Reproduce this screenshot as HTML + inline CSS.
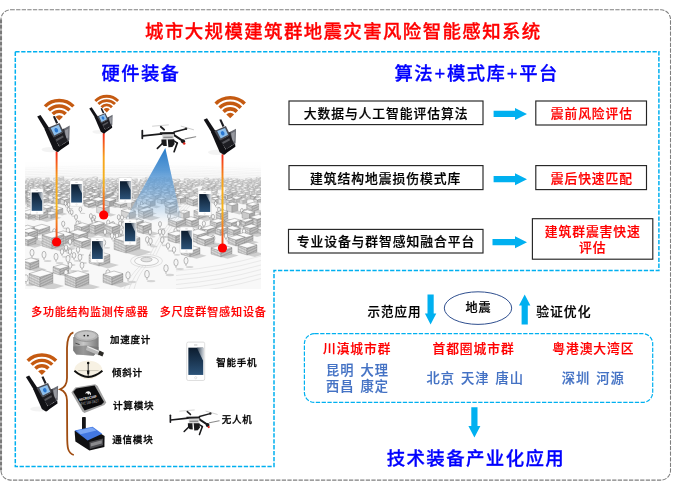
<!DOCTYPE html>
<html lang="zh-CN">
<head>
<meta charset="utf-8">
<title>城市大规模建筑群地震灾害风险智能感知系统</title>
<style>
html,body{margin:0;padding:0;background:#fff;}
body{width:681px;height:491px;position:relative;overflow:hidden;font-family:"Liberation Sans","Noto Sans CJK SC",sans-serif;}
#g{position:absolute;left:0;top:0;width:681px;height:491px;}
.t{position:absolute;white-space:nowrap;font-weight:500;line-height:1;margin:0;filter:blur(.3px);}
</style>
</head>
<body>
<svg id="g" width="681" height="491" viewBox="0 0 681 491">
<defs>
<linearGradient id="beam" x1="0" y1="0" x2="0" y2="1">
<stop offset="0" stop-color="#2177c6" stop-opacity=".97"/>
<stop offset=".3" stop-color="#3f8ad0" stop-opacity=".85"/>
<stop offset=".6" stop-color="#6aa5dc" stop-opacity=".6"/>
<stop offset=".85" stop-color="#8fbde6" stop-opacity=".3"/>
<stop offset="1" stop-color="#a9cdee" stop-opacity="0"/>
</linearGradient>
<linearGradient id="ln" x1="0" y1="0" x2="0" y2="1">
<stop offset="0" stop-color="#f5261c"/>
<stop offset="0.3" stop-color="#f7a21b"/>
<stop offset="0.6" stop-color="#f5b51e"/>
<stop offset="1" stop-color="#f23a1a"/>
</linearGradient>
<linearGradient id="scr" x1="0" y1="0" x2="0" y2="1">
<stop offset="0" stop-color="#0c1c2e"/>
<stop offset="1" stop-color="#2b5278"/>
</linearGradient>
<linearGradient id="glare" x1="0" y1="0" x2="1" y2="0">
<stop offset="0" stop-color="#3a4a5c"/>
<stop offset="1" stop-color="#e8ecf0"/>
</linearGradient>
<linearGradient id="cityfade" x1="0" y1="0" x2="0" y2="1">
<stop offset="0" stop-color="#fff" stop-opacity="1"/>
<stop offset="1" stop-color="#fff" stop-opacity="0"/>
</linearGradient>
<linearGradient id="metal" x1="0" y1="0" x2="1" y2="0">
<stop offset="0" stop-color="#8a8a8a"/>
<stop offset="0.4" stop-color="#c9c9c9"/>
<stop offset="1" stop-color="#7a7a7a"/>
</linearGradient>
<filter id="soft" x="-5%" y="-5%" width="110%" height="110%"><feGaussianBlur stdDeviation="0.35"/></filter>
<pattern id="hl" width="3" height="1.6" patternUnits="userSpaceOnUse" patternTransform="skewY(-16)"><rect width="3" height="1.6" fill="#dcdcdc"/><rect y="1" width="3" height=".45" fill="#9a9a9a"/><rect x="1.2" width=".4" height="1.6" fill="#b4b4b4"/></pattern>
<pattern id="hr" width="3" height="1.6" patternUnits="userSpaceOnUse" patternTransform="skewY(16)"><rect width="3" height="1.6" fill="#c0c0c0"/><rect y="1" width="3" height=".45" fill="#858585"/></pattern>
<clipPath id="cityclip"><rect x="25" y="162" width="236" height="127"/></clipPath>
<g id="wifi" fill="none" stroke="#c55a11" stroke-width="3.4">
<path d="M-14.05 -14.05 A19.87 19.87 0 0 1 14.05 -14.05"/>
<path d="M-10.25 -10.25 A14.5 14.5 0 0 1 10.25 -10.25"/>
<path d="M-6.45 -6.45 A9.12 9.12 0 0 1 6.45 -6.45"/>
<path d="M0 0 L-3.75 -3.75 A5.3 5.3 0 0 1 3.75 -3.75 Z" fill="#c55a11" stroke="none"/>
</g>
<g id="phone">
<rect x="0" y="0" width="18.6" height="38.6" rx="1.6" fill="#fff" stroke="#c8c8c8" stroke-width="0.6"/>
<rect x="1.7" y="5.6" width="15.4" height="27.4" fill="url(#scr)"/>
<path d="M10.5 5.6 H17.1 V19 Z" fill="url(#glare)" opacity="0.85"/>
<circle cx="9.3" cy="35.8" r="1.1" fill="none" stroke="#bbb" stroke-width="0.4"/>
<rect x="7.6" y="2.6" width="3.4" height="0.6" fill="#999"/>
</g>
<g id="router">
<ellipse cx="13" cy="34.6" rx="9" ry="2.6" fill="#f0f0f0" opacity=".8"/>
<path d="M-.3 1.6 L3 0 L12 13.6 L8.6 16.2 Z" fill="#121216"/>
<path d="M15.4 1.6 L17.4 1 L20.6 7.8 L18.6 8.8 Z" fill="#1b1b20"/>
<path d="M7 14 L11.4 12 L22.2 32.4 L19.8 37 L15.8 34.6 Z" fill="#121216"/>
<path d="M10.4 12.8 L22 7.9 L26.4 17 L16.2 22.8 Z" fill="#4a4c54"/>
<path d="M13.2 13 L21.2 9.8 L24.2 16.8 L16.8 20.6 Z" fill="#8fc0ec"/>
<ellipse cx="18.8" cy="15.2" rx="1.8" ry="2.3" fill="#2a78d2" transform="rotate(-25 18.8 15.2)"/>
<path d="M25 14.4 L32.2 10.6 L31.8 25 L29.4 28.2 L27.6 26.6 Z" fill="#6a6c74"/>
<path d="M27.4 15.4 L31 13.4 L30.8 22.6 L28.8 24 Z" fill="#9799a0"/>
<path d="M24.6 14.6 L26.6 13.6 L29 27.6 L27.4 27.4 Z" fill="#33343a"/>
<path d="M16 22.6 L26.2 17 L30.2 25.8 L22.2 31.6 Z" fill="#1e1e23"/>
<path d="M18.2 24.4 L25.4 20.4 L26.2 22.2 L19.2 26.2 Z" fill="#55565c"/>
<path d="M19.4 36.4 L21.6 31.6 L31.3 25.8 L31.6 28.9 L23.6 34.4 L20.6 37 Z" fill="#0d0d11"/>
</g>
<g id="drone" stroke-linecap="round">
<path d="M11.7 1.7 L27.6 .4" stroke="#d2d2d2" stroke-width="1" fill="none"/>
<path d="M40.4 1.7 L52.7 5.2" stroke="#cdcdcd" stroke-width="1" fill="none"/>
<path d="M44.3 14.4 L54.9 12.2" stroke="#8a8a8a" stroke-width="1.1" fill="none"/>
<path d="M1.5 6.2 V13.8" stroke="#1c1c1f" stroke-width="1.8" fill="none"/>
<path d="M2 11.4 L21 9.3" stroke="#19191b" stroke-width="1.7" fill="none"/>
<path d="M20 2.3 L23.4 5.2" stroke="#1e1e20" stroke-width="1.8" fill="none"/>
<path d="M33.3 7.6 L45 4.4" stroke="#1e1e20" stroke-width="1.6" fill="none"/>
<circle cx="45.2" cy="4.2" r="1.3" fill="#2a2a2a" stroke="none"/>
<path d="M33.3 10.6 L42.4 16.6" stroke="#19191b" stroke-width="2.1" fill="none"/>
<path d="M19 7.8 L33.8 7.6 L34.3 9.9 L19.4 10.3 Z" fill="#1c1c1e" stroke="none"/>
<path d="M21.4 9.9 L33.2 9.7 L33 15.4 L21.8 15.4 Z" fill="#d6d6d6" stroke="none"/>
<path d="M22.4 12.2 L32 12 L31.8 13.4 L22.6 13.6 Z" fill="#8a8a8c" stroke="none"/>
<path d="M20.6 15 L25.6 15 L26 21.6 L22.8 21.4 L20.8 19.4 Z" fill="#1a1a1c" stroke="none"/>
<path d="M27 15 L33.4 14.8 L33.8 19.6 L31.6 22.6 L27.6 22.8 Z" fill="#1a1a1c" stroke="none"/>
<path d="M21.6 19 L16.6 23.8" stroke="#19191b" stroke-width="1.7" fill="none"/>
<path d="M36.4 18.6 L33.3 27.2" stroke="#19191b" stroke-width="1.7" fill="none"/>
<path d="M33.6 16.6 L36.6 18.6" stroke="#19191b" stroke-width="1.6" fill="none"/>
<circle cx="42.2" cy="16.8" r="2.1" fill="#19191b" stroke="none"/>
<circle cx="43.4" cy="19" r="1.25" fill="#e0281e" stroke="none"/>
</g>
</defs>
<g clip-path="url(#cityclip)"><g filter="url(#soft)">
<rect x="20" y="158" width="246" height="136" fill="#f8f8f8"/>
<path d="M25 168.0 Q143 162.5 261 169.0" fill="none" stroke="#d2d2d2" stroke-width=".4"/>
<path d="M25 169.7 Q143 164.2 261 170.7" fill="none" stroke="#d2d2d2" stroke-width=".4"/>
<path d="M25 171.7 Q143 166.2 261 172.7" fill="none" stroke="#d2d2d2" stroke-width=".4"/>
<path d="M25 173.1 Q143 167.6 261 174.1" fill="none" stroke="#d2d2d2" stroke-width=".4"/>
<path d="M25 174.8 Q143 169.3 261 175.8" fill="none" stroke="#d2d2d2" stroke-width=".4"/>
<path d="M25 176.6 Q143 171.1 261 177.6" fill="none" stroke="#d2d2d2" stroke-width=".4"/>
<path d="M25 178.0 Q143 172.5 261 179.0" fill="none" stroke="#d2d2d2" stroke-width=".4"/>
<path d="M25 179.9 Q143 174.4 261 180.9" fill="none" stroke="#d2d2d2" stroke-width=".4"/>
<polygon points="60.3,180.8 64.0,179.7 67.0,180.5 63.3,181.6" fill="#b4b4b4" opacity="0.4"/>
<polygon points="58.4,180.3 60.3,180.8 60.3,178.1 58.4,177.5" fill="#d4d4d4" stroke="#9c9c9c" stroke-width=".3"/>
<polygon points="60.3,180.8 64.0,179.7 64.0,177.0 60.3,178.1" fill="#b8b8b8" stroke="#9c9c9c" stroke-width=".3"/>
<polygon points="60.3,178.1 64.0,177.0 62.1,176.4 58.4,177.5" fill="#fbfbfb" stroke="#9c9c9c" stroke-width=".4"/>
<polygon points="128.6,181.0 131.1,180.2 133.9,181.0 131.4,181.7" fill="#b4b4b4" opacity="0.4"/>
<polygon points="126.9,180.5 128.6,181.0 128.6,178.5 126.9,177.9" fill="#e6e6e6" stroke="#9c9c9c" stroke-width=".3"/>
<polygon points="128.6,181.0 131.1,180.2 131.1,177.7 128.6,178.5" fill="#cacaca" stroke="#9c9c9c" stroke-width=".3"/>
<polygon points="128.6,178.5 131.1,177.7 129.4,177.2 126.9,177.9" fill="#fbfbfb" stroke="#9c9c9c" stroke-width=".4"/>
<polygon points="148.0,181.0 150.7,180.2 153.5,181.0 150.8,181.8" fill="#b4b4b4" opacity="0.4"/>
<polygon points="145.4,180.2 148.0,181.0 148.0,178.4 145.4,177.7" fill="#e6e6e6" stroke="#9c9c9c" stroke-width=".3"/>
<polygon points="148.0,181.0 150.7,180.2 150.7,177.6 148.0,178.4" fill="#cacaca" stroke="#9c9c9c" stroke-width=".3"/>
<polygon points="148.0,178.4 150.7,177.6 148.1,176.9 145.4,177.7" fill="#fbfbfb" stroke="#9c9c9c" stroke-width=".4"/>
<polygon points="56.4,181.0 59.6,180.1 61.7,180.6 58.5,181.6" fill="#b4b4b4" opacity="0.4"/>
<polygon points="53.5,180.1 56.4,181.0 56.4,179.1 53.5,178.2" fill="#dedede" stroke="#9c9c9c" stroke-width=".3"/>
<polygon points="56.4,181.0 59.6,180.1 59.6,178.2 56.4,179.1" fill="#c2c2c2" stroke="#9c9c9c" stroke-width=".3"/>
<polygon points="56.4,179.1 59.6,178.2 56.6,177.3 53.5,178.2" fill="#fbfbfb" stroke="#9c9c9c" stroke-width=".4"/>
<polygon points="158.1,181.0 161.1,180.1 163.2,180.7 160.3,181.6" fill="#b4b4b4" opacity="0.4"/>
<polygon points="155.6,180.3 158.1,181.0 158.1,179.0 155.6,178.3" fill="#e6e6e6" stroke="#9c9c9c" stroke-width=".3"/>
<polygon points="158.1,181.0 161.1,180.1 161.1,178.2 158.1,179.0" fill="#cacaca" stroke="#9c9c9c" stroke-width=".3"/>
<polygon points="158.1,179.0 161.1,178.2 158.6,177.4 155.6,178.3" fill="#fbfbfb" stroke="#9c9c9c" stroke-width=".4"/>
<polygon points="90.4,181.2 93.4,180.3 95.3,180.8 92.3,181.7" fill="#b4b4b4" opacity="0.4"/>
<polygon points="87.3,180.2 90.4,181.2 90.4,179.4 87.3,178.5" fill="#e6e6e6" stroke="#9c9c9c" stroke-width=".3"/>
<polygon points="90.4,181.2 93.4,180.3 93.4,178.5 90.4,179.4" fill="#cacaca" stroke="#9c9c9c" stroke-width=".3"/>
<polygon points="90.4,179.4 93.4,178.5 90.4,177.6 87.3,178.5" fill="#fbfbfb" stroke="#9c9c9c" stroke-width=".4"/>
<polygon points="95.6,181.3 97.9,180.6 101.4,181.5 99.1,182.2" fill="#b4b4b4" opacity="0.4"/>
<polygon points="92.7,180.4 95.6,181.3 95.6,178.1 92.7,177.2" fill="#d4d4d4" stroke="#9c9c9c" stroke-width=".3"/>
<polygon points="95.6,181.3 97.9,180.6 97.9,177.4 95.6,178.1" fill="#b8b8b8" stroke="#9c9c9c" stroke-width=".3"/>
<polygon points="95.6,178.1 97.9,177.4 95.0,176.5 92.7,177.2" fill="#fbfbfb" stroke="#9c9c9c" stroke-width=".4"/>
<polygon points="110.0,181.3 113.2,180.4 114.9,180.8 111.7,181.8" fill="#b4b4b4" opacity="0.4"/>
<polygon points="107.4,180.5 110.0,181.3 110.0,179.8 107.4,179.0" fill="#e6e6e6" stroke="#9c9c9c" stroke-width=".3"/>
<polygon points="110.0,181.3 113.2,180.4 113.2,178.8 110.0,179.8" fill="#cacaca" stroke="#9c9c9c" stroke-width=".3"/>
<polygon points="110.0,179.8 113.2,178.8 110.6,178.0 107.4,179.0" fill="#fbfbfb" stroke="#9c9c9c" stroke-width=".4"/>
<polygon points="47.3,181.3 49.4,180.7 52.3,181.5 50.3,182.1" fill="#b4b4b4" opacity="0.4"/>
<polygon points="45.6,180.8 47.3,181.3 47.3,178.6 45.6,178.1" fill="#e6e6e6" stroke="#9c9c9c" stroke-width=".3"/>
<polygon points="47.3,181.3 49.4,180.7 49.4,178.0 47.3,178.6" fill="#cacaca" stroke="#9c9c9c" stroke-width=".3"/>
<polygon points="47.3,178.6 49.4,178.0 47.7,177.5 45.6,178.1" fill="#fbfbfb" stroke="#9c9c9c" stroke-width=".4"/>
<polygon points="162.4,181.4 165.2,180.5 168.7,181.5 165.8,182.4" fill="#b4b4b4" opacity="0.4"/>
<polygon points="159.7,180.6 162.4,181.4 162.4,178.3 159.7,177.5" fill="#e6e6e6" stroke="#9c9c9c" stroke-width=".3"/>
<polygon points="162.4,181.4 165.2,180.5 165.2,177.4 162.4,178.3" fill="#cacaca" stroke="#9c9c9c" stroke-width=".3"/>
<polygon points="162.4,178.3 165.2,177.4 162.6,176.6 159.7,177.5" fill="#fbfbfb" stroke="#9c9c9c" stroke-width=".4"/>
<polygon points="258.5,181.4 260.8,180.7 264.2,181.7 262.0,182.4" fill="#b4b4b4" opacity="0.4"/>
<polygon points="256.1,180.7 258.5,181.4 258.5,178.3 256.1,177.5" fill="#d4d4d4" stroke="#9c9c9c" stroke-width=".3"/>
<polygon points="258.5,181.4 260.8,180.7 260.8,177.6 258.5,178.3" fill="#b8b8b8" stroke="#9c9c9c" stroke-width=".3"/>
<polygon points="258.5,178.3 260.8,177.6 258.3,176.9 256.1,177.5" fill="#fbfbfb" stroke="#9c9c9c" stroke-width=".4"/>
<polygon points="38.3,181.5 41.2,180.6 43.6,181.3 40.7,182.1" fill="#b4b4b4" opacity="0.4"/>
<polygon points="35.5,180.6 38.3,181.5 38.3,179.2 35.5,178.4" fill="#e6e6e6" stroke="#9c9c9c" stroke-width=".3"/>
<polygon points="38.3,181.5 41.2,180.6 41.2,178.3 38.3,179.2" fill="#cacaca" stroke="#9c9c9c" stroke-width=".3"/>
<polygon points="38.3,179.2 41.2,178.3 38.4,177.5 35.5,178.4" fill="#fbfbfb" stroke="#9c9c9c" stroke-width=".4"/>
<polygon points="115.1,181.5 117.8,180.7 119.5,181.1 116.7,181.9" fill="#b4b4b4" opacity="0.4"/>
<polygon points="113.1,180.9 115.1,181.5 115.1,180.0 113.1,179.4" fill="#e6e6e6" stroke="#9c9c9c" stroke-width=".3"/>
<polygon points="115.1,181.5 117.8,180.7 117.8,179.2 115.1,180.0" fill="#cacaca" stroke="#9c9c9c" stroke-width=".3"/>
<polygon points="115.1,180.0 117.8,179.2 115.8,178.6 113.1,179.4" fill="#fbfbfb" stroke="#9c9c9c" stroke-width=".4"/>
<polygon points="81.0,181.5 83.4,180.8 85.6,181.4 83.2,182.1" fill="#b4b4b4" opacity="0.4"/>
<polygon points="78.1,180.6 81.0,181.5 81.0,179.5 78.1,178.6" fill="#e6e6e6" stroke="#9c9c9c" stroke-width=".3"/>
<polygon points="81.0,181.5 83.4,180.8 83.4,178.8 81.0,179.5" fill="#cacaca" stroke="#9c9c9c" stroke-width=".3"/>
<polygon points="81.0,179.5 83.4,178.8 80.5,177.9 78.1,178.6" fill="#fbfbfb" stroke="#9c9c9c" stroke-width=".4"/>
<polygon points="238.1,181.6 240.0,181.0 241.6,181.5 239.7,182.1" fill="#b4b4b4" opacity="0.4"/>
<polygon points="235.6,180.9 238.1,181.6 238.1,180.2 235.6,179.4" fill="#d4d4d4" stroke="#9c9c9c" stroke-width=".3"/>
<polygon points="238.1,181.6 240.0,181.0 240.0,179.6 238.1,180.2" fill="#b8b8b8" stroke="#9c9c9c" stroke-width=".3"/>
<polygon points="238.1,180.2 240.0,179.6 237.5,178.8 235.6,179.4" fill="#fbfbfb" stroke="#9c9c9c" stroke-width=".4"/>
<polygon points="166.8,181.6 169.9,180.7 173.0,181.5 169.9,182.5" fill="#b4b4b4" opacity="0.4"/>
<polygon points="164.3,180.9 166.8,181.6 166.8,178.8 164.3,178.0" fill="#d4d4d4" stroke="#9c9c9c" stroke-width=".3"/>
<polygon points="166.8,181.6 169.9,180.7 169.9,177.9 166.8,178.8" fill="#b8b8b8" stroke="#9c9c9c" stroke-width=".3"/>
<polygon points="166.8,178.8 169.9,177.9 167.4,177.1 164.3,178.0" fill="#fbfbfb" stroke="#9c9c9c" stroke-width=".4"/>
<polygon points="206.8,181.7 208.9,181.0 211.8,181.8 209.6,182.5" fill="#b4b4b4" opacity="0.4"/>
<polygon points="204.2,180.9 206.8,181.7 206.8,179.1 204.2,178.3" fill="#e6e6e6" stroke="#9c9c9c" stroke-width=".3"/>
<polygon points="206.8,181.7 208.9,181.0 208.9,178.4 206.8,179.1" fill="#cacaca" stroke="#9c9c9c" stroke-width=".3"/>
<polygon points="206.8,179.1 208.9,178.4 206.4,177.7 204.2,178.3" fill="#fbfbfb" stroke="#9c9c9c" stroke-width=".4"/>
<polygon points="186.1,181.8 188.9,181.0 190.9,181.5 188.1,182.3" fill="#b4b4b4" opacity="0.4"/>
<polygon points="184.0,181.2 186.1,181.8 186.1,180.0 184.0,179.4" fill="#d4d4d4" stroke="#9c9c9c" stroke-width=".3"/>
<polygon points="186.1,181.8 188.9,181.0 188.9,179.2 186.1,180.0" fill="#b8b8b8" stroke="#9c9c9c" stroke-width=".3"/>
<polygon points="186.1,180.0 188.9,179.2 186.8,178.5 184.0,179.4" fill="#fbfbfb" stroke="#9c9c9c" stroke-width=".4"/>
<polygon points="33.6,181.9 36.0,181.1 38.4,181.8 36.1,182.5" fill="#b4b4b4" opacity="0.4"/>
<polygon points="31.9,181.3 33.6,181.9 33.6,179.6 31.9,179.1" fill="#e6e6e6" stroke="#9c9c9c" stroke-width=".3"/>
<polygon points="33.6,181.9 36.0,181.1 36.0,178.9 33.6,179.6" fill="#cacaca" stroke="#9c9c9c" stroke-width=".3"/>
<polygon points="33.6,179.6 36.0,178.9 34.3,178.4 31.9,179.1" fill="#fbfbfb" stroke="#9c9c9c" stroke-width=".4"/>
<polygon points="211.7,181.9 214.6,181.1 216.1,181.5 213.3,182.4" fill="#b4b4b4" opacity="0.4"/>
<polygon points="209.8,181.3 211.7,181.9 211.7,180.5 209.8,180.0" fill="#e6e6e6" stroke="#9c9c9c" stroke-width=".3"/>
<polygon points="211.7,181.9 214.6,181.1 214.6,179.7 211.7,180.5" fill="#cacaca" stroke="#9c9c9c" stroke-width=".3"/>
<polygon points="211.7,180.5 214.6,179.7 212.6,179.1 209.8,180.0" fill="#fbfbfb" stroke="#9c9c9c" stroke-width=".4"/>
<polygon points="176.8,182.0 179.8,181.1 181.6,181.6 178.6,182.5" fill="#b4b4b4" opacity="0.4"/>
<polygon points="174.6,181.3 176.8,182.0 176.8,180.4 174.6,179.7" fill="#e6e6e6" stroke="#9c9c9c" stroke-width=".3"/>
<polygon points="176.8,182.0 179.8,181.1 179.8,179.4 176.8,180.4" fill="#cacaca" stroke="#9c9c9c" stroke-width=".3"/>
<polygon points="176.8,180.4 179.8,179.4 177.7,178.8 174.6,179.7" fill="#fbfbfb" stroke="#9c9c9c" stroke-width=".4"/>
<polygon points="106.0,182.0 108.7,181.2 111.3,181.9 108.5,182.7" fill="#b4b4b4" opacity="0.4"/>
<polygon points="102.8,181.1 106.0,182.0 106.0,179.7 102.8,178.8" fill="#e6e6e6" stroke="#9c9c9c" stroke-width=".3"/>
<polygon points="106.0,182.0 108.7,181.2 108.7,178.9 106.0,179.7" fill="#cacaca" stroke="#9c9c9c" stroke-width=".3"/>
<polygon points="106.0,179.7 108.7,178.9 105.6,178.0 102.8,178.8" fill="#fbfbfb" stroke="#9c9c9c" stroke-width=".4"/>
<polygon points="119.1,182.1 121.9,181.2 125.0,182.1 122.2,182.9" fill="#b4b4b4" opacity="0.4"/>
<polygon points="116.9,181.4 119.1,182.1 119.1,179.3 116.9,178.6" fill="#e6e6e6" stroke="#9c9c9c" stroke-width=".3"/>
<polygon points="119.1,182.1 121.9,181.2 121.9,178.4 119.1,179.3" fill="#cacaca" stroke="#9c9c9c" stroke-width=".3"/>
<polygon points="119.1,179.3 121.9,178.4 119.7,177.8 116.9,178.6" fill="#fbfbfb" stroke="#9c9c9c" stroke-width=".4"/>
<polygon points="253.3,182.1 257.1,180.9 259.1,181.5 255.3,182.6" fill="#b4b4b4" opacity="0.4"/>
<polygon points="251.5,181.5 253.3,182.1 253.3,180.3 251.5,179.7" fill="#dedede" stroke="#9c9c9c" stroke-width=".3"/>
<polygon points="253.3,182.1 257.1,180.9 257.1,179.1 253.3,180.3" fill="#c2c2c2" stroke="#9c9c9c" stroke-width=".3"/>
<polygon points="253.3,180.3 257.1,179.1 255.3,178.6 251.5,179.7" fill="#fbfbfb" stroke="#9c9c9c" stroke-width=".4"/>
<polygon points="264.0,182.1 267.1,181.2 268.9,181.7 265.8,182.6" fill="#b4b4b4" opacity="0.4"/>
<polygon points="261.8,181.5 264.0,182.1 264.0,180.5 261.8,179.8" fill="#dedede" stroke="#9c9c9c" stroke-width=".3"/>
<polygon points="264.0,182.1 267.1,181.2 267.1,179.5 264.0,180.5" fill="#c2c2c2" stroke="#9c9c9c" stroke-width=".3"/>
<polygon points="264.0,180.5 267.1,179.5 264.9,178.9 261.8,179.8" fill="#fbfbfb" stroke="#9c9c9c" stroke-width=".4"/>
<polygon points="75.5,182.2 77.8,181.5 80.6,182.3 78.3,182.9" fill="#b4b4b4" opacity="0.4"/>
<polygon points="72.2,181.2 75.5,182.2 75.5,179.7 72.2,178.7" fill="#e6e6e6" stroke="#9c9c9c" stroke-width=".3"/>
<polygon points="75.5,182.2 77.8,181.5 77.8,179.0 75.5,179.7" fill="#cacaca" stroke="#9c9c9c" stroke-width=".3"/>
<polygon points="75.5,179.7 77.8,179.0 74.5,178.0 72.2,178.7" fill="#fbfbfb" stroke="#9c9c9c" stroke-width=".4"/>
<polygon points="153.5,182.2 156.8,181.2 159.9,182.0 156.6,183.0" fill="#b4b4b4" opacity="0.4"/>
<polygon points="151.2,181.5 153.5,182.2 153.5,179.4 151.2,178.7" fill="#d4d4d4" stroke="#9c9c9c" stroke-width=".3"/>
<polygon points="153.5,182.2 156.8,181.2 156.8,178.4 153.5,179.4" fill="#b8b8b8" stroke="#9c9c9c" stroke-width=".3"/>
<polygon points="153.5,179.4 156.8,178.4 154.6,177.7 151.2,178.7" fill="#fbfbfb" stroke="#9c9c9c" stroke-width=".4"/>
<polygon points="215.9,182.3 218.5,181.5 221.1,182.2 218.5,183.0" fill="#b4b4b4" opacity="0.4"/>
<polygon points="213.1,181.4 215.9,182.3 215.9,179.9 213.1,179.1" fill="#e6e6e6" stroke="#9c9c9c" stroke-width=".3"/>
<polygon points="215.9,182.3 218.5,181.5 218.5,179.1 215.9,179.9" fill="#cacaca" stroke="#9c9c9c" stroke-width=".3"/>
<polygon points="215.9,179.9 218.5,179.1 215.7,178.3 213.1,179.1" fill="#fbfbfb" stroke="#9c9c9c" stroke-width=".4"/>
<polygon points="85.0,182.3 88.1,181.3 90.4,182.0 87.3,182.9" fill="#b4b4b4" opacity="0.4"/>
<polygon points="83.3,181.8 85.0,182.3 85.0,180.2 83.3,179.7" fill="#e6e6e6" stroke="#9c9c9c" stroke-width=".3"/>
<polygon points="85.0,182.3 88.1,181.3 88.1,179.3 85.0,180.2" fill="#cacaca" stroke="#9c9c9c" stroke-width=".3"/>
<polygon points="85.0,180.2 88.1,179.3 86.5,178.8 83.3,179.7" fill="#fbfbfb" stroke="#9c9c9c" stroke-width=".4"/>
<polygon points="29.6,182.3 32.4,181.5 35.3,182.2 32.5,183.1" fill="#b4b4b4" opacity="0.4"/>
<polygon points="26.7,181.4 29.6,182.3 29.6,179.7 26.7,178.8" fill="#e6e6e6" stroke="#9c9c9c" stroke-width=".3"/>
<polygon points="29.6,182.3 32.4,181.5 32.4,178.8 29.6,179.7" fill="#cacaca" stroke="#9c9c9c" stroke-width=".3"/>
<polygon points="29.6,179.7 32.4,178.8 29.5,178.0 26.7,178.8" fill="#fbfbfb" stroke="#9c9c9c" stroke-width=".4"/>
<polygon points="229.6,182.3 231.9,181.6 235.2,182.5 232.8,183.2" fill="#b4b4b4" opacity="0.4"/>
<polygon points="226.7,181.5 229.6,182.3 229.6,179.4 226.7,178.5" fill="#e6e6e6" stroke="#9c9c9c" stroke-width=".3"/>
<polygon points="229.6,182.3 231.9,181.6 231.9,178.7 229.6,179.4" fill="#cacaca" stroke="#9c9c9c" stroke-width=".3"/>
<polygon points="229.6,179.4 231.9,178.7 229.1,177.8 226.7,178.5" fill="#fbfbfb" stroke="#9c9c9c" stroke-width=".4"/>
<polygon points="225.0,182.4 228.6,181.3 231.3,182.0 227.6,183.1" fill="#b4b4b4" opacity="0.4"/>
<polygon points="223.3,181.9 225.0,182.4 225.0,179.9 223.3,179.4" fill="#dedede" stroke="#9c9c9c" stroke-width=".3"/>
<polygon points="225.0,182.4 228.6,181.3 228.6,178.8 225.0,179.9" fill="#c2c2c2" stroke="#9c9c9c" stroke-width=".3"/>
<polygon points="225.0,179.9 228.6,178.8 226.9,178.3 223.3,179.4" fill="#fbfbfb" stroke="#9c9c9c" stroke-width=".4"/>
<polygon points="220.4,182.5 224.0,181.4 227.5,182.4 223.9,183.5" fill="#b4b4b4" opacity="0.4"/>
<polygon points="218.6,182.0 220.4,182.5 220.4,179.4 218.6,178.8" fill="#e6e6e6" stroke="#9c9c9c" stroke-width=".3"/>
<polygon points="220.4,182.5 224.0,181.4 224.0,178.3 220.4,179.4" fill="#cacaca" stroke="#9c9c9c" stroke-width=".3"/>
<polygon points="220.4,179.4 224.0,178.3 222.3,177.7 218.6,178.8" fill="#fbfbfb" stroke="#9c9c9c" stroke-width=".4"/>
<polygon points="65.5,182.6 68.5,181.7 70.4,182.2 67.4,183.1" fill="#b4b4b4" opacity="0.4"/>
<polygon points="63.1,181.8 65.5,182.6 65.5,180.8 63.1,180.1" fill="#e6e6e6" stroke="#9c9c9c" stroke-width=".3"/>
<polygon points="65.5,182.6 68.5,181.7 68.5,179.9 65.5,180.8" fill="#cacaca" stroke="#9c9c9c" stroke-width=".3"/>
<polygon points="65.5,180.8 68.5,179.9 66.1,179.2 63.1,180.1" fill="#fbfbfb" stroke="#9c9c9c" stroke-width=".4"/>
<polygon points="133.6,182.6 137.5,181.4 140.2,182.1 136.3,183.3" fill="#b4b4b4" opacity="0.4"/>
<polygon points="131.9,182.0 133.6,182.6 133.6,180.1 131.9,179.6" fill="#e6e6e6" stroke="#9c9c9c" stroke-width=".3"/>
<polygon points="133.6,182.6 137.5,181.4 137.5,179.0 133.6,180.1" fill="#cacaca" stroke="#9c9c9c" stroke-width=".3"/>
<polygon points="133.6,180.1 137.5,179.0 135.7,178.5 131.9,179.6" fill="#fbfbfb" stroke="#9c9c9c" stroke-width=".4"/>
<polygon points="43.3,182.6 45.7,181.9 47.3,182.4 44.9,183.1" fill="#b4b4b4" opacity="0.4"/>
<polygon points="41.2,182.0 43.3,182.6 43.3,181.1 41.2,180.5" fill="#d4d4d4" stroke="#9c9c9c" stroke-width=".3"/>
<polygon points="43.3,182.6 45.7,181.9 45.7,180.4 43.3,181.1" fill="#b8b8b8" stroke="#9c9c9c" stroke-width=".3"/>
<polygon points="43.3,181.1 45.7,180.4 43.5,179.8 41.2,180.5" fill="#fbfbfb" stroke="#9c9c9c" stroke-width=".4"/>
<polygon points="201.3,182.7 203.6,182.0 205.6,182.5 203.4,183.2" fill="#b4b4b4" opacity="0.4"/>
<polygon points="198.4,181.8 201.3,182.7 201.3,180.8 198.4,179.9" fill="#e6e6e6" stroke="#9c9c9c" stroke-width=".3"/>
<polygon points="201.3,182.7 203.6,182.0 203.6,180.1 201.3,180.8" fill="#cacaca" stroke="#9c9c9c" stroke-width=".3"/>
<polygon points="201.3,180.8 203.6,180.1 200.7,179.2 198.4,179.9" fill="#fbfbfb" stroke="#9c9c9c" stroke-width=".4"/>
<polygon points="143.2,182.7 146.9,181.6 149.3,182.3 145.6,183.4" fill="#b4b4b4" opacity="0.4"/>
<polygon points="140.1,181.8 143.2,182.7 143.2,180.5 140.1,179.6" fill="#d4d4d4" stroke="#9c9c9c" stroke-width=".3"/>
<polygon points="143.2,182.7 146.9,181.6 146.9,179.4 143.2,180.5" fill="#b8b8b8" stroke="#9c9c9c" stroke-width=".3"/>
<polygon points="143.2,180.5 146.9,179.4 143.8,178.5 140.1,179.6" fill="#fbfbfb" stroke="#9c9c9c" stroke-width=".4"/>
<polygon points="233.8,182.7 237.6,181.6 240.2,182.3 236.4,183.4" fill="#b4b4b4" opacity="0.4"/>
<polygon points="230.5,181.7 233.8,182.7 233.8,180.3 230.5,179.3" fill="#dedede" stroke="#9c9c9c" stroke-width=".3"/>
<polygon points="233.8,182.7 237.6,181.6 237.6,179.1 233.8,180.3" fill="#c2c2c2" stroke="#9c9c9c" stroke-width=".3"/>
<polygon points="233.8,180.3 237.6,179.1 234.3,178.2 230.5,179.3" fill="#fbfbfb" stroke="#9c9c9c" stroke-width=".4"/>
<polygon points="196.4,182.7 199.7,181.7 201.8,182.3 198.5,183.3" fill="#b4b4b4" opacity="0.4"/>
<polygon points="193.8,181.9 196.4,182.7 196.4,180.7 193.8,180.0" fill="#e6e6e6" stroke="#9c9c9c" stroke-width=".3"/>
<polygon points="196.4,182.7 199.7,181.7 199.7,179.7 196.4,180.7" fill="#cacaca" stroke="#9c9c9c" stroke-width=".3"/>
<polygon points="196.4,180.7 199.7,179.7 197.1,179.0 193.8,180.0" fill="#fbfbfb" stroke="#9c9c9c" stroke-width=".4"/>
<polygon points="243.2,182.7 245.2,182.1 246.8,182.6 244.8,183.2" fill="#b4b4b4" opacity="0.4"/>
<polygon points="240.2,181.8 243.2,182.7 243.2,181.2 240.2,180.3" fill="#e6e6e6" stroke="#9c9c9c" stroke-width=".3"/>
<polygon points="243.2,182.7 245.2,182.1 245.2,180.6 243.2,181.2" fill="#cacaca" stroke="#9c9c9c" stroke-width=".3"/>
<polygon points="243.2,181.2 245.2,180.6 242.2,179.7 240.2,180.3" fill="#fbfbfb" stroke="#9c9c9c" stroke-width=".4"/>
<polygon points="171.5,182.7 174.2,181.9 177.0,182.7 174.3,183.5" fill="#b4b4b4" opacity="0.4"/>
<polygon points="169.4,182.1 171.5,182.7 171.5,180.1 169.4,179.5" fill="#e6e6e6" stroke="#9c9c9c" stroke-width=".3"/>
<polygon points="171.5,182.7 174.2,181.9 174.2,179.3 171.5,180.1" fill="#cacaca" stroke="#9c9c9c" stroke-width=".3"/>
<polygon points="171.5,180.1 174.2,179.3 172.1,178.7 169.4,179.5" fill="#fbfbfb" stroke="#9c9c9c" stroke-width=".4"/>
<polygon points="24.8,182.7 26.9,182.1 28.6,182.6 26.5,183.2" fill="#b4b4b4" opacity="0.4"/>
<polygon points="22.6,182.1 24.8,182.7 24.8,181.2 22.6,180.5" fill="#e6e6e6" stroke="#9c9c9c" stroke-width=".3"/>
<polygon points="24.8,182.7 26.9,182.1 26.9,180.6 24.8,181.2" fill="#cacaca" stroke="#9c9c9c" stroke-width=".3"/>
<polygon points="24.8,181.2 26.9,180.6 24.7,179.9 22.6,180.5" fill="#fbfbfb" stroke="#9c9c9c" stroke-width=".4"/>
<polygon points="191.1,182.8 194.6,181.7 196.8,182.3 193.3,183.4" fill="#b4b4b4" opacity="0.4"/>
<polygon points="188.4,182.0 191.1,182.8 191.1,180.8 188.4,180.0" fill="#dedede" stroke="#9c9c9c" stroke-width=".3"/>
<polygon points="191.1,182.8 194.6,181.7 194.6,179.7 191.1,180.8" fill="#c2c2c2" stroke="#9c9c9c" stroke-width=".3"/>
<polygon points="191.1,180.8 194.6,179.7 191.9,178.9 188.4,180.0" fill="#fbfbfb" stroke="#9c9c9c" stroke-width=".4"/>
<polygon points="70.0,182.9 72.7,182.1 74.2,182.5 71.5,183.3" fill="#b4b4b4" opacity="0.4"/>
<polygon points="66.7,181.9 70.0,182.9 70.0,181.5 66.7,180.5" fill="#dedede" stroke="#9c9c9c" stroke-width=".3"/>
<polygon points="70.0,182.9 72.7,182.1 72.7,180.7 70.0,181.5" fill="#c2c2c2" stroke="#9c9c9c" stroke-width=".3"/>
<polygon points="70.0,181.5 72.7,180.7 69.4,179.7 66.7,180.5" fill="#fbfbfb" stroke="#9c9c9c" stroke-width=".4"/>
<polygon points="247.9,183.0 251.6,181.9 255.2,182.8 251.5,184.0" fill="#b4b4b4" opacity="0.4"/>
<polygon points="245.5,182.2 247.9,183.0 247.9,179.7 245.5,178.9" fill="#d4d4d4" stroke="#9c9c9c" stroke-width=".3"/>
<polygon points="247.9,183.0 251.6,181.9 251.6,178.6 247.9,179.7" fill="#b8b8b8" stroke="#9c9c9c" stroke-width=".3"/>
<polygon points="247.9,179.7 251.6,178.6 249.2,177.8 245.5,178.9" fill="#fbfbfb" stroke="#9c9c9c" stroke-width=".4"/>
<polygon points="100.9,183.1 103.7,182.3 105.2,182.7 102.5,183.5" fill="#b4b4b4" opacity="0.4"/>
<polygon points="99.1,182.6 100.9,183.1 100.9,181.7 99.1,181.1" fill="#e6e6e6" stroke="#9c9c9c" stroke-width=".3"/>
<polygon points="100.9,183.1 103.7,182.3 103.7,180.8 100.9,181.7" fill="#cacaca" stroke="#9c9c9c" stroke-width=".3"/>
<polygon points="100.9,181.7 103.7,180.8 101.8,180.3 99.1,181.1" fill="#fbfbfb" stroke="#9c9c9c" stroke-width=".4"/>
<polygon points="162.3,183.4 164.5,182.8 167.9,183.7 165.7,184.3" fill="#b4b4b4" opacity="0.4"/>
<polygon points="159.5,182.6 162.3,183.4 162.3,180.4 159.5,179.6" fill="#e6e6e6" stroke="#9c9c9c" stroke-width=".3"/>
<polygon points="162.3,183.4 164.5,182.8 164.5,179.8 162.3,180.4" fill="#cacaca" stroke="#9c9c9c" stroke-width=".3"/>
<polygon points="162.3,180.4 164.5,179.8 161.7,178.9 159.5,179.6" fill="#fbfbfb" stroke="#9c9c9c" stroke-width=".4"/>
<polygon points="187.7,183.5 189.8,182.9 193.6,183.9 191.4,184.5" fill="#b4b4b4" opacity="0.4"/>
<polygon points="184.2,182.5 187.7,183.5 187.7,180.1 184.2,179.1" fill="#e6e6e6" stroke="#9c9c9c" stroke-width=".3"/>
<polygon points="187.7,183.5 189.8,182.9 189.8,179.5 187.7,180.1" fill="#cacaca" stroke="#9c9c9c" stroke-width=".3"/>
<polygon points="187.7,180.1 189.8,179.5 186.3,178.4 184.2,179.1" fill="#fbfbfb" stroke="#9c9c9c" stroke-width=".4"/>
<polygon points="249.9,183.5 252.2,182.9 254.0,183.3 251.7,184.0" fill="#b4b4b4" opacity="0.4"/>
<polygon points="246.6,182.5 249.9,183.5 249.9,181.9 246.6,180.9" fill="#d4d4d4" stroke="#9c9c9c" stroke-width=".3"/>
<polygon points="249.9,183.5 252.2,182.9 252.2,181.2 249.9,181.9" fill="#b8b8b8" stroke="#9c9c9c" stroke-width=".3"/>
<polygon points="249.9,181.9 252.2,181.2 248.9,180.2 246.6,180.9" fill="#fbfbfb" stroke="#9c9c9c" stroke-width=".4"/>
<polygon points="93.2,183.6 97.0,182.4 100.7,183.4 96.9,184.6" fill="#b4b4b4" opacity="0.4"/>
<polygon points="89.7,182.5 93.2,183.6 93.2,180.2 89.7,179.1" fill="#e6e6e6" stroke="#9c9c9c" stroke-width=".3"/>
<polygon points="93.2,183.6 97.0,182.4 97.0,179.1 93.2,180.2" fill="#cacaca" stroke="#9c9c9c" stroke-width=".3"/>
<polygon points="93.2,180.2 97.0,179.1 93.5,178.0 89.7,179.1" fill="#fbfbfb" stroke="#9c9c9c" stroke-width=".4"/>
<polygon points="73.8,183.6 76.3,182.8 79.7,183.8 77.3,184.5" fill="#b4b4b4" opacity="0.4"/>
<polygon points="71.0,182.7 73.8,183.6 73.8,180.5 71.0,179.6" fill="#dedede" stroke="#9c9c9c" stroke-width=".3"/>
<polygon points="73.8,183.6 76.3,182.8 76.3,179.7 73.8,180.5" fill="#c2c2c2" stroke="#9c9c9c" stroke-width=".3"/>
<polygon points="73.8,180.5 76.3,179.7 73.4,178.9 71.0,179.6" fill="#fbfbfb" stroke="#9c9c9c" stroke-width=".4"/>
<polygon points="152.5,183.6 154.7,182.9 157.1,183.6 155.0,184.2" fill="#b4b4b4" opacity="0.4"/>
<polygon points="150.4,182.9 152.5,183.6 152.5,181.3 150.4,180.7" fill="#dedede" stroke="#9c9c9c" stroke-width=".3"/>
<polygon points="152.5,183.6 154.7,182.9 154.7,180.7 152.5,181.3" fill="#c2c2c2" stroke="#9c9c9c" stroke-width=".3"/>
<polygon points="152.5,181.3 154.7,180.7 152.6,180.1 150.4,180.7" fill="#fbfbfb" stroke="#9c9c9c" stroke-width=".4"/>
<polygon points="211.2,183.6 214.9,182.5 217.2,183.1 213.4,184.3" fill="#b4b4b4" opacity="0.4"/>
<polygon points="209.2,183.0 211.2,183.6 211.2,181.6 209.2,181.0" fill="#d4d4d4" stroke="#9c9c9c" stroke-width=".3"/>
<polygon points="211.2,183.6 214.9,182.5 214.9,180.5 211.2,181.6" fill="#b8b8b8" stroke="#9c9c9c" stroke-width=".3"/>
<polygon points="211.2,181.6 214.9,180.5 212.9,179.9 209.2,181.0" fill="#fbfbfb" stroke="#9c9c9c" stroke-width=".4"/>
<polygon points="102.4,183.8 104.5,183.1 108.0,184.1 105.9,184.7" fill="#b4b4b4" opacity="0.4"/>
<polygon points="99.4,182.9 102.4,183.8 102.4,180.6 99.4,179.7" fill="#d4d4d4" stroke="#9c9c9c" stroke-width=".3"/>
<polygon points="102.4,183.8 104.5,183.1 104.5,179.9 102.4,180.6" fill="#b8b8b8" stroke="#9c9c9c" stroke-width=".3"/>
<polygon points="102.4,180.6 104.5,179.9 101.5,179.1 99.4,179.7" fill="#fbfbfb" stroke="#9c9c9c" stroke-width=".4"/>
<polygon points="127.6,183.8 130.8,182.8 133.4,183.5 130.2,184.5" fill="#b4b4b4" opacity="0.4"/>
<polygon points="125.2,183.0 127.6,183.8 127.6,181.4 125.2,180.7" fill="#e6e6e6" stroke="#9c9c9c" stroke-width=".3"/>
<polygon points="127.6,183.8 130.8,182.8 130.8,180.5 127.6,181.4" fill="#cacaca" stroke="#9c9c9c" stroke-width=".3"/>
<polygon points="127.6,181.4 130.8,180.5 128.4,179.8 125.2,180.7" fill="#fbfbfb" stroke="#9c9c9c" stroke-width=".4"/>
<polygon points="83.8,183.8 87.4,182.7 90.6,183.6 87.0,184.6" fill="#b4b4b4" opacity="0.4"/>
<polygon points="81.2,183.0 83.8,183.8 83.8,180.9 81.2,180.1" fill="#e6e6e6" stroke="#9c9c9c" stroke-width=".3"/>
<polygon points="83.8,183.8 87.4,182.7 87.4,179.8 83.8,180.9" fill="#cacaca" stroke="#9c9c9c" stroke-width=".3"/>
<polygon points="83.8,180.9 87.4,179.8 84.8,179.0 81.2,180.1" fill="#fbfbfb" stroke="#9c9c9c" stroke-width=".4"/>
<polygon points="49.6,183.8 51.9,183.1 54.1,183.7 51.8,184.4" fill="#b4b4b4" opacity="0.4"/>
<polygon points="47.0,183.0 49.6,183.8 49.6,181.8 47.0,181.0" fill="#d4d4d4" stroke="#9c9c9c" stroke-width=".3"/>
<polygon points="49.6,183.8 51.9,183.1 51.9,181.1 49.6,181.8" fill="#b8b8b8" stroke="#9c9c9c" stroke-width=".3"/>
<polygon points="49.6,181.8 51.9,181.1 49.3,180.3 47.0,181.0" fill="#fbfbfb" stroke="#9c9c9c" stroke-width=".4"/>
<polygon points="260.8,183.9 264.4,182.8 268.0,183.8 264.4,184.8" fill="#b4b4b4" opacity="0.4"/>
<polygon points="258.5,183.2 260.8,183.9 260.8,180.6 258.5,179.9" fill="#dedede" stroke="#9c9c9c" stroke-width=".3"/>
<polygon points="260.8,183.9 264.4,182.8 264.4,179.5 260.8,180.6" fill="#c2c2c2" stroke="#9c9c9c" stroke-width=".3"/>
<polygon points="260.8,180.6 264.4,179.5 262.1,178.8 258.5,179.9" fill="#fbfbfb" stroke="#9c9c9c" stroke-width=".4"/>
<polygon points="225.9,183.9 228.5,183.1 230.2,183.6 227.6,184.3" fill="#b4b4b4" opacity="0.4"/>
<polygon points="224.1,183.3 225.9,183.9 225.9,182.3 224.1,181.8" fill="#dedede" stroke="#9c9c9c" stroke-width=".3"/>
<polygon points="225.9,183.9 228.5,183.1 228.5,181.5 225.9,182.3" fill="#c2c2c2" stroke="#9c9c9c" stroke-width=".3"/>
<polygon points="225.9,182.3 228.5,181.5 226.7,181.0 224.1,181.8" fill="#fbfbfb" stroke="#9c9c9c" stroke-width=".4"/>
<polygon points="45.3,183.9 47.4,183.3 50.6,184.2 48.6,184.8" fill="#b4b4b4" opacity="0.4"/>
<polygon points="43.1,183.2 45.3,183.9 45.3,181.0 43.1,180.3" fill="#d4d4d4" stroke="#9c9c9c" stroke-width=".3"/>
<polygon points="45.3,183.9 47.4,183.3 47.4,180.3 45.3,181.0" fill="#b8b8b8" stroke="#9c9c9c" stroke-width=".3"/>
<polygon points="45.3,181.0 47.4,180.3 45.1,179.7 43.1,180.3" fill="#fbfbfb" stroke="#9c9c9c" stroke-width=".4"/>
<polygon points="240.3,183.9 244.0,182.9 246.5,183.6 242.9,184.6" fill="#b4b4b4" opacity="0.4"/>
<polygon points="238.2,183.3 240.3,183.9 240.3,181.6 238.2,181.0" fill="#e6e6e6" stroke="#9c9c9c" stroke-width=".3"/>
<polygon points="240.3,183.9 244.0,182.9 244.0,180.5 240.3,181.6" fill="#cacaca" stroke="#9c9c9c" stroke-width=".3"/>
<polygon points="240.3,181.6 244.0,180.5 241.8,179.9 238.2,181.0" fill="#fbfbfb" stroke="#9c9c9c" stroke-width=".4"/>
<polygon points="206.4,184.0 209.4,183.1 212.0,183.8 209.1,184.7" fill="#b4b4b4" opacity="0.4"/>
<polygon points="203.5,183.1 206.4,184.0 206.4,181.6 203.5,180.7" fill="#d4d4d4" stroke="#9c9c9c" stroke-width=".3"/>
<polygon points="206.4,184.0 209.4,183.1 209.4,180.7 206.4,181.6" fill="#b8b8b8" stroke="#9c9c9c" stroke-width=".3"/>
<polygon points="206.4,181.6 209.4,180.7 206.5,179.8 203.5,180.7" fill="#fbfbfb" stroke="#9c9c9c" stroke-width=".4"/>
<polygon points="215.5,184.0 219.1,182.9 221.5,183.5 217.9,184.6" fill="#b4b4b4" opacity="0.4"/>
<polygon points="212.6,183.1 215.5,184.0 215.5,181.8 212.6,180.9" fill="#e6e6e6" stroke="#9c9c9c" stroke-width=".3"/>
<polygon points="215.5,184.0 219.1,182.9 219.1,180.7 215.5,181.8" fill="#cacaca" stroke="#9c9c9c" stroke-width=".3"/>
<polygon points="215.5,181.8 219.1,180.7 216.3,179.8 212.6,180.9" fill="#fbfbfb" stroke="#9c9c9c" stroke-width=".4"/>
<polygon points="177.9,184.0 180.5,183.2 183.4,184.0 180.7,184.8" fill="#b4b4b4" opacity="0.4"/>
<polygon points="174.9,183.1 177.9,184.0 177.9,181.4 174.9,180.5" fill="#dedede" stroke="#9c9c9c" stroke-width=".3"/>
<polygon points="177.9,184.0 180.5,183.2 180.5,180.6 177.9,181.4" fill="#c2c2c2" stroke="#9c9c9c" stroke-width=".3"/>
<polygon points="177.9,181.4 180.5,180.6 177.6,179.7 174.9,180.5" fill="#fbfbfb" stroke="#9c9c9c" stroke-width=".4"/>
<polygon points="172.7,184.0 176.0,183.0 178.7,183.8 175.4,184.8" fill="#b4b4b4" opacity="0.4"/>
<polygon points="170.2,183.3 172.7,184.0 172.7,181.5 170.2,180.8" fill="#d4d4d4" stroke="#9c9c9c" stroke-width=".3"/>
<polygon points="172.7,184.0 176.0,183.0 176.0,180.6 172.7,181.5" fill="#b8b8b8" stroke="#9c9c9c" stroke-width=".3"/>
<polygon points="172.7,181.5 176.0,180.6 173.5,179.8 170.2,180.8" fill="#fbfbfb" stroke="#9c9c9c" stroke-width=".4"/>
<polygon points="133.0,184.2 135.7,183.4 137.4,183.8 134.6,184.6" fill="#b4b4b4" opacity="0.4"/>
<polygon points="130.4,183.4 133.0,184.2 133.0,182.7 130.4,181.9" fill="#e6e6e6" stroke="#9c9c9c" stroke-width=".3"/>
<polygon points="133.0,184.2 135.7,183.4 135.7,181.9 133.0,182.7" fill="#cacaca" stroke="#9c9c9c" stroke-width=".3"/>
<polygon points="133.0,182.7 135.7,181.9 133.2,181.1 130.4,181.9" fill="#fbfbfb" stroke="#9c9c9c" stroke-width=".4"/>
<polygon points="230.1,184.2 233.5,183.2 236.6,184.0 233.1,185.1" fill="#b4b4b4" opacity="0.4"/>
<polygon points="227.4,183.4 230.1,184.2 230.1,181.5 227.4,180.7" fill="#d4d4d4" stroke="#9c9c9c" stroke-width=".3"/>
<polygon points="230.1,184.2 233.5,183.2 233.5,180.4 230.1,181.5" fill="#b8b8b8" stroke="#9c9c9c" stroke-width=".3"/>
<polygon points="230.1,181.5 233.5,180.4 230.8,179.6 227.4,180.7" fill="#fbfbfb" stroke="#9c9c9c" stroke-width=".4"/>
<polygon points="142.8,184.3 146.2,183.2 149.0,184.0 145.6,185.0" fill="#b4b4b4" opacity="0.4"/>
<polygon points="140.0,183.4 142.8,184.3 142.8,181.7 140.0,180.9" fill="#d4d4d4" stroke="#9c9c9c" stroke-width=".3"/>
<polygon points="142.8,184.3 146.2,183.2 146.2,180.7 142.8,181.7" fill="#b8b8b8" stroke="#9c9c9c" stroke-width=".3"/>
<polygon points="142.8,181.7 146.2,180.7 143.4,179.9 140.0,180.9" fill="#fbfbfb" stroke="#9c9c9c" stroke-width=".4"/>
<polygon points="112.8,184.3 116.3,183.3 119.3,184.1 115.8,185.1" fill="#b4b4b4" opacity="0.4"/>
<polygon points="109.5,183.3 112.8,184.3 112.8,181.5 109.5,180.6" fill="#e6e6e6" stroke="#9c9c9c" stroke-width=".3"/>
<polygon points="112.8,184.3 116.3,183.3 116.3,180.5 112.8,181.5" fill="#cacaca" stroke="#9c9c9c" stroke-width=".3"/>
<polygon points="112.8,181.5 116.3,180.5 113.0,179.5 109.5,180.6" fill="#fbfbfb" stroke="#9c9c9c" stroke-width=".4"/>
<polygon points="97.5,184.4 99.7,183.7 102.2,184.4 100.0,185.0" fill="#b4b4b4" opacity="0.4"/>
<polygon points="95.6,183.8 97.5,184.4 97.5,182.1 95.6,181.5" fill="#dedede" stroke="#9c9c9c" stroke-width=".3"/>
<polygon points="97.5,184.4 99.7,183.7 99.7,181.4 97.5,182.1" fill="#c2c2c2" stroke="#9c9c9c" stroke-width=".3"/>
<polygon points="97.5,182.1 99.7,181.4 97.8,180.8 95.6,181.5" fill="#fbfbfb" stroke="#9c9c9c" stroke-width=".4"/>
<polygon points="88.8,184.5 92.4,183.4 96.0,184.4 92.4,185.5" fill="#b4b4b4" opacity="0.4"/>
<polygon points="86.0,183.6 88.8,184.5 88.8,181.2 86.0,180.3" fill="#e6e6e6" stroke="#9c9c9c" stroke-width=".3"/>
<polygon points="88.8,184.5 92.4,183.4 92.4,180.1 88.8,181.2" fill="#cacaca" stroke="#9c9c9c" stroke-width=".3"/>
<polygon points="88.8,181.2 92.4,180.1 89.6,179.2 86.0,180.3" fill="#fbfbfb" stroke="#9c9c9c" stroke-width=".4"/>
<polygon points="148.0,184.8 151.6,183.7 153.3,184.2 149.6,185.3" fill="#b4b4b4" opacity="0.4"/>
<polygon points="144.5,183.8 148.0,184.8 148.0,183.3 144.5,182.3" fill="#e6e6e6" stroke="#9c9c9c" stroke-width=".3"/>
<polygon points="148.0,184.8 151.6,183.7 151.6,182.2 148.0,183.3" fill="#cacaca" stroke="#9c9c9c" stroke-width=".3"/>
<polygon points="148.0,183.3 151.6,182.2 148.1,181.2 144.5,182.3" fill="#fbfbfb" stroke="#9c9c9c" stroke-width=".4"/>
<polygon points="182.0,185.0 185.3,184.0 187.8,184.7 184.5,185.7" fill="#b4b4b4" opacity="0.4"/>
<polygon points="179.1,184.1 182.0,185.0 182.0,182.7 179.1,181.8" fill="#e6e6e6" stroke="#9c9c9c" stroke-width=".3"/>
<polygon points="182.0,185.0 185.3,184.0 185.3,181.7 182.0,182.7" fill="#cacaca" stroke="#9c9c9c" stroke-width=".3"/>
<polygon points="182.0,182.7 185.3,181.7 182.4,180.8 179.1,181.8" fill="#fbfbfb" stroke="#9c9c9c" stroke-width=".4"/>
<polygon points="41.2,185.0 44.1,184.1 46.3,184.7 43.4,185.6" fill="#b4b4b4" opacity="0.4"/>
<polygon points="39.4,184.5 41.2,185.0 41.2,183.0 39.4,182.5" fill="#e6e6e6" stroke="#9c9c9c" stroke-width=".3"/>
<polygon points="41.2,185.0 44.1,184.1 44.1,182.1 41.2,183.0" fill="#cacaca" stroke="#9c9c9c" stroke-width=".3"/>
<polygon points="41.2,183.0 44.1,182.1 42.3,181.6 39.4,182.5" fill="#fbfbfb" stroke="#9c9c9c" stroke-width=".4"/>
<polygon points="58.8,185.1 62.1,184.1 64.2,184.7 60.9,185.7" fill="#b4b4b4" opacity="0.4"/>
<polygon points="55.5,184.1 58.8,185.1 58.8,183.2 55.5,182.2" fill="#dedede" stroke="#9c9c9c" stroke-width=".3"/>
<polygon points="58.8,185.1 62.1,184.1 62.1,182.2 58.8,183.2" fill="#c2c2c2" stroke="#9c9c9c" stroke-width=".3"/>
<polygon points="58.8,183.2 62.1,182.2 58.8,181.2 55.5,182.2" fill="#fbfbfb" stroke="#9c9c9c" stroke-width=".4"/>
<polygon points="245.1,185.1 249.2,183.9 252.0,184.7 247.9,185.9" fill="#b4b4b4" opacity="0.4"/>
<polygon points="242.8,184.4 245.1,185.1 245.1,182.5 242.8,181.8" fill="#e6e6e6" stroke="#9c9c9c" stroke-width=".3"/>
<polygon points="245.1,185.1 249.2,183.9 249.2,181.3 245.1,182.5" fill="#cacaca" stroke="#9c9c9c" stroke-width=".3"/>
<polygon points="245.1,182.5 249.2,181.3 246.8,180.6 242.8,181.8" fill="#fbfbfb" stroke="#9c9c9c" stroke-width=".4"/>
<polygon points="107.1,185.2 111.1,184.1 112.9,184.5 108.9,185.7" fill="#b4b4b4" opacity="0.4"/>
<polygon points="104.3,184.4 107.1,185.2 107.1,183.6 104.3,182.7" fill="#dedede" stroke="#9c9c9c" stroke-width=".3"/>
<polygon points="107.1,185.2 111.1,184.1 111.1,182.4 107.1,183.6" fill="#c2c2c2" stroke="#9c9c9c" stroke-width=".3"/>
<polygon points="107.1,183.6 111.1,182.4 108.2,181.5 104.3,182.7" fill="#fbfbfb" stroke="#9c9c9c" stroke-width=".4"/>
<polygon points="234.8,185.3 237.9,184.3 241.5,185.3 238.4,186.2" fill="#b4b4b4" opacity="0.4"/>
<polygon points="232.8,184.7 234.8,185.3 234.8,182.0 232.8,181.4" fill="#d4d4d4" stroke="#9c9c9c" stroke-width=".3"/>
<polygon points="234.8,185.3 237.9,184.3 237.9,181.1 234.8,182.0" fill="#b8b8b8" stroke="#9c9c9c" stroke-width=".3"/>
<polygon points="234.8,182.0 237.9,181.1 235.9,180.5 232.8,181.4" fill="#fbfbfb" stroke="#9c9c9c" stroke-width=".4"/>
<polygon points="123.3,185.3 127.2,184.1 130.6,185.0 126.6,186.2" fill="#b4b4b4" opacity="0.4"/>
<polygon points="120.2,184.4 123.3,185.3 123.3,182.2 120.2,181.3" fill="#d4d4d4" stroke="#9c9c9c" stroke-width=".3"/>
<polygon points="123.3,185.3 127.2,184.1 127.2,181.1 123.3,182.2" fill="#b8b8b8" stroke="#9c9c9c" stroke-width=".3"/>
<polygon points="123.3,182.2 127.2,181.1 124.1,180.1 120.2,181.3" fill="#fbfbfb" stroke="#9c9c9c" stroke-width=".4"/>
<polygon points="68.8,185.3 72.3,184.3 74.2,184.8 70.6,185.8" fill="#b4b4b4" opacity="0.4"/>
<polygon points="66.6,184.7 68.8,185.3 68.8,183.7 66.6,183.0" fill="#d4d4d4" stroke="#9c9c9c" stroke-width=".3"/>
<polygon points="68.8,185.3 72.3,184.3 72.3,182.6 68.8,183.7" fill="#b8b8b8" stroke="#9c9c9c" stroke-width=".3"/>
<polygon points="68.8,183.7 72.3,182.6 70.1,181.9 66.6,183.0" fill="#fbfbfb" stroke="#9c9c9c" stroke-width=".4"/>
<polygon points="157.1,185.4 160.3,184.4 163.1,185.2 159.9,186.1" fill="#b4b4b4" opacity="0.4"/>
<polygon points="154.6,184.6 157.1,185.4 157.1,182.8 154.6,182.1" fill="#e6e6e6" stroke="#9c9c9c" stroke-width=".3"/>
<polygon points="157.1,185.4 160.3,184.4 160.3,181.9 157.1,182.8" fill="#cacaca" stroke="#9c9c9c" stroke-width=".3"/>
<polygon points="157.1,182.8 160.3,181.9 157.8,181.1 154.6,182.1" fill="#fbfbfb" stroke="#9c9c9c" stroke-width=".4"/>
<polygon points="201.4,185.4 203.6,184.8 205.4,185.3 203.3,185.9" fill="#b4b4b4" opacity="0.4"/>
<polygon points="198.9,184.7 201.4,185.4 201.4,183.7 198.9,182.9" fill="#dedede" stroke="#9c9c9c" stroke-width=".3"/>
<polygon points="201.4,185.4 203.6,184.8 203.6,183.0 201.4,183.7" fill="#c2c2c2" stroke="#9c9c9c" stroke-width=".3"/>
<polygon points="201.4,183.7 203.6,183.0 201.1,182.3 198.9,182.9" fill="#fbfbfb" stroke="#9c9c9c" stroke-width=".4"/>
<polygon points="53.7,185.4 57.5,184.3 60.3,185.1 56.6,186.2" fill="#b4b4b4" opacity="0.4"/>
<polygon points="50.9,184.6 53.7,185.4 53.7,182.8 50.9,182.0" fill="#e6e6e6" stroke="#9c9c9c" stroke-width=".3"/>
<polygon points="53.7,185.4 57.5,184.3 57.5,181.7 53.7,182.8" fill="#cacaca" stroke="#9c9c9c" stroke-width=".3"/>
<polygon points="53.7,182.8 57.5,181.7 54.6,180.9 50.9,182.0" fill="#fbfbfb" stroke="#9c9c9c" stroke-width=".4"/>
<polygon points="36.1,185.5 38.5,184.8 41.9,185.7 39.6,186.4" fill="#b4b4b4" opacity="0.4"/>
<polygon points="33.6,184.7 36.1,185.5 36.1,182.4 33.6,181.6" fill="#d4d4d4" stroke="#9c9c9c" stroke-width=".3"/>
<polygon points="36.1,185.5 38.5,184.8 38.5,181.7 36.1,182.4" fill="#b8b8b8" stroke="#9c9c9c" stroke-width=".3"/>
<polygon points="36.1,182.4 38.5,181.7 35.9,180.9 33.6,181.6" fill="#fbfbfb" stroke="#9c9c9c" stroke-width=".4"/>
<polygon points="255.5,185.5 259.2,184.4 261.5,185.0 257.8,186.1" fill="#b4b4b4" opacity="0.4"/>
<polygon points="253.7,185.0 255.5,185.5 255.5,183.4 253.7,182.9" fill="#e6e6e6" stroke="#9c9c9c" stroke-width=".3"/>
<polygon points="255.5,185.5 259.2,184.4 259.2,182.3 255.5,183.4" fill="#cacaca" stroke="#9c9c9c" stroke-width=".3"/>
<polygon points="255.5,183.4 259.2,182.3 257.4,181.8 253.7,182.9" fill="#fbfbfb" stroke="#9c9c9c" stroke-width=".4"/>
<polygon points="220.7,185.5 223.1,184.8 226.9,185.8 224.5,186.6" fill="#b4b4b4" opacity="0.4"/>
<polygon points="218.5,184.9 220.7,185.5 220.7,182.1 218.5,181.4" fill="#e6e6e6" stroke="#9c9c9c" stroke-width=".3"/>
<polygon points="220.7,185.5 223.1,184.8 223.1,181.3 220.7,182.1" fill="#cacaca" stroke="#9c9c9c" stroke-width=".3"/>
<polygon points="220.7,182.1 223.1,181.3 220.9,180.7 218.5,181.4" fill="#fbfbfb" stroke="#9c9c9c" stroke-width=".4"/>
<polygon points="31.6,185.5 34.0,184.8 36.6,185.5 34.2,186.3" fill="#b4b4b4" opacity="0.4"/>
<polygon points="28.2,184.5 31.6,185.5 31.6,183.1 28.2,182.1" fill="#d4d4d4" stroke="#9c9c9c" stroke-width=".3"/>
<polygon points="31.6,185.5 34.0,184.8 34.0,182.4 31.6,183.1" fill="#b8b8b8" stroke="#9c9c9c" stroke-width=".3"/>
<polygon points="31.6,183.1 34.0,182.4 30.6,181.4 28.2,182.1" fill="#fbfbfb" stroke="#9c9c9c" stroke-width=".4"/>
<polygon points="192.5,185.6 196.6,184.4 199.4,185.1 195.3,186.3" fill="#b4b4b4" opacity="0.4"/>
<polygon points="190.3,184.9 192.5,185.6 192.5,183.0 190.3,182.4" fill="#d4d4d4" stroke="#9c9c9c" stroke-width=".3"/>
<polygon points="192.5,185.6 196.6,184.4 196.6,181.8 192.5,183.0" fill="#b8b8b8" stroke="#9c9c9c" stroke-width=".3"/>
<polygon points="192.5,183.0 196.6,181.8 194.4,181.2 190.3,182.4" fill="#fbfbfb" stroke="#9c9c9c" stroke-width=".4"/>
<polygon points="265.5,185.6 269.0,184.5 272.7,185.5 269.2,186.6" fill="#b4b4b4" opacity="0.4"/>
<polygon points="262.8,184.8 265.5,185.6 265.5,182.2 262.8,181.4" fill="#dedede" stroke="#9c9c9c" stroke-width=".3"/>
<polygon points="265.5,185.6 269.0,184.5 269.0,181.2 265.5,182.2" fill="#c2c2c2" stroke="#9c9c9c" stroke-width=".3"/>
<polygon points="265.5,182.2 269.0,181.2 266.3,180.4 262.8,181.4" fill="#fbfbfb" stroke="#9c9c9c" stroke-width=".4"/>
<polygon points="22.2,185.7 25.3,184.7 27.0,185.2 23.9,186.1" fill="#b4b4b4" opacity="0.4"/>
<polygon points="19.4,184.8 22.2,185.7 22.2,184.1 19.4,183.3" fill="#d4d4d4" stroke="#9c9c9c" stroke-width=".3"/>
<polygon points="22.2,185.7 25.3,184.7 25.3,183.2 22.2,184.1" fill="#b8b8b8" stroke="#9c9c9c" stroke-width=".3"/>
<polygon points="22.2,184.1 25.3,183.2 22.5,182.4 19.4,183.3" fill="#fbfbfb" stroke="#9c9c9c" stroke-width=".4"/>
<polygon points="64.5,185.7 67.1,184.9 69.3,185.5 66.6,186.3" fill="#b4b4b4" opacity="0.4"/>
<polygon points="61.1,184.7 64.5,185.7 64.5,183.8 61.1,182.8" fill="#e6e6e6" stroke="#9c9c9c" stroke-width=".3"/>
<polygon points="64.5,185.7 67.1,184.9 67.1,183.0 64.5,183.8" fill="#cacaca" stroke="#9c9c9c" stroke-width=".3"/>
<polygon points="64.5,183.8 67.1,183.0 63.8,182.0 61.1,182.8" fill="#fbfbfb" stroke="#9c9c9c" stroke-width=".4"/>
<polygon points="42.1,186.1 44.4,185.4 46.8,186.0 44.5,186.7" fill="#b4b4b4" opacity="0.4"/>
<polygon points="39.9,185.4 42.1,186.1 42.1,183.9 39.9,183.2" fill="#d4d4d4" stroke="#9c9c9c" stroke-width=".3"/>
<polygon points="42.1,186.1 44.4,185.4 44.4,183.2 42.1,183.9" fill="#b8b8b8" stroke="#9c9c9c" stroke-width=".3"/>
<polygon points="42.1,183.9 44.4,183.2 42.2,182.5 39.9,183.2" fill="#fbfbfb" stroke="#9c9c9c" stroke-width=".4"/>
<polygon points="88.9,186.2 92.5,185.1 94.7,185.7 91.1,186.8" fill="#b4b4b4" opacity="0.4"/>
<polygon points="85.6,185.2 88.9,186.2 88.9,184.2 85.6,183.2" fill="#d4d4d4" stroke="#9c9c9c" stroke-width=".3"/>
<polygon points="88.9,186.2 92.5,185.1 92.5,183.1 88.9,184.2" fill="#b8b8b8" stroke="#9c9c9c" stroke-width=".3"/>
<polygon points="88.9,184.2 92.5,183.1 89.2,182.1 85.6,183.2" fill="#fbfbfb" stroke="#9c9c9c" stroke-width=".4"/>
<polygon points="142.4,186.2 145.7,185.2 149.1,186.1 145.8,187.1" fill="#b4b4b4" opacity="0.4"/>
<polygon points="138.9,185.2 142.4,186.2 142.4,183.2 138.9,182.1" fill="#dedede" stroke="#9c9c9c" stroke-width=".3"/>
<polygon points="142.4,186.2 145.7,185.2 145.7,182.2 142.4,183.2" fill="#c2c2c2" stroke="#9c9c9c" stroke-width=".3"/>
<polygon points="142.4,183.2 145.7,182.2 142.2,181.1 138.9,182.1" fill="#fbfbfb" stroke="#9c9c9c" stroke-width=".4"/>
<polygon points="180.7,186.2 185.0,185.0 188.0,185.8 183.7,187.1" fill="#b4b4b4" opacity="0.4"/>
<polygon points="177.4,185.2 180.7,186.2 180.7,183.5 177.4,182.5" fill="#e6e6e6" stroke="#9c9c9c" stroke-width=".3"/>
<polygon points="180.7,186.2 185.0,185.0 185.0,182.2 180.7,183.5" fill="#cacaca" stroke="#9c9c9c" stroke-width=".3"/>
<polygon points="180.7,183.5 185.0,182.2 181.7,181.2 177.4,182.5" fill="#fbfbfb" stroke="#9c9c9c" stroke-width=".4"/>
<polygon points="61.3,186.4 64.3,185.5 66.8,186.2 63.9,187.0" fill="#b4b4b4" opacity="0.4"/>
<polygon points="58.0,185.3 61.3,186.4 61.3,184.1 58.0,183.1" fill="#d4d4d4" stroke="#9c9c9c" stroke-width=".3"/>
<polygon points="61.3,186.4 64.3,185.5 64.3,183.2 61.3,184.1" fill="#b8b8b8" stroke="#9c9c9c" stroke-width=".3"/>
<polygon points="61.3,184.1 64.3,183.2 60.9,182.2 58.0,183.1" fill="#fbfbfb" stroke="#9c9c9c" stroke-width=".4"/>
<polygon points="174.6,186.4 178.6,185.2 182.5,186.2 178.5,187.4" fill="#b4b4b4" opacity="0.4"/>
<polygon points="171.4,185.4 174.6,186.4 174.6,182.9 171.4,181.9" fill="#d4d4d4" stroke="#9c9c9c" stroke-width=".3"/>
<polygon points="174.6,186.4 178.6,185.2 178.6,181.7 174.6,182.9" fill="#b8b8b8" stroke="#9c9c9c" stroke-width=".3"/>
<polygon points="174.6,182.9 178.6,181.7 175.4,180.7 171.4,181.9" fill="#fbfbfb" stroke="#9c9c9c" stroke-width=".4"/>
<polygon points="262.8,186.5 266.2,185.4 268.0,185.9 264.6,186.9" fill="#b4b4b4" opacity="0.4"/>
<polygon points="260.8,185.9 262.8,186.5 262.8,184.8 260.8,184.2" fill="#e6e6e6" stroke="#9c9c9c" stroke-width=".3"/>
<polygon points="262.8,186.5 266.2,185.4 266.2,183.8 262.8,184.8" fill="#cacaca" stroke="#9c9c9c" stroke-width=".3"/>
<polygon points="262.8,184.8 266.2,183.8 264.2,183.2 260.8,184.2" fill="#fbfbfb" stroke="#9c9c9c" stroke-width=".4"/>
<polygon points="207.3,186.5 211.3,185.3 213.4,185.9 209.4,187.1" fill="#b4b4b4" opacity="0.4"/>
<polygon points="203.7,185.4 207.3,186.5 207.3,184.7 203.7,183.6" fill="#e6e6e6" stroke="#9c9c9c" stroke-width=".3"/>
<polygon points="207.3,186.5 211.3,185.3 211.3,183.5 207.3,184.7" fill="#cacaca" stroke="#9c9c9c" stroke-width=".3"/>
<polygon points="207.3,184.7 211.3,183.5 207.7,182.4 203.7,183.6" fill="#fbfbfb" stroke="#9c9c9c" stroke-width=".4"/>
<polygon points="195.3,186.6 199.3,185.4 201.3,185.9 197.3,187.1" fill="#b4b4b4" opacity="0.4"/>
<polygon points="192.3,185.7 195.3,186.6 195.3,184.8 192.3,183.9" fill="#e6e6e6" stroke="#9c9c9c" stroke-width=".3"/>
<polygon points="195.3,186.6 199.3,185.4 199.3,183.6 195.3,184.8" fill="#cacaca" stroke="#9c9c9c" stroke-width=".3"/>
<polygon points="195.3,184.8 199.3,183.6 196.4,182.7 192.3,183.9" fill="#fbfbfb" stroke="#9c9c9c" stroke-width=".4"/>
<polygon points="256.9,186.6 260.9,185.4 264.8,186.5 260.8,187.7" fill="#b4b4b4" opacity="0.4"/>
<polygon points="254.5,185.9 256.9,186.6 256.9,183.1 254.5,182.4" fill="#dedede" stroke="#9c9c9c" stroke-width=".3"/>
<polygon points="256.9,186.6 260.9,185.4 260.9,181.9 256.9,183.1" fill="#c2c2c2" stroke="#9c9c9c" stroke-width=".3"/>
<polygon points="256.9,183.1 260.9,181.9 258.5,181.2 254.5,182.4" fill="#fbfbfb" stroke="#9c9c9c" stroke-width=".4"/>
<polygon points="51.1,186.6 53.6,185.9 56.8,186.8 54.3,187.5" fill="#b4b4b4" opacity="0.4"/>
<polygon points="47.8,185.6 51.1,186.6 51.1,183.6 47.8,182.7" fill="#e6e6e6" stroke="#9c9c9c" stroke-width=".3"/>
<polygon points="51.1,186.6 53.6,185.9 53.6,182.9 51.1,183.6" fill="#cacaca" stroke="#9c9c9c" stroke-width=".3"/>
<polygon points="51.1,183.6 53.6,182.9 50.3,181.9 47.8,182.7" fill="#fbfbfb" stroke="#9c9c9c" stroke-width=".4"/>
<polygon points="224.4,186.7 227.8,185.7 230.3,186.4 226.9,187.4" fill="#b4b4b4" opacity="0.4"/>
<polygon points="222.1,186.1 224.4,186.7 224.4,184.4 222.1,183.8" fill="#e6e6e6" stroke="#9c9c9c" stroke-width=".3"/>
<polygon points="224.4,186.7 227.8,185.7 227.8,183.4 224.4,184.4" fill="#cacaca" stroke="#9c9c9c" stroke-width=".3"/>
<polygon points="224.4,184.4 227.8,183.4 225.5,182.7 222.1,183.8" fill="#fbfbfb" stroke="#9c9c9c" stroke-width=".4"/>
<polygon points="152.2,186.8 154.7,186.0 157.2,186.7 154.6,187.4" fill="#b4b4b4" opacity="0.4"/>
<polygon points="148.8,185.7 152.2,186.8 152.2,184.5 148.8,183.5" fill="#e6e6e6" stroke="#9c9c9c" stroke-width=".3"/>
<polygon points="152.2,186.8 154.7,186.0 154.7,183.8 152.2,184.5" fill="#cacaca" stroke="#9c9c9c" stroke-width=".3"/>
<polygon points="152.2,184.5 154.7,183.8 151.3,182.7 148.8,183.5" fill="#fbfbfb" stroke="#9c9c9c" stroke-width=".4"/>
<polygon points="126.7,186.8 130.2,185.7 132.3,186.3 128.8,187.4" fill="#b4b4b4" opacity="0.4"/>
<polygon points="124.5,186.1 126.7,186.8 126.7,184.9 124.5,184.2" fill="#dedede" stroke="#9c9c9c" stroke-width=".3"/>
<polygon points="126.7,186.8 130.2,185.7 130.2,183.8 126.7,184.9" fill="#c2c2c2" stroke="#9c9c9c" stroke-width=".3"/>
<polygon points="126.7,184.9 130.2,183.8 128.0,183.2 124.5,184.2" fill="#fbfbfb" stroke="#9c9c9c" stroke-width=".4"/>
<polygon points="219.4,186.8 223.1,185.7 224.8,186.2 221.2,187.3" fill="#b4b4b4" opacity="0.4"/>
<polygon points="216.4,185.9 219.4,186.8 219.4,185.2 216.4,184.3" fill="#dedede" stroke="#9c9c9c" stroke-width=".3"/>
<polygon points="219.4,186.8 223.1,185.7 223.1,184.1 219.4,185.2" fill="#c2c2c2" stroke="#9c9c9c" stroke-width=".3"/>
<polygon points="219.4,185.2 223.1,184.1 220.0,183.2 216.4,184.3" fill="#fbfbfb" stroke="#9c9c9c" stroke-width=".4"/>
<polygon points="229.9,186.9 233.7,185.7 236.8,186.5 232.9,187.7" fill="#b4b4b4" opacity="0.4"/>
<polygon points="226.3,185.8 229.9,186.9 229.9,184.1 226.3,183.0" fill="#e6e6e6" stroke="#9c9c9c" stroke-width=".3"/>
<polygon points="229.9,186.9 233.7,185.7 233.7,183.0 229.9,184.1" fill="#cacaca" stroke="#9c9c9c" stroke-width=".3"/>
<polygon points="229.9,184.1 233.7,183.0 230.2,181.9 226.3,183.0" fill="#fbfbfb" stroke="#9c9c9c" stroke-width=".4"/>
<polygon points="93.3,186.9 97.3,185.7 99.4,186.3 95.5,187.5" fill="#b4b4b4" opacity="0.4"/>
<polygon points="90.9,186.1 93.3,186.9 93.3,184.9 90.9,184.2" fill="#e6e6e6" stroke="#9c9c9c" stroke-width=".3"/>
<polygon points="93.3,186.9 97.3,185.7 97.3,183.7 93.3,184.9" fill="#cacaca" stroke="#9c9c9c" stroke-width=".3"/>
<polygon points="93.3,184.9 97.3,183.7 94.8,183.0 90.9,184.2" fill="#fbfbfb" stroke="#9c9c9c" stroke-width=".4"/>
<polygon points="115.0,186.9 117.3,186.3 120.9,187.3 118.6,187.9" fill="#b4b4b4" opacity="0.4"/>
<polygon points="111.4,185.9 115.0,186.9 115.0,183.6 111.4,182.5" fill="#dedede" stroke="#9c9c9c" stroke-width=".3"/>
<polygon points="115.0,186.9 117.3,186.3 117.3,183.0 115.0,183.6" fill="#c2c2c2" stroke="#9c9c9c" stroke-width=".3"/>
<polygon points="115.0,183.6 117.3,183.0 113.6,181.9 111.4,182.5" fill="#fbfbfb" stroke="#9c9c9c" stroke-width=".4"/>
<polygon points="213.2,187.0 216.1,186.1 217.9,186.6 215.0,187.5" fill="#b4b4b4" opacity="0.4"/>
<polygon points="210.6,186.2 213.2,187.0 213.2,185.4 210.6,184.6" fill="#dedede" stroke="#9c9c9c" stroke-width=".3"/>
<polygon points="213.2,187.0 216.1,186.1 216.1,184.5 213.2,185.4" fill="#c2c2c2" stroke="#9c9c9c" stroke-width=".3"/>
<polygon points="213.2,185.4 216.1,184.5 213.5,183.7 210.6,184.6" fill="#fbfbfb" stroke="#9c9c9c" stroke-width=".4"/>
<polygon points="98.8,187.0 102.1,186.0 106.0,187.1 102.7,188.0" fill="#b4b4b4" opacity="0.4"/>
<polygon points="96.1,186.2 98.8,187.0 98.8,183.5 96.1,182.7" fill="#dedede" stroke="#9c9c9c" stroke-width=".3"/>
<polygon points="98.8,187.0 102.1,186.0 102.1,182.5 98.8,183.5" fill="#c2c2c2" stroke="#9c9c9c" stroke-width=".3"/>
<polygon points="98.8,183.5 102.1,182.5 99.4,181.7 96.1,182.7" fill="#fbfbfb" stroke="#9c9c9c" stroke-width=".4"/>
<polygon points="146.8,187.1 149.4,186.3 153.0,187.3 150.4,188.1" fill="#b4b4b4" opacity="0.4"/>
<polygon points="143.7,186.1 146.8,187.1 146.8,183.8 143.7,182.9" fill="#e6e6e6" stroke="#9c9c9c" stroke-width=".3"/>
<polygon points="146.8,187.1 149.4,186.3 149.4,183.0 146.8,183.8" fill="#cacaca" stroke="#9c9c9c" stroke-width=".3"/>
<polygon points="146.8,183.8 149.4,183.0 146.3,182.1 143.7,182.9" fill="#fbfbfb" stroke="#9c9c9c" stroke-width=".4"/>
<polygon points="132.7,187.3 135.2,186.5 138.4,187.4 135.9,188.1" fill="#b4b4b4" opacity="0.4"/>
<polygon points="129.5,186.3 132.7,187.3 132.7,184.4 129.5,183.4" fill="#e6e6e6" stroke="#9c9c9c" stroke-width=".3"/>
<polygon points="132.7,187.3 135.2,186.5 135.2,183.6 132.7,184.4" fill="#cacaca" stroke="#9c9c9c" stroke-width=".3"/>
<polygon points="132.7,184.4 135.2,183.6 132.0,182.6 129.5,183.4" fill="#fbfbfb" stroke="#9c9c9c" stroke-width=".4"/>
<polygon points="168.8,187.4 171.8,186.5 174.1,187.1 171.1,188.0" fill="#b4b4b4" opacity="0.4"/>
<polygon points="165.6,186.4 168.8,187.4 168.8,185.3 165.6,184.3" fill="#d4d4d4" stroke="#9c9c9c" stroke-width=".3"/>
<polygon points="168.8,187.4 171.8,186.5 171.8,184.4 168.8,185.3" fill="#b8b8b8" stroke="#9c9c9c" stroke-width=".3"/>
<polygon points="168.8,185.3 171.8,184.4 168.6,183.4 165.6,184.3" fill="#fbfbfb" stroke="#9c9c9c" stroke-width=".4"/>
<polygon points="190.6,187.5 193.0,186.8 195.1,187.4 192.7,188.1" fill="#b4b4b4" opacity="0.4"/>
<polygon points="187.6,186.6 190.6,187.5 190.6,185.7 187.6,184.8" fill="#e6e6e6" stroke="#9c9c9c" stroke-width=".3"/>
<polygon points="190.6,187.5 193.0,186.8 193.0,185.0 190.6,185.7" fill="#cacaca" stroke="#9c9c9c" stroke-width=".3"/>
<polygon points="190.6,185.7 193.0,185.0 190.0,184.1 187.6,184.8" fill="#fbfbfb" stroke="#9c9c9c" stroke-width=".4"/>
<polygon points="72.7,187.6 76.7,186.4 80.7,187.5 76.7,188.7" fill="#b4b4b4" opacity="0.4"/>
<polygon points="69.1,186.5 72.7,187.6 72.7,183.9 69.1,182.9" fill="#dedede" stroke="#9c9c9c" stroke-width=".3"/>
<polygon points="72.7,187.6 76.7,186.4 76.7,182.7 72.7,183.9" fill="#c2c2c2" stroke="#9c9c9c" stroke-width=".3"/>
<polygon points="72.7,183.9 76.7,182.7 73.1,181.7 69.1,182.9" fill="#fbfbfb" stroke="#9c9c9c" stroke-width=".4"/>
<polygon points="109.7,187.6 113.0,186.6 117.0,187.7 113.7,188.7" fill="#b4b4b4" opacity="0.4"/>
<polygon points="107.1,186.8 109.7,187.6 109.7,184.0 107.1,183.2" fill="#e6e6e6" stroke="#9c9c9c" stroke-width=".3"/>
<polygon points="109.7,187.6 113.0,186.6 113.0,183.0 109.7,184.0" fill="#cacaca" stroke="#9c9c9c" stroke-width=".3"/>
<polygon points="109.7,184.0 113.0,183.0 110.4,182.2 107.1,183.2" fill="#fbfbfb" stroke="#9c9c9c" stroke-width=".4"/>
<polygon points="163.2,187.6 165.5,186.9 168.9,187.8 166.5,188.5" fill="#b4b4b4" opacity="0.4"/>
<polygon points="161.1,187.0 163.2,187.6 163.2,184.6 161.1,184.0" fill="#e6e6e6" stroke="#9c9c9c" stroke-width=".3"/>
<polygon points="163.2,187.6 165.5,186.9 165.5,183.9 163.2,184.6" fill="#cacaca" stroke="#9c9c9c" stroke-width=".3"/>
<polygon points="163.2,184.6 165.5,183.9 163.4,183.3 161.1,184.0" fill="#fbfbfb" stroke="#9c9c9c" stroke-width=".4"/>
<polygon points="240.8,187.7 243.2,187.0 246.3,187.8 243.9,188.5" fill="#b4b4b4" opacity="0.4"/>
<polygon points="238.5,187.0 240.8,187.7 240.8,184.9 238.5,184.2" fill="#dedede" stroke="#9c9c9c" stroke-width=".3"/>
<polygon points="240.8,187.7 243.2,187.0 243.2,184.2 240.8,184.9" fill="#c2c2c2" stroke="#9c9c9c" stroke-width=".3"/>
<polygon points="240.8,184.9 243.2,184.2 240.9,183.5 238.5,184.2" fill="#fbfbfb" stroke="#9c9c9c" stroke-width=".4"/>
<polygon points="185.4,187.8 188.3,186.9 191.4,187.7 188.5,188.6" fill="#b4b4b4" opacity="0.4"/>
<polygon points="181.8,186.7 185.4,187.8 185.4,185.0 181.8,183.9" fill="#dedede" stroke="#9c9c9c" stroke-width=".3"/>
<polygon points="185.4,187.8 188.3,186.9 188.3,184.1 185.4,185.0" fill="#c2c2c2" stroke="#9c9c9c" stroke-width=".3"/>
<polygon points="185.4,185.0 188.3,184.1 184.7,183.0 181.8,183.9" fill="#fbfbfb" stroke="#9c9c9c" stroke-width=".4"/>
<polygon points="245.4,187.8 248.1,186.9 250.9,187.7 248.2,188.5" fill="#b4b4b4" opacity="0.4"/>
<polygon points="241.9,186.7 245.4,187.8 245.4,185.2 241.9,184.2" fill="#e6e6e6" stroke="#9c9c9c" stroke-width=".3"/>
<polygon points="245.4,187.8 248.1,186.9 248.1,184.4 245.4,185.2" fill="#cacaca" stroke="#9c9c9c" stroke-width=".3"/>
<polygon points="245.4,185.2 248.1,184.4 244.6,183.3 241.9,184.2" fill="#fbfbfb" stroke="#9c9c9c" stroke-width=".4"/>
<polygon points="46.6,187.8 50.5,186.6 52.4,187.1 48.5,188.3" fill="#b4b4b4" opacity="0.4"/>
<polygon points="44.5,187.2 46.6,187.8 46.6,186.1 44.5,185.4" fill="#dedede" stroke="#9c9c9c" stroke-width=".3"/>
<polygon points="46.6,187.8 50.5,186.6 50.5,184.9 46.6,186.1" fill="#c2c2c2" stroke="#9c9c9c" stroke-width=".3"/>
<polygon points="46.6,186.1 50.5,184.9 48.4,184.3 44.5,185.4" fill="#fbfbfb" stroke="#9c9c9c" stroke-width=".4"/>
<polygon points="78.4,187.8 81.5,186.9 83.5,187.4 80.4,188.4" fill="#b4b4b4" opacity="0.4"/>
<polygon points="75.7,187.0 78.4,187.8 78.4,185.9 75.7,185.1" fill="#d4d4d4" stroke="#9c9c9c" stroke-width=".3"/>
<polygon points="78.4,187.8 81.5,186.9 81.5,185.0 78.4,185.9" fill="#b8b8b8" stroke="#9c9c9c" stroke-width=".3"/>
<polygon points="78.4,185.9 81.5,185.0 78.8,184.2 75.7,185.1" fill="#fbfbfb" stroke="#9c9c9c" stroke-width=".4"/>
<polygon points="36.2,187.8 40.2,186.6 42.3,187.2 38.3,188.4" fill="#b4b4b4" opacity="0.4"/>
<polygon points="33.3,187.0 36.2,187.8 36.2,185.9 33.3,185.0" fill="#dedede" stroke="#9c9c9c" stroke-width=".3"/>
<polygon points="36.2,187.8 40.2,186.6 40.2,184.7 36.2,185.9" fill="#c2c2c2" stroke="#9c9c9c" stroke-width=".3"/>
<polygon points="36.2,185.9 40.2,184.7 37.3,183.8 33.3,185.0" fill="#fbfbfb" stroke="#9c9c9c" stroke-width=".4"/>
<polygon points="30.3,187.9 32.6,187.3 35.7,188.1 33.5,188.8" fill="#b4b4b4" opacity="0.4"/>
<polygon points="27.2,187.0 30.3,187.9 30.3,185.1 27.2,184.2" fill="#dedede" stroke="#9c9c9c" stroke-width=".3"/>
<polygon points="30.3,187.9 32.6,187.3 32.6,184.4 30.3,185.1" fill="#c2c2c2" stroke="#9c9c9c" stroke-width=".3"/>
<polygon points="30.3,185.1 32.6,184.4 29.4,183.5 27.2,184.2" fill="#fbfbfb" stroke="#9c9c9c" stroke-width=".4"/>
<polygon points="137.4,188.0 139.6,187.3 143.3,188.4 141.1,189.0" fill="#b4b4b4" opacity="0.4"/>
<polygon points="134.0,187.0 137.4,188.0 137.4,184.6 134.0,183.6" fill="#e6e6e6" stroke="#9c9c9c" stroke-width=".3"/>
<polygon points="137.4,188.0 139.6,187.3 139.6,183.9 137.4,184.6" fill="#cacaca" stroke="#9c9c9c" stroke-width=".3"/>
<polygon points="137.4,184.6 139.6,183.9 136.2,182.9 134.0,183.6" fill="#fbfbfb" stroke="#9c9c9c" stroke-width=".4"/>
<polygon points="66.7,188.0 70.4,186.9 73.1,187.6 69.4,188.7" fill="#b4b4b4" opacity="0.4"/>
<polygon points="63.1,186.9 66.7,188.0 66.7,185.6 63.1,184.5" fill="#dedede" stroke="#9c9c9c" stroke-width=".3"/>
<polygon points="66.7,188.0 70.4,186.9 70.4,184.4 66.7,185.6" fill="#c2c2c2" stroke="#9c9c9c" stroke-width=".3"/>
<polygon points="66.7,185.6 70.4,184.4 66.9,183.4 63.1,184.5" fill="#fbfbfb" stroke="#9c9c9c" stroke-width=".4"/>
<polygon points="84.0,188.1 87.0,187.2 89.4,187.9 86.4,188.8" fill="#b4b4b4" opacity="0.4"/>
<polygon points="81.1,187.3 84.0,188.1 84.0,186.0 81.1,185.1" fill="#d4d4d4" stroke="#9c9c9c" stroke-width=".3"/>
<polygon points="84.0,188.1 87.0,187.2 87.0,185.1 84.0,186.0" fill="#b8b8b8" stroke="#9c9c9c" stroke-width=".3"/>
<polygon points="84.0,186.0 87.0,185.1 84.2,184.2 81.1,185.1" fill="#fbfbfb" stroke="#9c9c9c" stroke-width=".4"/>
<polygon points="25.8,188.2 28.7,187.3 32.6,188.4 29.8,189.2" fill="#b4b4b4" opacity="0.4"/>
<polygon points="23.2,187.4 25.8,188.2 25.8,184.6 23.2,183.8" fill="#e6e6e6" stroke="#9c9c9c" stroke-width=".3"/>
<polygon points="25.8,188.2 28.7,187.3 28.7,183.7 25.8,184.6" fill="#cacaca" stroke="#9c9c9c" stroke-width=".3"/>
<polygon points="25.8,184.6 28.7,183.7 26.1,182.9 23.2,183.8" fill="#fbfbfb" stroke="#9c9c9c" stroke-width=".4"/>
<polygon points="120.8,188.2 125.0,186.9 128.8,188.0 124.6,189.2" fill="#b4b4b4" opacity="0.4"/>
<polygon points="117.3,187.1 120.8,188.2 120.8,184.7 117.3,183.7" fill="#d4d4d4" stroke="#9c9c9c" stroke-width=".3"/>
<polygon points="120.8,188.2 125.0,186.9 125.0,183.5 120.8,184.7" fill="#b8b8b8" stroke="#9c9c9c" stroke-width=".3"/>
<polygon points="120.8,184.7 125.0,183.5 121.5,182.4 117.3,183.7" fill="#fbfbfb" stroke="#9c9c9c" stroke-width=".4"/>
<polygon points="251.4,188.2 254.8,187.2 257.2,187.8 253.8,188.8" fill="#b4b4b4" opacity="0.4"/>
<polygon points="248.5,187.3 251.4,188.2 251.4,186.1 248.5,185.2" fill="#dedede" stroke="#9c9c9c" stroke-width=".3"/>
<polygon points="251.4,188.2 254.8,187.2 254.8,185.0 251.4,186.1" fill="#c2c2c2" stroke="#9c9c9c" stroke-width=".3"/>
<polygon points="251.4,186.1 254.8,185.0 251.9,184.2 248.5,185.2" fill="#fbfbfb" stroke="#9c9c9c" stroke-width=".4"/>
<polygon points="235.3,188.3 239.5,187.0 242.9,187.9 238.7,189.2" fill="#b4b4b4" opacity="0.4"/>
<polygon points="231.6,187.1 235.3,188.3 235.3,185.2 231.6,184.0" fill="#e6e6e6" stroke="#9c9c9c" stroke-width=".3"/>
<polygon points="235.3,188.3 239.5,187.0 239.5,183.9 235.3,185.2" fill="#cacaca" stroke="#9c9c9c" stroke-width=".3"/>
<polygon points="235.3,185.2 239.5,183.9 235.8,182.8 231.6,184.0" fill="#fbfbfb" stroke="#9c9c9c" stroke-width=".4"/>
<polygon points="25.0,188.9 28.2,188.0 32.1,189.0 28.9,190.0" fill="#b4b4b4" opacity="0.4"/>
<polygon points="21.9,188.0 25.0,188.9 25.0,185.4 21.9,184.5" fill="#e6e6e6" stroke="#9c9c9c" stroke-width=".3"/>
<polygon points="25.0,188.9 28.2,188.0 28.2,184.4 25.0,185.4" fill="#cacaca" stroke="#9c9c9c" stroke-width=".3"/>
<polygon points="25.0,185.4 28.2,184.4 25.1,183.5 21.9,184.5" fill="#fbfbfb" stroke="#9c9c9c" stroke-width=".4"/>
<polygon points="87.5,188.9 90.9,187.9 94.6,188.9 91.2,190.0" fill="#b4b4b4" opacity="0.4"/>
<polygon points="84.9,188.2 87.5,188.9 87.5,185.6 84.9,184.8" fill="#e6e6e6" stroke="#9c9c9c" stroke-width=".3"/>
<polygon points="87.5,188.9 90.9,187.9 90.9,184.6 87.5,185.6" fill="#cacaca" stroke="#9c9c9c" stroke-width=".3"/>
<polygon points="87.5,185.6 90.9,184.6 88.3,183.8 84.9,184.8" fill="#fbfbfb" stroke="#9c9c9c" stroke-width=".4"/>
<polygon points="150.4,189.3 153.1,188.5 155.4,189.1 152.7,189.9" fill="#b4b4b4" opacity="0.4"/>
<polygon points="146.4,188.1 150.4,189.3 150.4,187.2 146.4,186.0" fill="#e6e6e6" stroke="#9c9c9c" stroke-width=".3"/>
<polygon points="150.4,189.3 153.1,188.5 153.1,186.4 150.4,187.2" fill="#cacaca" stroke="#9c9c9c" stroke-width=".3"/>
<polygon points="150.4,187.2 153.1,186.4 149.1,185.2 146.4,186.0" fill="#fbfbfb" stroke="#9c9c9c" stroke-width=".4"/>
<polygon points="255.3,189.4 259.6,188.1 263.4,189.2 259.1,190.4" fill="#b4b4b4" opacity="0.4"/>
<polygon points="252.5,188.6 255.3,189.4 255.3,185.9 252.5,185.1" fill="#dedede" stroke="#9c9c9c" stroke-width=".3"/>
<polygon points="255.3,189.4 259.6,188.1 259.6,184.7 255.3,185.9" fill="#c2c2c2" stroke="#9c9c9c" stroke-width=".3"/>
<polygon points="255.3,185.9 259.6,184.7 256.8,183.8 252.5,185.1" fill="#fbfbfb" stroke="#9c9c9c" stroke-width=".4"/>
<polygon points="132.9,189.4 136.8,188.3 140.1,189.2 136.3,190.3" fill="#b4b4b4" opacity="0.4"/>
<polygon points="129.2,188.3 132.9,189.4 132.9,186.4 129.2,185.3" fill="#dedede" stroke="#9c9c9c" stroke-width=".3"/>
<polygon points="132.9,189.4 136.8,188.3 136.8,185.3 132.9,186.4" fill="#c2c2c2" stroke="#9c9c9c" stroke-width=".3"/>
<polygon points="132.9,186.4 136.8,185.3 133.0,184.1 129.2,185.3" fill="#fbfbfb" stroke="#9c9c9c" stroke-width=".4"/>
<polygon points="211.1,189.5 214.9,188.3 217.7,189.1 213.9,190.2" fill="#b4b4b4" opacity="0.4"/>
<polygon points="208.1,188.6 211.1,189.5 211.1,186.9 208.1,186.0" fill="#d4d4d4" stroke="#9c9c9c" stroke-width=".3"/>
<polygon points="211.1,189.5 214.9,188.3 214.9,185.8 211.1,186.9" fill="#b8b8b8" stroke="#9c9c9c" stroke-width=".3"/>
<polygon points="211.1,186.9 214.9,185.8 211.9,184.9 208.1,186.0" fill="#fbfbfb" stroke="#9c9c9c" stroke-width=".4"/>
<polygon points="188.1,189.5 191.6,188.5 194.5,189.3 191.1,190.3" fill="#b4b4b4" opacity="0.4"/>
<polygon points="185.3,188.7 188.1,189.5 188.1,186.8 185.3,186.0" fill="#e6e6e6" stroke="#9c9c9c" stroke-width=".3"/>
<polygon points="188.1,189.5 191.6,188.5 191.6,185.8 188.1,186.8" fill="#cacaca" stroke="#9c9c9c" stroke-width=".3"/>
<polygon points="188.1,186.8 191.6,185.8 188.7,184.9 185.3,186.0" fill="#fbfbfb" stroke="#9c9c9c" stroke-width=".4"/>
<polygon points="144.9,189.6 148.4,188.5 151.8,189.4 148.2,190.5" fill="#b4b4b4" opacity="0.4"/>
<polygon points="142.8,188.9 144.9,189.6 144.9,186.5 142.8,185.9" fill="#dedede" stroke="#9c9c9c" stroke-width=".3"/>
<polygon points="144.9,189.6 148.4,188.5 148.4,185.5 144.9,186.5" fill="#c2c2c2" stroke="#9c9c9c" stroke-width=".3"/>
<polygon points="144.9,186.5 148.4,185.5 146.4,184.8 142.8,185.9" fill="#fbfbfb" stroke="#9c9c9c" stroke-width=".4"/>
<polygon points="239.2,189.6 243.2,188.4 246.6,189.3 242.6,190.5" fill="#b4b4b4" opacity="0.4"/>
<polygon points="235.3,188.4 239.2,189.6 239.2,186.5 235.3,185.3" fill="#e6e6e6" stroke="#9c9c9c" stroke-width=".3"/>
<polygon points="239.2,189.6 243.2,188.4 243.2,185.3 239.2,186.5" fill="#cacaca" stroke="#9c9c9c" stroke-width=".3"/>
<polygon points="239.2,186.5 243.2,185.3 239.3,184.1 235.3,185.3" fill="#fbfbfb" stroke="#9c9c9c" stroke-width=".4"/>
<polygon points="115.4,189.6 117.8,188.9 121.5,189.9 119.0,190.6" fill="#b4b4b4" opacity="0.4"/>
<polygon points="113.2,189.0 115.4,189.6 115.4,186.3 113.2,185.6" fill="#dedede" stroke="#9c9c9c" stroke-width=".3"/>
<polygon points="115.4,189.6 117.8,188.9 117.8,185.6 115.4,186.3" fill="#c2c2c2" stroke="#9c9c9c" stroke-width=".3"/>
<polygon points="115.4,186.3 117.8,185.6 115.6,184.9 113.2,185.6" fill="#fbfbfb" stroke="#9c9c9c" stroke-width=".4"/>
<polygon points="204.9,189.6 207.6,188.8 209.5,189.4 206.8,190.2" fill="#b4b4b4" opacity="0.4"/>
<polygon points="202.3,188.9 204.9,189.6 204.9,187.9 202.3,187.1" fill="#dedede" stroke="#9c9c9c" stroke-width=".3"/>
<polygon points="204.9,189.6 207.6,188.8 207.6,187.1 204.9,187.9" fill="#c2c2c2" stroke="#9c9c9c" stroke-width=".3"/>
<polygon points="204.9,187.9 207.6,187.1 204.9,186.3 202.3,187.1" fill="#fbfbfb" stroke="#9c9c9c" stroke-width=".4"/>
<polygon points="103.9,189.6 108.2,188.4 110.2,188.9 105.9,190.2" fill="#b4b4b4" opacity="0.4"/>
<polygon points="100.5,188.6 103.9,189.6 103.9,187.9 100.5,186.8" fill="#dedede" stroke="#9c9c9c" stroke-width=".3"/>
<polygon points="103.9,189.6 108.2,188.4 108.2,186.6 103.9,187.9" fill="#c2c2c2" stroke="#9c9c9c" stroke-width=".3"/>
<polygon points="103.9,187.9 108.2,186.6 104.9,185.5 100.5,186.8" fill="#fbfbfb" stroke="#9c9c9c" stroke-width=".4"/>
<polygon points="30.5,189.7 34.0,188.6 36.9,189.4 33.3,190.5" fill="#b4b4b4" opacity="0.4"/>
<polygon points="28.3,189.0 30.5,189.7 30.5,187.1 28.3,186.4" fill="#e6e6e6" stroke="#9c9c9c" stroke-width=".3"/>
<polygon points="30.5,189.7 34.0,188.6 34.0,186.0 30.5,187.1" fill="#cacaca" stroke="#9c9c9c" stroke-width=".3"/>
<polygon points="30.5,187.1 34.0,186.0 31.8,185.4 28.3,186.4" fill="#fbfbfb" stroke="#9c9c9c" stroke-width=".4"/>
<polygon points="245.0,189.7 248.4,188.7 251.1,189.4 247.7,190.4" fill="#b4b4b4" opacity="0.4"/>
<polygon points="241.1,188.5 245.0,189.7 245.0,187.2 241.1,186.0" fill="#e6e6e6" stroke="#9c9c9c" stroke-width=".3"/>
<polygon points="245.0,189.7 248.4,188.7 248.4,186.2 245.0,187.2" fill="#cacaca" stroke="#9c9c9c" stroke-width=".3"/>
<polygon points="245.0,187.2 248.4,186.2 244.5,185.0 241.1,186.0" fill="#fbfbfb" stroke="#9c9c9c" stroke-width=".4"/>
<polygon points="217.1,189.8 221.2,188.5 224.1,189.3 220.0,190.5" fill="#b4b4b4" opacity="0.4"/>
<polygon points="215.0,189.1 217.1,189.8 217.1,187.2 215.0,186.5" fill="#e6e6e6" stroke="#9c9c9c" stroke-width=".3"/>
<polygon points="217.1,189.8 221.2,188.5 221.2,185.9 217.1,187.2" fill="#cacaca" stroke="#9c9c9c" stroke-width=".3"/>
<polygon points="217.1,187.2 221.2,185.9 219.1,185.3 215.0,186.5" fill="#fbfbfb" stroke="#9c9c9c" stroke-width=".4"/>
<polygon points="47.2,189.9 51.9,188.5 55.9,189.6 51.2,191.0" fill="#b4b4b4" opacity="0.6"/>
<polygon points="43.6,188.8 47.2,189.9 47.2,186.2 43.6,185.1" fill="#cacaca" stroke="#777" stroke-width=".3"/>
<polygon points="47.2,189.9 51.9,188.5 51.9,184.8 47.2,186.2" fill="#a6a6a6" stroke="#777" stroke-width=".3"/>
<polygon points="47.2,186.2 51.9,184.8 48.2,183.7 43.6,185.1" fill="#fbfbfb" stroke="#777" stroke-width=".4"/>
<polygon points="52.1,189.9 56.6,188.5 59.8,189.4 55.3,190.8" fill="#b4b4b4" opacity="0.4"/>
<polygon points="49.5,189.1 52.1,189.9 52.1,187.0 49.5,186.2" fill="#e6e6e6" stroke="#9c9c9c" stroke-width=".3"/>
<polygon points="52.1,189.9 56.6,188.5 56.6,185.7 52.1,187.0" fill="#cacaca" stroke="#9c9c9c" stroke-width=".3"/>
<polygon points="52.1,187.0 56.6,185.7 54.0,184.9 49.5,186.2" fill="#fbfbfb" stroke="#9c9c9c" stroke-width=".4"/>
<polygon points="121.7,190.0 124.4,189.2 128.6,190.3 126.0,191.1" fill="#b4b4b4" opacity="0.4"/>
<polygon points="118.4,188.9 121.7,190.0 121.7,186.1 118.4,185.1" fill="#e6e6e6" stroke="#9c9c9c" stroke-width=".3"/>
<polygon points="121.7,190.0 124.4,189.2 124.4,185.3 121.7,186.1" fill="#cacaca" stroke="#9c9c9c" stroke-width=".3"/>
<polygon points="121.7,186.1 124.4,185.3 121.0,184.3 118.4,185.1" fill="#fbfbfb" stroke="#9c9c9c" stroke-width=".4"/>
<polygon points="139.4,190.0 142.2,189.1 145.7,190.1 142.9,191.0" fill="#b4b4b4" opacity="0.4"/>
<polygon points="137.1,189.3 139.4,190.0 139.4,186.8 137.1,186.1" fill="#e6e6e6" stroke="#9c9c9c" stroke-width=".3"/>
<polygon points="139.4,190.0 142.2,189.1 142.2,185.9 139.4,186.8" fill="#cacaca" stroke="#9c9c9c" stroke-width=".3"/>
<polygon points="139.4,186.8 142.2,185.9 140.0,185.3 137.1,186.1" fill="#fbfbfb" stroke="#9c9c9c" stroke-width=".4"/>
<polygon points="232.7,190.0 236.2,189.0 239.5,189.8 235.9,190.9" fill="#b4b4b4" opacity="0.4"/>
<polygon points="230.5,189.4 232.7,190.0 232.7,187.1 230.5,186.4" fill="#e6e6e6" stroke="#9c9c9c" stroke-width=".3"/>
<polygon points="232.7,190.0 236.2,189.0 236.2,186.0 232.7,187.1" fill="#cacaca" stroke="#9c9c9c" stroke-width=".3"/>
<polygon points="232.7,187.1 236.2,186.0 234.0,185.4 230.5,186.4" fill="#fbfbfb" stroke="#9c9c9c" stroke-width=".4"/>
<polygon points="228.0,190.1 231.7,189.0 235.5,190.0 231.7,191.2" fill="#b4b4b4" opacity="0.4"/>
<polygon points="225.8,189.5 228.0,190.1 228.0,186.8 225.8,186.1" fill="#e6e6e6" stroke="#9c9c9c" stroke-width=".3"/>
<polygon points="228.0,190.1 231.7,189.0 231.7,185.6 228.0,186.8" fill="#cacaca" stroke="#9c9c9c" stroke-width=".3"/>
<polygon points="228.0,186.8 231.7,185.6 229.5,185.0 225.8,186.1" fill="#fbfbfb" stroke="#9c9c9c" stroke-width=".4"/>
<polygon points="110.3,190.2 114.1,189.0 117.4,189.9 113.6,191.1" fill="#b4b4b4" opacity="0.4"/>
<polygon points="107.0,189.2 110.3,190.2 110.3,187.2 107.0,186.2" fill="#e6e6e6" stroke="#9c9c9c" stroke-width=".3"/>
<polygon points="110.3,190.2 114.1,189.0 114.1,186.1 110.3,187.2" fill="#cacaca" stroke="#9c9c9c" stroke-width=".3"/>
<polygon points="110.3,187.2 114.1,186.1 110.8,185.1 107.0,186.2" fill="#fbfbfb" stroke="#9c9c9c" stroke-width=".4"/>
<polygon points="266.0,190.2 269.8,189.1 272.8,189.9 269.1,191.0" fill="#b4b4b4" opacity="0.4"/>
<polygon points="263.6,189.5 266.0,190.2 266.0,187.4 263.6,186.7" fill="#d4d4d4" stroke="#9c9c9c" stroke-width=".3"/>
<polygon points="266.0,190.2 269.8,189.1 269.8,186.3 266.0,187.4" fill="#b8b8b8" stroke="#9c9c9c" stroke-width=".3"/>
<polygon points="266.0,187.4 269.8,186.3 267.4,185.6 263.6,186.7" fill="#fbfbfb" stroke="#9c9c9c" stroke-width=".4"/>
<polygon points="171.8,190.2 174.4,189.4 177.9,190.4 175.3,191.2" fill="#b4b4b4" opacity="0.4"/>
<polygon points="168.9,189.3 171.8,190.2 171.8,187.0 168.9,186.1" fill="#dedede" stroke="#9c9c9c" stroke-width=".3"/>
<polygon points="171.8,190.2 174.4,189.4 174.4,186.2 171.8,187.0" fill="#c2c2c2" stroke="#9c9c9c" stroke-width=".3"/>
<polygon points="171.8,187.0 174.4,186.2 171.5,185.4 168.9,186.1" fill="#fbfbfb" stroke="#9c9c9c" stroke-width=".4"/>
<polygon points="76.0,190.2 80.4,188.9 83.6,189.8 79.2,191.1" fill="#b4b4b4" opacity="0.4"/>
<polygon points="73.3,189.4 76.0,190.2 76.0,187.3 73.3,186.5" fill="#e6e6e6" stroke="#9c9c9c" stroke-width=".3"/>
<polygon points="76.0,190.2 80.4,188.9 80.4,186.0 76.0,187.3" fill="#cacaca" stroke="#9c9c9c" stroke-width=".3"/>
<polygon points="76.0,187.3 80.4,186.0 77.6,185.2 73.3,186.5" fill="#fbfbfb" stroke="#9c9c9c" stroke-width=".4"/>
<polygon points="178.0,190.3 180.9,189.4 183.3,190.1 180.4,190.9" fill="#b4b4b4" opacity="0.4"/>
<polygon points="175.0,189.4 178.0,190.3 178.0,188.1 175.0,187.2" fill="#d4d4d4" stroke="#9c9c9c" stroke-width=".3"/>
<polygon points="178.0,190.3 180.9,189.4 180.9,187.2 178.0,188.1" fill="#b8b8b8" stroke="#9c9c9c" stroke-width=".3"/>
<polygon points="178.0,188.1 180.9,187.2 177.9,186.4 175.0,187.2" fill="#fbfbfb" stroke="#9c9c9c" stroke-width=".4"/>
<polygon points="92.3,190.3 96.5,189.0 99.2,189.8 95.0,191.0" fill="#b4b4b4" opacity="0.4"/>
<polygon points="89.5,189.5 92.3,190.3 92.3,187.8 89.5,187.0" fill="#e6e6e6" stroke="#9c9c9c" stroke-width=".3"/>
<polygon points="92.3,190.3 96.5,189.0 96.5,186.5 92.3,187.8" fill="#cacaca" stroke="#9c9c9c" stroke-width=".3"/>
<polygon points="92.3,187.8 96.5,186.5 93.7,185.7 89.5,187.0" fill="#fbfbfb" stroke="#9c9c9c" stroke-width=".4"/>
<polygon points="260.4,190.3 264.6,189.1 267.4,189.8 263.3,191.1" fill="#b4b4b4" opacity="0.4"/>
<polygon points="257.5,189.4 260.4,190.3 260.4,187.7 257.5,186.8" fill="#dedede" stroke="#9c9c9c" stroke-width=".3"/>
<polygon points="260.4,190.3 264.6,189.1 264.6,186.5 260.4,187.7" fill="#c2c2c2" stroke="#9c9c9c" stroke-width=".3"/>
<polygon points="260.4,187.7 264.6,186.5 261.6,185.6 257.5,186.8" fill="#fbfbfb" stroke="#9c9c9c" stroke-width=".4"/>
<polygon points="57.4,190.3 61.4,189.1 65.1,190.1 61.1,191.3" fill="#b4b4b4" opacity="0.4"/>
<polygon points="53.6,189.2 57.4,190.3 57.4,187.0 53.6,185.8" fill="#dedede" stroke="#9c9c9c" stroke-width=".3"/>
<polygon points="57.4,190.3 61.4,189.1 61.4,185.8 57.4,187.0" fill="#c2c2c2" stroke="#9c9c9c" stroke-width=".3"/>
<polygon points="57.4,187.0 61.4,185.8 57.6,184.6 53.6,185.8" fill="#fbfbfb" stroke="#9c9c9c" stroke-width=".4"/>
<polygon points="35.7,190.5 38.7,189.6 40.7,190.1 37.6,191.0" fill="#b4b4b4" opacity="0.4"/>
<polygon points="32.4,189.5 35.7,190.5 35.7,188.8 32.4,187.8" fill="#e6e6e6" stroke="#9c9c9c" stroke-width=".3"/>
<polygon points="35.7,190.5 38.7,189.6 38.7,187.8 35.7,188.8" fill="#cacaca" stroke="#9c9c9c" stroke-width=".3"/>
<polygon points="35.7,188.8 38.7,187.8 35.5,186.8 32.4,187.8" fill="#fbfbfb" stroke="#9c9c9c" stroke-width=".4"/>
<polygon points="166.0,190.5 169.5,189.5 173.5,190.6 170.0,191.6" fill="#b4b4b4" opacity="0.4"/>
<polygon points="163.0,189.6 166.0,190.5 166.0,186.9 163.0,186.0" fill="#e6e6e6" stroke="#9c9c9c" stroke-width=".3"/>
<polygon points="166.0,190.5 169.5,189.5 169.5,185.9 166.0,186.9" fill="#cacaca" stroke="#9c9c9c" stroke-width=".3"/>
<polygon points="166.0,186.9 169.5,185.9 166.5,185.0 163.0,186.0" fill="#fbfbfb" stroke="#9c9c9c" stroke-width=".4"/>
<polygon points="249.7,190.6 253.5,189.4 256.2,190.1 252.4,191.3" fill="#b4b4b4" opacity="0.4"/>
<polygon points="247.6,189.9 249.7,190.6 249.7,188.1 247.6,187.5" fill="#e6e6e6" stroke="#9c9c9c" stroke-width=".3"/>
<polygon points="249.7,190.6 253.5,189.4 253.5,187.0 249.7,188.1" fill="#cacaca" stroke="#9c9c9c" stroke-width=".3"/>
<polygon points="249.7,188.1 253.5,187.0 251.4,186.3 247.6,187.5" fill="#fbfbfb" stroke="#9c9c9c" stroke-width=".4"/>
<polygon points="126.7,190.6 129.3,189.8 131.8,190.5 129.2,191.3" fill="#b4b4b4" opacity="0.4"/>
<polygon points="123.4,189.6 126.7,190.6 126.7,188.3 123.4,187.3" fill="#dedede" stroke="#9c9c9c" stroke-width=".3"/>
<polygon points="126.7,190.6 129.3,189.8 129.3,187.6 126.7,188.3" fill="#c2c2c2" stroke="#9c9c9c" stroke-width=".3"/>
<polygon points="126.7,188.3 129.3,187.6 126.0,186.5 123.4,187.3" fill="#fbfbfb" stroke="#9c9c9c" stroke-width=".4"/>
<polygon points="155.4,190.7 160.0,189.3 163.0,190.1 158.4,191.5" fill="#b4b4b4" opacity="0.6"/>
<polygon points="153.3,190.1 155.4,190.7 155.4,188.0 153.3,187.3" fill="#cacaca" stroke="#777" stroke-width=".3"/>
<polygon points="155.4,190.7 160.0,189.3 160.0,186.6 155.4,188.0" fill="#a6a6a6" stroke="#777" stroke-width=".3"/>
<polygon points="155.4,188.0 160.0,186.6 157.9,186.0 153.3,187.3" fill="#fbfbfb" stroke="#777" stroke-width=".4"/>
<polygon points="97.5,190.8 100.6,189.8 102.8,190.4 99.7,191.4" fill="#b4b4b4" opacity="0.4"/>
<polygon points="94.9,190.0 97.5,190.8 97.5,188.8 94.9,188.0" fill="#d4d4d4" stroke="#9c9c9c" stroke-width=".3"/>
<polygon points="97.5,190.8 100.6,189.8 100.6,187.8 97.5,188.8" fill="#b8b8b8" stroke="#9c9c9c" stroke-width=".3"/>
<polygon points="97.5,188.8 100.6,187.8 97.9,187.1 94.9,188.0" fill="#fbfbfb" stroke="#9c9c9c" stroke-width=".4"/>
<polygon points="81.1,190.8 84.7,189.7 86.8,190.3 83.2,191.4" fill="#b4b4b4" opacity="0.4"/>
<polygon points="77.3,189.7 81.1,190.8 81.1,188.9 77.3,187.8" fill="#e6e6e6" stroke="#9c9c9c" stroke-width=".3"/>
<polygon points="81.1,190.8 84.7,189.7 84.7,187.8 81.1,188.9" fill="#cacaca" stroke="#9c9c9c" stroke-width=".3"/>
<polygon points="81.1,188.9 84.7,187.8 81.0,186.7 77.3,187.8" fill="#fbfbfb" stroke="#9c9c9c" stroke-width=".4"/>
<polygon points="63.8,191.0 66.7,190.1 69.1,190.8 66.2,191.7" fill="#b4b4b4" opacity="0.4"/>
<polygon points="60.1,189.9 63.8,191.0 63.8,188.8 60.1,187.7" fill="#e6e6e6" stroke="#9c9c9c" stroke-width=".3"/>
<polygon points="63.8,191.0 66.7,190.1 66.7,187.9 63.8,188.8" fill="#cacaca" stroke="#9c9c9c" stroke-width=".3"/>
<polygon points="63.8,188.8 66.7,187.9 63.0,186.8 60.1,187.7" fill="#fbfbfb" stroke="#9c9c9c" stroke-width=".4"/>
<polygon points="183.2,191.0 187.7,189.6 190.7,190.4 186.1,191.8" fill="#b4b4b4" opacity="0.4"/>
<polygon points="181.1,190.4 183.2,191.0 183.2,188.3 181.1,187.7" fill="#dedede" stroke="#9c9c9c" stroke-width=".3"/>
<polygon points="183.2,191.0 187.7,189.6 187.7,186.9 183.2,188.3" fill="#c2c2c2" stroke="#9c9c9c" stroke-width=".3"/>
<polygon points="183.2,188.3 187.7,186.9 185.7,186.3 181.1,187.7" fill="#fbfbfb" stroke="#9c9c9c" stroke-width=".4"/>
<polygon points="160.0,191.1 162.5,190.3 166.3,191.4 163.8,192.1" fill="#b4b4b4" opacity="0.4"/>
<polygon points="157.9,190.4 160.0,191.1 160.0,187.6 157.9,187.0" fill="#dedede" stroke="#9c9c9c" stroke-width=".3"/>
<polygon points="160.0,191.1 162.5,190.3 162.5,186.9 160.0,187.6" fill="#c2c2c2" stroke="#9c9c9c" stroke-width=".3"/>
<polygon points="160.0,187.6 162.5,186.9 160.4,186.2 157.9,187.0" fill="#fbfbfb" stroke="#9c9c9c" stroke-width=".4"/>
<polygon points="41.1,191.1 43.7,190.3 47.8,191.4 45.2,192.2" fill="#b4b4b4" opacity="0.4"/>
<polygon points="38.4,190.3 41.1,191.1 41.1,187.3 38.4,186.5" fill="#d4d4d4" stroke="#9c9c9c" stroke-width=".3"/>
<polygon points="41.1,191.1 43.7,190.3 43.7,186.6 41.1,187.3" fill="#b8b8b8" stroke="#9c9c9c" stroke-width=".3"/>
<polygon points="41.1,187.3 43.7,186.6 41.0,185.8 38.4,186.5" fill="#fbfbfb" stroke="#9c9c9c" stroke-width=".4"/>
<polygon points="69.4,191.1 73.8,189.8 77.3,190.8 72.9,192.1" fill="#b4b4b4" opacity="0.4"/>
<polygon points="66.3,190.2 69.4,191.1 69.4,188.0 66.3,187.0" fill="#e6e6e6" stroke="#9c9c9c" stroke-width=".3"/>
<polygon points="69.4,191.1 73.8,189.8 73.8,186.6 69.4,188.0" fill="#cacaca" stroke="#9c9c9c" stroke-width=".3"/>
<polygon points="69.4,188.0 73.8,186.6 70.7,185.7 66.3,187.0" fill="#fbfbfb" stroke="#9c9c9c" stroke-width=".4"/>
<polygon points="64.4,192.0 67.7,191.0 69.8,191.6 66.4,192.6" fill="#b4b4b4" opacity="0.4"/>
<polygon points="61.8,191.2 64.4,192.0 64.4,190.1 61.8,189.4" fill="#d4d4d4" stroke="#9c9c9c" stroke-width=".3"/>
<polygon points="64.4,192.0 67.7,191.0 67.7,189.1 64.4,190.1" fill="#b8b8b8" stroke="#9c9c9c" stroke-width=".3"/>
<polygon points="64.4,190.1 67.7,189.1 65.1,188.4 61.8,189.4" fill="#fbfbfb" stroke="#9c9c9c" stroke-width=".4"/>
<polygon points="41.6,192.1 44.9,191.1 48.3,192.0 45.0,193.0" fill="#b4b4b4" opacity="0.4"/>
<polygon points="37.9,190.9 41.6,192.1 41.6,189.0 37.9,187.9" fill="#d4d4d4" stroke="#9c9c9c" stroke-width=".3"/>
<polygon points="41.6,192.1 44.9,191.1 44.9,188.0 41.6,189.0" fill="#b8b8b8" stroke="#9c9c9c" stroke-width=".3"/>
<polygon points="41.6,189.0 44.9,188.0 41.2,186.9 37.9,187.9" fill="#fbfbfb" stroke="#9c9c9c" stroke-width=".4"/>
<polygon points="106.4,192.1 109.6,191.2 114.0,192.3 110.8,193.3" fill="#b4b4b4" opacity="0.4"/>
<polygon points="102.8,191.0 106.4,192.1 106.4,188.2 102.8,187.1" fill="#e6e6e6" stroke="#9c9c9c" stroke-width=".3"/>
<polygon points="106.4,192.1 109.6,191.2 109.6,187.2 106.4,188.2" fill="#cacaca" stroke="#9c9c9c" stroke-width=".3"/>
<polygon points="106.4,188.2 109.6,187.2 106.0,186.1 102.8,187.1" fill="#fbfbfb" stroke="#9c9c9c" stroke-width=".4"/>
<polygon points="112.1,192.4 116.0,191.2 119.7,192.3 115.9,193.4" fill="#b4b4b4" opacity="0.4"/>
<polygon points="109.4,191.6 112.1,192.4 112.1,189.0 109.4,188.2" fill="#d4d4d4" stroke="#9c9c9c" stroke-width=".3"/>
<polygon points="112.1,192.4 116.0,191.2 116.0,187.8 112.1,189.0" fill="#b8b8b8" stroke="#9c9c9c" stroke-width=".3"/>
<polygon points="112.1,189.0 116.0,187.8 113.3,187.0 109.4,188.2" fill="#fbfbfb" stroke="#9c9c9c" stroke-width=".4"/>
<polygon points="47.9,192.4 50.8,191.6 53.1,192.2 50.2,193.1" fill="#b4b4b4" opacity="0.4"/>
<polygon points="44.7,191.5 47.9,192.4 47.9,190.4 44.7,189.4" fill="#d4d4d4" stroke="#9c9c9c" stroke-width=".3"/>
<polygon points="47.9,192.4 50.8,191.6 50.8,189.5 47.9,190.4" fill="#b8b8b8" stroke="#9c9c9c" stroke-width=".3"/>
<polygon points="47.9,190.4 50.8,189.5 47.6,188.5 44.7,189.4" fill="#fbfbfb" stroke="#9c9c9c" stroke-width=".4"/>
<polygon points="117.9,192.5 122.5,191.1 126.4,192.1 121.7,193.5" fill="#b4b4b4" opacity="0.6"/>
<polygon points="115.7,191.8 117.9,192.5 117.9,188.9 115.7,188.3" fill="#dcdcdc" stroke="#777" stroke-width=".3"/>
<polygon points="117.9,192.5 122.5,191.1 122.5,187.5 117.9,188.9" fill="#b8b8b8" stroke="#777" stroke-width=".3"/>
<polygon points="117.9,188.9 122.5,187.5 120.4,186.9 115.7,188.3" fill="#fbfbfb" stroke="#777" stroke-width=".4"/>
<polygon points="94.3,192.6 99.0,191.1 102.2,192.0 97.5,193.4" fill="#b4b4b4" opacity="0.6"/>
<polygon points="90.4,191.4 94.3,192.6 94.3,189.6 90.4,188.5" fill="#d4d4d4" stroke="#777" stroke-width=".3"/>
<polygon points="94.3,192.6 99.0,191.1 99.0,188.2 94.3,189.6" fill="#b0b0b0" stroke="#777" stroke-width=".3"/>
<polygon points="94.3,189.6 99.0,188.2 95.1,187.1 90.4,188.5" fill="#fbfbfb" stroke="#777" stroke-width=".4"/>
<polygon points="251.9,192.6 255.0,191.7 257.9,192.5 254.9,193.4" fill="#b4b4b4" opacity="0.4"/>
<polygon points="248.8,191.6 251.9,192.6 251.9,189.9 248.8,189.0" fill="#e6e6e6" stroke="#9c9c9c" stroke-width=".3"/>
<polygon points="251.9,192.6 255.0,191.7 255.0,189.0 251.9,189.9" fill="#cacaca" stroke="#9c9c9c" stroke-width=".3"/>
<polygon points="251.9,189.9 255.0,189.0 251.8,188.0 248.8,189.0" fill="#fbfbfb" stroke="#9c9c9c" stroke-width=".4"/>
<polygon points="25.1,192.6 28.3,191.6 30.7,192.3 27.6,193.2" fill="#b4b4b4" opacity="0.4"/>
<polygon points="23.0,191.9 25.1,192.6 25.1,190.4 23.0,189.7" fill="#d4d4d4" stroke="#9c9c9c" stroke-width=".3"/>
<polygon points="25.1,192.6 28.3,191.6 28.3,189.4 25.1,190.4" fill="#b8b8b8" stroke="#9c9c9c" stroke-width=".3"/>
<polygon points="25.1,190.4 28.3,189.4 26.1,188.8 23.0,189.7" fill="#fbfbfb" stroke="#9c9c9c" stroke-width=".4"/>
<polygon points="81.8,192.7 85.2,191.7 88.2,192.5 84.8,193.5" fill="#b4b4b4" opacity="0.4"/>
<polygon points="79.5,192.1 81.8,192.7 81.8,190.0 79.5,189.3" fill="#d4d4d4" stroke="#9c9c9c" stroke-width=".3"/>
<polygon points="81.8,192.7 85.2,191.7 85.2,189.0 81.8,190.0" fill="#b8b8b8" stroke="#9c9c9c" stroke-width=".3"/>
<polygon points="81.8,190.0 85.2,189.0 83.0,188.3 79.5,189.3" fill="#fbfbfb" stroke="#9c9c9c" stroke-width=".4"/>
<polygon points="257.2,192.7 261.5,191.4 263.5,192.0 259.1,193.3" fill="#b4b4b4" opacity="0.4"/>
<polygon points="253.7,191.7 257.2,192.7 257.2,191.0 253.7,189.9" fill="#e6e6e6" stroke="#9c9c9c" stroke-width=".3"/>
<polygon points="257.2,192.7 261.5,191.4 261.5,189.7 257.2,191.0" fill="#cacaca" stroke="#9c9c9c" stroke-width=".3"/>
<polygon points="257.2,191.0 261.5,189.7 258.0,188.6 253.7,189.9" fill="#fbfbfb" stroke="#9c9c9c" stroke-width=".4"/>
<polygon points="88.2,192.8 93.0,191.4 97.0,192.5 92.2,193.9" fill="#b4b4b4" opacity="0.6"/>
<polygon points="85.7,192.0 88.2,192.8 88.2,189.1 85.7,188.4" fill="#dcdcdc" stroke="#777" stroke-width=".3"/>
<polygon points="88.2,192.8 93.0,191.4 93.0,187.7 88.2,189.1" fill="#b8b8b8" stroke="#777" stroke-width=".3"/>
<polygon points="88.2,189.1 93.0,187.7 90.4,186.9 85.7,188.4" fill="#fbfbfb" stroke="#777" stroke-width=".4"/>
<polygon points="164.4,192.8 168.5,191.6 172.2,192.6 168.1,193.8" fill="#b4b4b4" opacity="0.4"/>
<polygon points="161.2,191.9 164.4,192.8 164.4,189.4 161.2,188.5" fill="#e6e6e6" stroke="#9c9c9c" stroke-width=".3"/>
<polygon points="164.4,192.8 168.5,191.6 168.5,188.2 164.4,189.4" fill="#cacaca" stroke="#9c9c9c" stroke-width=".3"/>
<polygon points="164.4,189.4 168.5,188.2 165.3,187.3 161.2,188.5" fill="#fbfbfb" stroke="#9c9c9c" stroke-width=".4"/>
<polygon points="59.0,192.9 62.1,191.9 65.2,192.7 62.0,193.7" fill="#b4b4b4" opacity="0.4"/>
<polygon points="55.3,191.8 59.0,192.9 59.0,190.1 55.3,189.0" fill="#dedede" stroke="#9c9c9c" stroke-width=".3"/>
<polygon points="59.0,192.9 62.1,191.9 62.1,189.2 59.0,190.1" fill="#c2c2c2" stroke="#9c9c9c" stroke-width=".3"/>
<polygon points="59.0,190.1 62.1,189.2 58.5,188.1 55.3,189.0" fill="#fbfbfb" stroke="#9c9c9c" stroke-width=".4"/>
<polygon points="151.6,192.9 154.1,192.1 156.6,192.8 154.1,193.6" fill="#b4b4b4" opacity="0.4"/>
<polygon points="147.7,191.7 151.6,192.9 151.6,190.6 147.7,189.5" fill="#e6e6e6" stroke="#9c9c9c" stroke-width=".3"/>
<polygon points="151.6,192.9 154.1,192.1 154.1,189.9 151.6,190.6" fill="#cacaca" stroke="#9c9c9c" stroke-width=".3"/>
<polygon points="151.6,190.6 154.1,189.9 150.3,188.7 147.7,189.5" fill="#fbfbfb" stroke="#9c9c9c" stroke-width=".4"/>
<polygon points="100.7,192.9 104.1,191.9 106.2,192.5 102.8,193.5" fill="#b4b4b4" opacity="0.4"/>
<polygon points="97.8,192.0 100.7,192.9 100.7,191.0 97.8,190.1" fill="#e6e6e6" stroke="#9c9c9c" stroke-width=".3"/>
<polygon points="100.7,192.9 104.1,191.9 104.1,190.0 100.7,191.0" fill="#cacaca" stroke="#9c9c9c" stroke-width=".3"/>
<polygon points="100.7,191.0 104.1,190.0 101.2,189.1 97.8,190.1" fill="#fbfbfb" stroke="#9c9c9c" stroke-width=".4"/>
<polygon points="187.2,193.3 190.1,192.4 192.6,193.1 189.7,194.0" fill="#b4b4b4" opacity="0.4"/>
<polygon points="183.3,192.1 187.2,193.3 187.2,191.0 183.3,189.8" fill="#e6e6e6" stroke="#9c9c9c" stroke-width=".3"/>
<polygon points="187.2,193.3 190.1,192.4 190.1,190.1 187.2,191.0" fill="#cacaca" stroke="#9c9c9c" stroke-width=".3"/>
<polygon points="187.2,191.0 190.1,190.1 186.2,189.0 183.3,189.8" fill="#fbfbfb" stroke="#9c9c9c" stroke-width=".4"/>
<polygon points="158.6,193.3 161.4,192.4 164.7,193.3 161.8,194.2" fill="#b4b4b4" opacity="0.4"/>
<polygon points="155.1,192.3 158.6,193.3 158.6,190.3 155.1,189.3" fill="#dedede" stroke="#9c9c9c" stroke-width=".3"/>
<polygon points="158.6,193.3 161.4,192.4 161.4,189.5 158.6,190.3" fill="#c2c2c2" stroke="#9c9c9c" stroke-width=".3"/>
<polygon points="158.6,190.3 161.4,189.5 158.0,188.4 155.1,189.3" fill="#fbfbfb" stroke="#9c9c9c" stroke-width=".4"/>
<polygon points="245.7,193.3 248.5,192.5 251.2,193.2 248.3,194.0" fill="#b4b4b4" opacity="0.4"/>
<polygon points="241.7,192.1 245.7,193.3 245.7,190.9 241.7,189.7" fill="#dedede" stroke="#9c9c9c" stroke-width=".3"/>
<polygon points="245.7,193.3 248.5,192.5 248.5,190.0 245.7,190.9" fill="#c2c2c2" stroke="#9c9c9c" stroke-width=".3"/>
<polygon points="245.7,190.9 248.5,190.0 244.5,188.8 241.7,189.7" fill="#fbfbfb" stroke="#9c9c9c" stroke-width=".4"/>
<polygon points="232.8,193.6 236.2,192.5 239.7,193.5 236.3,194.5" fill="#b4b4b4" opacity="0.4"/>
<polygon points="230.3,192.8 232.8,193.6 232.8,190.4 230.3,189.6" fill="#e6e6e6" stroke="#9c9c9c" stroke-width=".3"/>
<polygon points="232.8,193.6 236.2,192.5 236.2,189.3 232.8,190.4" fill="#cacaca" stroke="#9c9c9c" stroke-width=".3"/>
<polygon points="232.8,190.4 236.2,189.3 233.8,188.6 230.3,189.6" fill="#fbfbfb" stroke="#9c9c9c" stroke-width=".4"/>
<polygon points="209.8,193.6 212.9,192.6 215.9,193.5 212.8,194.4" fill="#b4b4b4" opacity="0.4"/>
<polygon points="206.3,192.5 209.8,193.6 209.8,190.9 206.3,189.8" fill="#e6e6e6" stroke="#9c9c9c" stroke-width=".3"/>
<polygon points="209.8,193.6 212.9,192.6 212.9,189.9 209.8,190.9" fill="#cacaca" stroke="#9c9c9c" stroke-width=".3"/>
<polygon points="209.8,190.9 212.9,189.9 209.4,188.9 206.3,189.8" fill="#fbfbfb" stroke="#9c9c9c" stroke-width=".4"/>
<polygon points="181.5,193.7 185.2,192.5 188.2,193.4 184.5,194.5" fill="#b4b4b4" opacity="0.4"/>
<polygon points="177.7,192.5 181.5,193.7 181.5,190.9 177.7,189.8" fill="#dedede" stroke="#9c9c9c" stroke-width=".3"/>
<polygon points="181.5,193.7 185.2,192.5 185.2,189.8 181.5,190.9" fill="#c2c2c2" stroke="#9c9c9c" stroke-width=".3"/>
<polygon points="181.5,190.9 185.2,189.8 181.4,188.7 177.7,189.8" fill="#fbfbfb" stroke="#9c9c9c" stroke-width=".4"/>
<polygon points="53.7,193.7 56.5,192.8 59.2,193.6 56.4,194.4" fill="#b4b4b4" opacity="0.4"/>
<polygon points="50.1,192.6 53.7,193.7 53.7,191.3 50.1,190.2" fill="#d4d4d4" stroke="#9c9c9c" stroke-width=".3"/>
<polygon points="53.7,193.7 56.5,192.8 56.5,190.4 53.7,191.3" fill="#b8b8b8" stroke="#9c9c9c" stroke-width=".3"/>
<polygon points="53.7,191.3 56.5,190.4 52.9,189.3 50.1,190.2" fill="#fbfbfb" stroke="#9c9c9c" stroke-width=".4"/>
<polygon points="31.3,193.7 34.3,192.8 36.4,193.4 33.4,194.3" fill="#b4b4b4" opacity="0.4"/>
<polygon points="29.0,193.0 31.3,193.7 31.3,191.8 29.0,191.1" fill="#dedede" stroke="#9c9c9c" stroke-width=".3"/>
<polygon points="31.3,193.7 34.3,192.8 34.3,190.9 31.3,191.8" fill="#c2c2c2" stroke="#9c9c9c" stroke-width=".3"/>
<polygon points="31.3,191.8 34.3,190.9 32.0,190.2 29.0,191.1" fill="#fbfbfb" stroke="#9c9c9c" stroke-width=".4"/>
<polygon points="214.8,193.7 217.6,192.9 220.3,193.6 217.6,194.4" fill="#b4b4b4" opacity="0.4"/>
<polygon points="212.6,193.0 214.8,193.7 214.8,191.2 212.6,190.6" fill="#e6e6e6" stroke="#9c9c9c" stroke-width=".3"/>
<polygon points="214.8,193.7 217.6,192.9 217.6,190.4 214.8,191.2" fill="#cacaca" stroke="#9c9c9c" stroke-width=".3"/>
<polygon points="214.8,191.2 217.6,190.4 215.4,189.7 212.6,190.6" fill="#fbfbfb" stroke="#9c9c9c" stroke-width=".4"/>
<polygon points="76.6,193.8 79.4,193.0 82.4,193.8 79.6,194.6" fill="#b4b4b4" opacity="0.4"/>
<polygon points="72.9,192.7 76.6,193.8 76.6,191.1 72.9,190.0" fill="#dedede" stroke="#9c9c9c" stroke-width=".3"/>
<polygon points="76.6,193.8 79.4,193.0 79.4,190.3 76.6,191.1" fill="#c2c2c2" stroke="#9c9c9c" stroke-width=".3"/>
<polygon points="76.6,191.1 79.4,190.3 75.7,189.2 72.9,190.0" fill="#fbfbfb" stroke="#9c9c9c" stroke-width=".4"/>
<polygon points="204.3,193.8 209.2,192.4 213.0,193.4 208.1,194.9" fill="#b4b4b4" opacity="0.6"/>
<polygon points="201.2,192.9 204.3,193.8 204.3,190.4 201.2,189.4" fill="#dcdcdc" stroke="#777" stroke-width=".3"/>
<polygon points="204.3,193.8 209.2,192.4 209.2,188.9 204.3,190.4" fill="#b8b8b8" stroke="#777" stroke-width=".3"/>
<polygon points="204.3,190.4 209.2,188.9 206.0,188.0 201.2,189.4" fill="#fbfbfb" stroke="#777" stroke-width=".4"/>
<polygon points="193.4,193.9 197.6,192.6 201.8,193.7 197.6,195.0" fill="#b4b4b4" opacity="0.4"/>
<polygon points="189.9,192.8 193.4,193.9 193.4,190.0 189.9,189.0" fill="#e6e6e6" stroke="#9c9c9c" stroke-width=".3"/>
<polygon points="193.4,193.9 197.6,192.6 197.6,188.8 193.4,190.0" fill="#cacaca" stroke="#9c9c9c" stroke-width=".3"/>
<polygon points="193.4,190.0 197.6,188.8 194.1,187.7 189.9,189.0" fill="#fbfbfb" stroke="#9c9c9c" stroke-width=".4"/>
<polygon points="264.2,193.9 268.9,192.5 271.9,193.3 267.3,194.7" fill="#b4b4b4" opacity="0.6"/>
<polygon points="261.1,192.9 264.2,193.9 264.2,191.1 261.1,190.1" fill="#cacaca" stroke="#777" stroke-width=".3"/>
<polygon points="264.2,193.9 268.9,192.5 268.9,189.7 264.2,191.1" fill="#a6a6a6" stroke="#777" stroke-width=".3"/>
<polygon points="264.2,191.1 268.9,189.7 265.7,188.8 261.1,190.1" fill="#fbfbfb" stroke="#777" stroke-width=".4"/>
<polygon points="146.1,193.9 150.6,192.5 152.8,193.1 148.2,194.5" fill="#b4b4b4" opacity="0.4"/>
<polygon points="142.3,192.8 146.1,193.9 146.1,192.0 142.3,190.8" fill="#dedede" stroke="#9c9c9c" stroke-width=".3"/>
<polygon points="146.1,193.9 150.6,192.5 150.6,190.6 146.1,192.0" fill="#c2c2c2" stroke="#9c9c9c" stroke-width=".3"/>
<polygon points="146.1,192.0 150.6,190.6 146.9,189.5 142.3,190.8" fill="#fbfbfb" stroke="#9c9c9c" stroke-width=".4"/>
<polygon points="124.1,193.9 127.6,192.9 130.3,193.6 126.8,194.7" fill="#b4b4b4" opacity="0.4"/>
<polygon points="121.1,193.0 124.1,193.9 124.1,191.5 121.1,190.6" fill="#d4d4d4" stroke="#9c9c9c" stroke-width=".3"/>
<polygon points="124.1,193.9 127.6,192.9 127.6,190.4 124.1,191.5" fill="#b8b8b8" stroke="#9c9c9c" stroke-width=".3"/>
<polygon points="124.1,191.5 127.6,190.4 124.6,189.5 121.1,190.6" fill="#fbfbfb" stroke="#9c9c9c" stroke-width=".4"/>
<polygon points="36.5,194.0 41.1,192.6 45.7,193.9 41.2,195.2" fill="#b4b4b4" opacity="0.4"/>
<polygon points="34.2,193.2 36.5,194.0 36.5,189.7 34.2,189.0" fill="#d4d4d4" stroke="#9c9c9c" stroke-width=".3"/>
<polygon points="36.5,194.0 41.1,192.6 41.1,188.4 36.5,189.7" fill="#b8b8b8" stroke="#9c9c9c" stroke-width=".3"/>
<polygon points="36.5,189.7 41.1,188.4 38.7,187.6 34.2,189.0" fill="#fbfbfb" stroke="#9c9c9c" stroke-width=".4"/>
<polygon points="176.4,194.0 180.8,192.7 183.2,193.4 178.8,194.7" fill="#b4b4b4" opacity="0.4"/>
<polygon points="173.3,193.1 176.4,194.0 176.4,191.9 173.3,190.9" fill="#d4d4d4" stroke="#9c9c9c" stroke-width=".3"/>
<polygon points="176.4,194.0 180.8,192.7 180.8,190.5 176.4,191.9" fill="#b8b8b8" stroke="#9c9c9c" stroke-width=".3"/>
<polygon points="176.4,191.9 180.8,190.5 177.7,189.6 173.3,190.9" fill="#fbfbfb" stroke="#9c9c9c" stroke-width=".4"/>
<polygon points="227.3,194.0 230.2,193.2 233.4,194.0 230.5,194.9" fill="#b4b4b4" opacity="0.4"/>
<polygon points="225.1,193.3 227.3,194.0 227.3,191.2 225.1,190.5" fill="#dedede" stroke="#9c9c9c" stroke-width=".3"/>
<polygon points="227.3,194.0 230.2,193.2 230.2,190.3 227.3,191.2" fill="#c2c2c2" stroke="#9c9c9c" stroke-width=".3"/>
<polygon points="227.3,191.2 230.2,190.3 228.0,189.6 225.1,190.5" fill="#fbfbfb" stroke="#9c9c9c" stroke-width=".4"/>
<polygon points="171.3,194.1 175.9,192.7 180.1,193.8 175.4,195.2" fill="#b4b4b4" opacity="0.6"/>
<polygon points="167.0,192.8 171.3,194.1 171.3,190.3 167.0,189.0" fill="#d4d4d4" stroke="#777" stroke-width=".3"/>
<polygon points="171.3,194.1 175.9,192.7 175.9,188.9 171.3,190.3" fill="#b0b0b0" stroke="#777" stroke-width=".3"/>
<polygon points="171.3,190.3 175.9,188.9 171.7,187.6 167.0,189.0" fill="#fbfbfb" stroke="#777" stroke-width=".4"/>
<polygon points="70.5,194.1 75.4,192.7 79.2,193.7 74.3,195.2" fill="#b4b4b4" opacity="0.6"/>
<polygon points="67.8,193.3 70.5,194.1 70.5,190.7 67.8,189.9" fill="#dcdcdc" stroke="#777" stroke-width=".3"/>
<polygon points="70.5,194.1 75.4,192.7 75.4,189.3 70.5,190.7" fill="#b8b8b8" stroke="#777" stroke-width=".3"/>
<polygon points="70.5,190.7 75.4,189.3 72.7,188.4 67.8,189.9" fill="#fbfbfb" stroke="#777" stroke-width=".4"/>
<polygon points="141.1,194.2 144.2,193.2 147.6,194.1 144.5,195.1" fill="#b4b4b4" opacity="0.4"/>
<polygon points="138.5,193.4 141.1,194.2 141.1,191.1 138.5,190.3" fill="#d4d4d4" stroke="#9c9c9c" stroke-width=".3"/>
<polygon points="141.1,194.2 144.2,193.2 144.2,190.2 141.1,191.1" fill="#b8b8b8" stroke="#9c9c9c" stroke-width=".3"/>
<polygon points="141.1,191.1 144.2,190.2 141.6,189.4 138.5,190.3" fill="#fbfbfb" stroke="#9c9c9c" stroke-width=".4"/>
<polygon points="238.9,194.2 241.7,193.3 243.9,193.9 241.1,194.8" fill="#b4b4b4" opacity="0.4"/>
<polygon points="236.4,193.4 238.9,194.2 238.9,192.2 236.4,191.4" fill="#dedede" stroke="#9c9c9c" stroke-width=".3"/>
<polygon points="238.9,194.2 241.7,193.3 241.7,191.3 238.9,192.2" fill="#c2c2c2" stroke="#9c9c9c" stroke-width=".3"/>
<polygon points="238.9,192.2 241.7,191.3 239.2,190.6 236.4,191.4" fill="#fbfbfb" stroke="#9c9c9c" stroke-width=".4"/>
<polygon points="134.9,194.3 138.6,193.2 141.5,194.0 137.8,195.1" fill="#b4b4b4" opacity="0.4"/>
<polygon points="132.1,193.5 134.9,194.3 134.9,191.6 132.1,190.8" fill="#e6e6e6" stroke="#9c9c9c" stroke-width=".3"/>
<polygon points="134.9,194.3 138.6,193.2 138.6,190.5 134.9,191.6" fill="#cacaca" stroke="#9c9c9c" stroke-width=".3"/>
<polygon points="134.9,191.6 138.6,190.5 135.8,189.7 132.1,190.8" fill="#fbfbfb" stroke="#9c9c9c" stroke-width=".4"/>
<polygon points="29.8,195.3 34.6,193.8 37.2,194.5 32.4,196.0" fill="#b4b4b4" opacity="0.6"/>
<polygon points="25.9,194.1 29.8,195.3 29.8,192.9 25.9,191.7" fill="#dcdcdc" stroke="#777" stroke-width=".3"/>
<polygon points="29.8,195.3 34.6,193.8 34.6,191.5 29.8,192.9" fill="#b8b8b8" stroke="#777" stroke-width=".3"/>
<polygon points="29.8,192.9 34.6,191.5 30.7,190.3 25.9,191.7" fill="#fbfbfb" stroke="#777" stroke-width=".4"/>
<polygon points="36.3,195.3 39.6,194.3 43.3,195.3 39.9,196.3" fill="#b4b4b4" opacity="0.4"/>
<polygon points="34.0,194.6 36.3,195.3 36.3,192.0 34.0,191.3" fill="#d4d4d4" stroke="#9c9c9c" stroke-width=".3"/>
<polygon points="36.3,195.3 39.6,194.3 39.6,191.0 36.3,192.0" fill="#b8b8b8" stroke="#9c9c9c" stroke-width=".3"/>
<polygon points="36.3,192.0 39.6,191.0 37.3,190.3 34.0,191.3" fill="#fbfbfb" stroke="#9c9c9c" stroke-width=".4"/>
<polygon points="265.4,195.4 270.4,193.9 272.9,194.6 268.0,196.0" fill="#b4b4b4" opacity="0.6"/>
<polygon points="261.7,194.2 265.4,195.4 265.4,193.1 261.7,191.9" fill="#dcdcdc" stroke="#777" stroke-width=".3"/>
<polygon points="265.4,195.4 270.4,193.9 270.4,191.6 265.4,193.1" fill="#b8b8b8" stroke="#777" stroke-width=".3"/>
<polygon points="265.4,193.1 270.4,191.6 266.6,190.5 261.7,191.9" fill="#fbfbfb" stroke="#777" stroke-width=".4"/>
<polygon points="77.8,195.4 80.4,194.6 82.7,195.2 80.0,196.0" fill="#b4b4b4" opacity="0.4"/>
<polygon points="74.6,194.5 77.8,195.4 77.8,193.4 74.6,192.5" fill="#e6e6e6" stroke="#9c9c9c" stroke-width=".3"/>
<polygon points="77.8,195.4 80.4,194.6 80.4,192.6 77.8,193.4" fill="#cacaca" stroke="#9c9c9c" stroke-width=".3"/>
<polygon points="77.8,193.4 80.4,192.6 77.3,191.6 74.6,192.5" fill="#fbfbfb" stroke="#9c9c9c" stroke-width=".4"/>
<polygon points="47.7,195.4 52.5,194.0 57.4,195.3 52.6,196.8" fill="#b4b4b4" opacity="0.6"/>
<polygon points="43.7,194.2 47.7,195.4 47.7,191.0 43.7,189.8" fill="#cacaca" stroke="#777" stroke-width=".3"/>
<polygon points="47.7,195.4 52.5,194.0 52.5,189.5 47.7,191.0" fill="#a6a6a6" stroke="#777" stroke-width=".3"/>
<polygon points="47.7,191.0 52.5,189.5 48.5,188.3 43.7,189.8" fill="#fbfbfb" stroke="#777" stroke-width=".4"/>
<polygon points="251.7,195.4 254.6,194.6 258.9,195.7 256.0,196.6" fill="#b4b4b4" opacity="0.4"/>
<polygon points="247.4,194.2 251.7,195.4 251.7,191.5 247.4,190.3" fill="#e6e6e6" stroke="#9c9c9c" stroke-width=".3"/>
<polygon points="251.7,195.4 254.6,194.6 254.6,190.7 251.7,191.5" fill="#cacaca" stroke="#9c9c9c" stroke-width=".3"/>
<polygon points="251.7,191.5 254.6,190.7 250.3,189.4 247.4,190.3" fill="#fbfbfb" stroke="#9c9c9c" stroke-width=".4"/>
<polygon points="71.7,195.4 75.7,194.2 78.3,194.9 74.2,196.1" fill="#b4b4b4" opacity="0.4"/>
<polygon points="67.9,194.3 71.7,195.4 71.7,193.1 67.9,192.0" fill="#e6e6e6" stroke="#9c9c9c" stroke-width=".3"/>
<polygon points="71.7,195.4 75.7,194.2 75.7,191.9 71.7,193.1" fill="#cacaca" stroke="#9c9c9c" stroke-width=".3"/>
<polygon points="71.7,193.1 75.7,191.9 71.9,190.7 67.9,192.0" fill="#fbfbfb" stroke="#9c9c9c" stroke-width=".4"/>
<polygon points="245.5,195.5 249.9,194.2 253.2,195.1 248.8,196.4" fill="#b4b4b4" opacity="0.4"/>
<polygon points="242.7,194.7 245.5,195.5 245.5,192.5 242.7,191.7" fill="#dedede" stroke="#9c9c9c" stroke-width=".3"/>
<polygon points="245.5,195.5 249.9,194.2 249.9,191.2 245.5,192.5" fill="#c2c2c2" stroke="#9c9c9c" stroke-width=".3"/>
<polygon points="245.5,192.5 249.9,191.2 247.1,190.4 242.7,191.7" fill="#fbfbfb" stroke="#9c9c9c" stroke-width=".4"/>
<polygon points="97.9,195.5 101.0,194.6 105.9,196.0 102.8,196.9" fill="#b4b4b4" opacity="0.4"/>
<polygon points="94.8,194.6 97.9,195.5 97.9,191.1 94.8,190.1" fill="#d4d4d4" stroke="#9c9c9c" stroke-width=".3"/>
<polygon points="97.9,195.5 101.0,194.6 101.0,190.1 97.9,191.1" fill="#b8b8b8" stroke="#9c9c9c" stroke-width=".3"/>
<polygon points="97.9,191.1 101.0,190.1 97.9,189.2 94.8,190.1" fill="#fbfbfb" stroke="#9c9c9c" stroke-width=".4"/>
<polygon points="150.4,195.7 154.3,194.5 158.8,195.8 155.0,196.9" fill="#b4b4b4" opacity="0.4"/>
<polygon points="147.0,194.6 150.4,195.7 150.4,191.5 147.0,190.5" fill="#dedede" stroke="#9c9c9c" stroke-width=".3"/>
<polygon points="150.4,195.7 154.3,194.5 154.3,190.4 150.4,191.5" fill="#c2c2c2" stroke="#9c9c9c" stroke-width=".3"/>
<polygon points="150.4,191.5 154.3,190.4 150.8,189.3 147.0,190.5" fill="#fbfbfb" stroke="#9c9c9c" stroke-width=".4"/>
<polygon points="233.0,195.7 237.3,194.4 240.8,195.3 236.4,196.6" fill="#b4b4b4" opacity="0.4"/>
<polygon points="230.2,194.8 233.0,195.7 233.0,192.5 230.2,191.7" fill="#d4d4d4" stroke="#9c9c9c" stroke-width=".3"/>
<polygon points="233.0,195.7 237.3,194.4 237.3,191.2 233.0,192.5" fill="#b8b8b8" stroke="#9c9c9c" stroke-width=".3"/>
<polygon points="233.0,192.5 237.3,191.2 234.6,190.4 230.2,191.7" fill="#fbfbfb" stroke="#9c9c9c" stroke-width=".4"/>
<polygon points="172.0,195.7 175.5,194.7 180.4,196.0 176.8,197.0" fill="#b4b4b4" opacity="0.4"/>
<polygon points="167.7,194.4 172.0,195.7 172.0,191.3 167.7,190.0" fill="#dedede" stroke="#9c9c9c" stroke-width=".3"/>
<polygon points="172.0,195.7 175.5,194.7 175.5,190.3 172.0,191.3" fill="#c2c2c2" stroke="#9c9c9c" stroke-width=".3"/>
<polygon points="172.0,191.3 175.5,190.3 171.2,189.0 167.7,190.0" fill="#fbfbfb" stroke="#9c9c9c" stroke-width=".4"/>
<polygon points="90.5,195.8 94.2,194.7 96.8,195.4 93.1,196.5" fill="#b4b4b4" opacity="0.4"/>
<polygon points="86.7,194.7 90.5,195.8 90.5,193.5 86.7,192.3" fill="#d4d4d4" stroke="#9c9c9c" stroke-width=".3"/>
<polygon points="90.5,195.8 94.2,194.7 94.2,192.4 90.5,193.5" fill="#b8b8b8" stroke="#9c9c9c" stroke-width=".3"/>
<polygon points="90.5,193.5 94.2,192.4 90.4,191.2 86.7,192.3" fill="#fbfbfb" stroke="#9c9c9c" stroke-width=".4"/>
<polygon points="213.1,195.9 216.5,194.9 220.3,195.9 217.0,196.9" fill="#b4b4b4" opacity="0.4"/>
<polygon points="210.0,194.9 213.1,195.9 213.1,192.4 210.0,191.4" fill="#e6e6e6" stroke="#9c9c9c" stroke-width=".3"/>
<polygon points="213.1,195.9 216.5,194.9 216.5,191.4 213.1,192.4" fill="#cacaca" stroke="#9c9c9c" stroke-width=".3"/>
<polygon points="213.1,192.4 216.5,191.4 213.4,190.4 210.0,191.4" fill="#fbfbfb" stroke="#9c9c9c" stroke-width=".4"/>
<polygon points="22.3,195.9 27.1,194.4 29.7,195.2 24.9,196.6" fill="#b4b4b4" opacity="0.6"/>
<polygon points="19.5,195.0 22.3,195.9 22.3,193.5 19.5,192.7" fill="#dcdcdc" stroke="#777" stroke-width=".3"/>
<polygon points="22.3,195.9 27.1,194.4 27.1,192.1 22.3,193.5" fill="#b8b8b8" stroke="#777" stroke-width=".3"/>
<polygon points="22.3,193.5 27.1,192.1 24.3,191.2 19.5,192.7" fill="#fbfbfb" stroke="#777" stroke-width=".4"/>
<polygon points="83.1,196.0 85.9,195.1 89.6,196.1 86.8,197.0" fill="#b4b4b4" opacity="0.4"/>
<polygon points="79.5,194.9 83.1,196.0 83.1,192.6 79.5,191.5" fill="#d4d4d4" stroke="#9c9c9c" stroke-width=".3"/>
<polygon points="83.1,196.0 85.9,195.1 85.9,191.7 83.1,192.6" fill="#b8b8b8" stroke="#9c9c9c" stroke-width=".3"/>
<polygon points="83.1,192.6 85.9,191.7 82.3,190.6 79.5,191.5" fill="#fbfbfb" stroke="#9c9c9c" stroke-width=".4"/>
<polygon points="124.3,196.0 127.6,195.0 129.9,195.6 126.5,196.6" fill="#b4b4b4" opacity="0.4"/>
<polygon points="121.9,195.3 124.3,196.0 124.3,193.9 121.9,193.2" fill="#d4d4d4" stroke="#9c9c9c" stroke-width=".3"/>
<polygon points="124.3,196.0 127.6,195.0 127.6,192.9 124.3,193.9" fill="#b8b8b8" stroke="#9c9c9c" stroke-width=".3"/>
<polygon points="124.3,193.9 127.6,192.9 125.3,192.2 121.9,193.2" fill="#fbfbfb" stroke="#9c9c9c" stroke-width=".4"/>
<polygon points="65.9,196.0 70.9,194.5 73.3,195.1 68.3,196.6" fill="#b4b4b4" opacity="0.6"/>
<polygon points="62.9,195.1 65.9,196.0 65.9,193.9 62.9,193.0" fill="#dcdcdc" stroke="#777" stroke-width=".3"/>
<polygon points="65.9,196.0 70.9,194.5 70.9,192.4 65.9,193.9" fill="#b8b8b8" stroke="#777" stroke-width=".3"/>
<polygon points="65.9,193.9 70.9,192.4 68.0,191.5 62.9,193.0" fill="#fbfbfb" stroke="#777" stroke-width=".4"/>
<polygon points="239.6,196.2 242.4,195.4 245.3,196.2 242.5,197.0" fill="#b4b4b4" opacity="0.4"/>
<polygon points="236.4,195.3 239.6,196.2 239.6,193.6 236.4,192.7" fill="#dedede" stroke="#9c9c9c" stroke-width=".3"/>
<polygon points="239.6,196.2 242.4,195.4 242.4,192.8 239.6,193.6" fill="#c2c2c2" stroke="#9c9c9c" stroke-width=".3"/>
<polygon points="239.6,193.6 242.4,192.8 239.2,191.8 236.4,192.7" fill="#fbfbfb" stroke="#9c9c9c" stroke-width=".4"/>
<polygon points="111.6,196.3 114.5,195.4 118.6,196.5 115.7,197.4" fill="#b4b4b4" opacity="0.4"/>
<polygon points="107.5,195.0 111.6,196.3 111.6,192.6 107.5,191.3" fill="#d4d4d4" stroke="#9c9c9c" stroke-width=".3"/>
<polygon points="111.6,196.3 114.5,195.4 114.5,191.7 111.6,192.6" fill="#b8b8b8" stroke="#9c9c9c" stroke-width=".3"/>
<polygon points="111.6,192.6 114.5,191.7 110.4,190.5 107.5,191.3" fill="#fbfbfb" stroke="#9c9c9c" stroke-width=".4"/>
<polygon points="117.8,196.4 121.0,195.5 124.8,196.5 121.5,197.4" fill="#b4b4b4" opacity="0.4"/>
<polygon points="114.2,195.3 117.8,196.4 117.8,193.0 114.2,192.0" fill="#e6e6e6" stroke="#9c9c9c" stroke-width=".3"/>
<polygon points="117.8,196.4 121.0,195.5 121.0,192.1 117.8,193.0" fill="#cacaca" stroke="#9c9c9c" stroke-width=".3"/>
<polygon points="117.8,193.0 121.0,192.1 117.4,191.0 114.2,192.0" fill="#fbfbfb" stroke="#9c9c9c" stroke-width=".4"/>
<polygon points="130.3,196.5 134.5,195.2 138.0,196.2 133.7,197.4" fill="#b4b4b4" opacity="0.4"/>
<polygon points="127.6,195.7 130.3,196.5 130.3,193.4 127.6,192.6" fill="#e6e6e6" stroke="#9c9c9c" stroke-width=".3"/>
<polygon points="130.3,196.5 134.5,195.2 134.5,192.1 130.3,193.4" fill="#cacaca" stroke="#9c9c9c" stroke-width=".3"/>
<polygon points="130.3,193.4 134.5,192.1 131.9,191.3 127.6,192.6" fill="#fbfbfb" stroke="#9c9c9c" stroke-width=".4"/>
<polygon points="53.9,196.6 57.2,195.6 59.3,196.2 56.0,197.2" fill="#b4b4b4" opacity="0.4"/>
<polygon points="49.6,195.3 53.9,196.6 53.9,194.6 49.6,193.3" fill="#e6e6e6" stroke="#9c9c9c" stroke-width=".3"/>
<polygon points="53.9,196.6 57.2,195.6 57.2,193.6 53.9,194.6" fill="#cacaca" stroke="#9c9c9c" stroke-width=".3"/>
<polygon points="53.9,194.6 57.2,193.6 52.9,192.4 49.6,193.3" fill="#fbfbfb" stroke="#9c9c9c" stroke-width=".4"/>
<polygon points="257.9,196.6 262.7,195.2 264.8,195.8 260.1,197.2" fill="#b4b4b4" opacity="0.6"/>
<polygon points="255.7,195.9 257.9,196.6 257.9,194.6 255.7,194.0" fill="#d4d4d4" stroke="#777" stroke-width=".3"/>
<polygon points="257.9,196.6 262.7,195.2 262.7,193.2 257.9,194.6" fill="#b0b0b0" stroke="#777" stroke-width=".3"/>
<polygon points="257.9,194.6 262.7,193.2 260.4,192.5 255.7,194.0" fill="#fbfbfb" stroke="#777" stroke-width=".4"/>
<polygon points="59.9,196.7 63.8,195.5 68.8,196.9 64.8,198.0" fill="#b4b4b4" opacity="0.4"/>
<polygon points="57.0,195.8 59.9,196.7 59.9,192.2 57.0,191.3" fill="#d4d4d4" stroke="#9c9c9c" stroke-width=".3"/>
<polygon points="59.9,196.7 63.8,195.5 63.8,191.0 59.9,192.2" fill="#b8b8b8" stroke="#9c9c9c" stroke-width=".3"/>
<polygon points="59.9,192.2 63.8,191.0 60.9,190.2 57.0,191.3" fill="#fbfbfb" stroke="#9c9c9c" stroke-width=".4"/>
<polygon points="189.1,196.8 193.6,195.4 198.4,196.7 193.9,198.1" fill="#b4b4b4" opacity="0.4"/>
<polygon points="185.0,195.5 189.1,196.8 189.1,192.4 185.0,191.2" fill="#e6e6e6" stroke="#9c9c9c" stroke-width=".3"/>
<polygon points="189.1,196.8 193.6,195.4 193.6,191.1 189.1,192.4" fill="#cacaca" stroke="#9c9c9c" stroke-width=".3"/>
<polygon points="189.1,192.4 193.6,191.1 189.4,189.8 185.0,191.2" fill="#fbfbfb" stroke="#9c9c9c" stroke-width=".4"/>
<polygon points="105.2,196.9 109.5,195.6 112.8,196.5 108.5,197.8" fill="#b4b4b4" opacity="0.4"/>
<polygon points="102.2,196.0 105.2,196.9 105.2,193.9 102.2,193.0" fill="#d4d4d4" stroke="#9c9c9c" stroke-width=".3"/>
<polygon points="105.2,196.9 109.5,195.6 109.5,192.6 105.2,193.9" fill="#b8b8b8" stroke="#9c9c9c" stroke-width=".3"/>
<polygon points="105.2,193.9 109.5,192.6 106.4,191.7 102.2,193.0" fill="#fbfbfb" stroke="#9c9c9c" stroke-width=".4"/>
<polygon points="164.9,197.1 169.6,195.7 174.3,197.0 169.6,198.4" fill="#b4b4b4" opacity="0.6"/>
<polygon points="161.4,196.1 164.9,197.1 164.9,192.8 161.4,191.8" fill="#dcdcdc" stroke="#777" stroke-width=".3"/>
<polygon points="164.9,197.1 169.6,195.7 169.6,191.4 164.9,192.8" fill="#b8b8b8" stroke="#777" stroke-width=".3"/>
<polygon points="164.9,192.8 169.6,191.4 166.1,190.4 161.4,191.8" fill="#fbfbfb" stroke="#777" stroke-width=".4"/>
<polygon points="41.5,197.1 46.7,195.6 50.3,196.6 45.1,198.1" fill="#b4b4b4" opacity="0.6"/>
<polygon points="39.3,196.4 41.5,197.1 41.5,193.9 39.3,193.2" fill="#cacaca" stroke="#777" stroke-width=".3"/>
<polygon points="41.5,197.1 46.7,195.6 46.7,192.3 41.5,193.9" fill="#a6a6a6" stroke="#777" stroke-width=".3"/>
<polygon points="41.5,193.9 46.7,192.3 44.4,191.6 39.3,193.2" fill="#fbfbfb" stroke="#777" stroke-width=".4"/>
<polygon points="137.5,197.2 142.7,195.6 145.5,196.4 140.2,198.0" fill="#b4b4b4" opacity="0.6"/>
<polygon points="134.1,196.2 137.5,197.2 137.5,194.7 134.1,193.7" fill="#dcdcdc" stroke="#777" stroke-width=".3"/>
<polygon points="137.5,197.2 142.7,195.6 142.7,193.1 137.5,194.7" fill="#b8b8b8" stroke="#777" stroke-width=".3"/>
<polygon points="137.5,194.7 142.7,193.1 139.4,192.1 134.1,193.7" fill="#fbfbfb" stroke="#777" stroke-width=".4"/>
<polygon points="144.6,197.3 148.6,196.1 150.8,196.7 146.9,197.9" fill="#b4b4b4" opacity="0.4"/>
<polygon points="140.1,195.9 144.6,197.3 144.6,195.2 140.1,193.9" fill="#dedede" stroke="#9c9c9c" stroke-width=".3"/>
<polygon points="144.6,197.3 148.6,196.1 148.6,194.0 144.6,195.2" fill="#c2c2c2" stroke="#9c9c9c" stroke-width=".3"/>
<polygon points="144.6,195.2 148.6,194.0 144.1,192.7 140.1,193.9" fill="#fbfbfb" stroke="#9c9c9c" stroke-width=".4"/>
<polygon points="207.4,197.3 210.2,196.4 214.4,197.6 211.6,198.4" fill="#b4b4b4" opacity="0.4"/>
<polygon points="204.7,196.5 207.4,197.3 207.4,193.5 204.7,192.7" fill="#d4d4d4" stroke="#9c9c9c" stroke-width=".3"/>
<polygon points="207.4,197.3 210.2,196.4 210.2,192.7 207.4,193.5" fill="#b8b8b8" stroke="#9c9c9c" stroke-width=".3"/>
<polygon points="207.4,193.5 210.2,192.7 207.5,191.9 204.7,192.7" fill="#fbfbfb" stroke="#9c9c9c" stroke-width=".4"/>
<polygon points="225.6,197.3 228.8,196.3 231.7,197.1 228.5,198.1" fill="#b4b4b4" opacity="0.4"/>
<polygon points="222.0,196.2 225.6,197.3 225.6,194.7 222.0,193.6" fill="#dedede" stroke="#9c9c9c" stroke-width=".3"/>
<polygon points="225.6,197.3 228.8,196.3 228.8,193.7 225.6,194.7" fill="#c2c2c2" stroke="#9c9c9c" stroke-width=".3"/>
<polygon points="225.6,194.7 228.8,193.7 225.3,192.6 222.0,193.6" fill="#fbfbfb" stroke="#9c9c9c" stroke-width=".4"/>
<polygon points="157.9,197.3 160.8,196.4 165.0,197.6 162.1,198.5" fill="#b4b4b4" opacity="0.4"/>
<polygon points="154.6,196.3 157.9,197.3 157.9,193.4 154.6,192.4" fill="#e6e6e6" stroke="#9c9c9c" stroke-width=".3"/>
<polygon points="157.9,197.3 160.8,196.4 160.8,192.5 157.9,193.4" fill="#cacaca" stroke="#9c9c9c" stroke-width=".3"/>
<polygon points="157.9,193.4 160.8,192.5 157.5,191.6 154.6,192.4" fill="#fbfbfb" stroke="#9c9c9c" stroke-width=".4"/>
<polygon points="177.5,197.4 181.2,196.3 185.0,197.3 181.4,198.4" fill="#b4b4b4" opacity="0.4"/>
<polygon points="173.4,196.1 177.5,197.4 177.5,193.9 173.4,192.6" fill="#e6e6e6" stroke="#9c9c9c" stroke-width=".3"/>
<polygon points="177.5,197.4 181.2,196.3 181.2,192.8 177.5,193.9" fill="#cacaca" stroke="#9c9c9c" stroke-width=".3"/>
<polygon points="177.5,193.9 181.2,192.8 177.0,191.5 173.4,192.6" fill="#fbfbfb" stroke="#9c9c9c" stroke-width=".4"/>
<polygon points="201.5,197.4 205.3,196.3 207.7,196.9 203.9,198.1" fill="#b4b4b4" opacity="0.4"/>
<polygon points="198.9,196.7 201.5,197.4 201.5,195.3 198.9,194.5" fill="#dedede" stroke="#9c9c9c" stroke-width=".3"/>
<polygon points="201.5,197.4 205.3,196.3 205.3,194.1 201.5,195.3" fill="#c2c2c2" stroke="#9c9c9c" stroke-width=".3"/>
<polygon points="201.5,195.3 205.3,194.1 202.8,193.3 198.9,194.5" fill="#fbfbfb" stroke="#9c9c9c" stroke-width=".4"/>
<polygon points="183.0,197.5 187.0,196.3 191.9,197.6 187.8,198.8" fill="#b4b4b4" opacity="0.4"/>
<polygon points="180.0,196.6 183.0,197.5 183.0,193.1 180.0,192.2" fill="#d4d4d4" stroke="#9c9c9c" stroke-width=".3"/>
<polygon points="183.0,197.5 187.0,196.3 187.0,191.9 183.0,193.1" fill="#b8b8b8" stroke="#9c9c9c" stroke-width=".3"/>
<polygon points="183.0,193.1 187.0,191.9 184.1,191.0 180.0,192.2" fill="#fbfbfb" stroke="#9c9c9c" stroke-width=".4"/>
<polygon points="94.3,198.7 99.5,197.1 103.0,198.1 97.8,199.6" fill="#b4b4b4" opacity="0.6"/>
<polygon points="89.6,197.3 94.3,198.7 94.3,195.5 89.6,194.1" fill="#dcdcdc" stroke="#777" stroke-width=".3"/>
<polygon points="94.3,198.7 99.5,197.1 99.5,193.9 94.3,195.5" fill="#b8b8b8" stroke="#777" stroke-width=".3"/>
<polygon points="94.3,195.5 99.5,193.9 94.8,192.5 89.6,194.1" fill="#fbfbfb" stroke="#777" stroke-width=".4"/>
<polygon points="184.9,198.7 189.2,197.4 193.4,198.5 189.1,199.8" fill="#b4b4b4" opacity="0.4"/>
<polygon points="180.3,197.3 184.9,198.7 184.9,194.9 180.3,193.5" fill="#e6e6e6" stroke="#9c9c9c" stroke-width=".3"/>
<polygon points="184.9,198.7 189.2,197.4 189.2,193.6 184.9,194.9" fill="#cacaca" stroke="#9c9c9c" stroke-width=".3"/>
<polygon points="184.9,194.9 189.2,193.6 184.6,192.2 180.3,193.5" fill="#fbfbfb" stroke="#9c9c9c" stroke-width=".4"/>
<polygon points="107.7,198.8 113.2,197.1 118.0,198.4 112.5,200.1" fill="#b4b4b4" opacity="0.6"/>
<polygon points="103.7,197.6 107.7,198.8 107.7,194.4 103.7,193.2" fill="#cacaca" stroke="#777" stroke-width=".3"/>
<polygon points="107.7,198.8 113.2,197.1 113.2,192.7 107.7,194.4" fill="#a6a6a6" stroke="#777" stroke-width=".3"/>
<polygon points="107.7,194.4 113.2,192.7 109.2,191.5 103.7,193.2" fill="#fbfbfb" stroke="#777" stroke-width=".4"/>
<polygon points="134.7,198.8 138.8,197.6 143.5,198.9 139.5,200.1" fill="#b4b4b4" opacity="0.4"/>
<polygon points="132.2,198.0 134.7,198.8 134.7,194.5 132.2,193.7" fill="#d4d4d4" stroke="#9c9c9c" stroke-width=".3"/>
<polygon points="134.7,198.8 138.8,197.6 138.8,193.2 134.7,194.5" fill="#b8b8b8" stroke="#9c9c9c" stroke-width=".3"/>
<polygon points="134.7,194.5 138.8,193.2 136.2,192.5 132.2,193.7" fill="#fbfbfb" stroke="#9c9c9c" stroke-width=".4"/>
<polygon points="199.2,198.8 204.0,197.4 209.0,198.8 204.3,200.2" fill="#b4b4b4" opacity="0.6"/>
<polygon points="194.5,197.4 199.2,198.8 199.2,194.3 194.5,192.8" fill="#dcdcdc" stroke="#777" stroke-width=".3"/>
<polygon points="199.2,198.8 204.0,197.4 204.0,192.8 199.2,194.3" fill="#b8b8b8" stroke="#777" stroke-width=".3"/>
<polygon points="199.2,194.3 204.0,192.8 199.2,191.4 194.5,192.8" fill="#fbfbfb" stroke="#777" stroke-width=".4"/>
<polygon points="43.9,198.9 48.1,197.6 51.8,198.6 47.7,199.9" fill="#b4b4b4" opacity="0.4"/>
<polygon points="39.5,197.6 43.9,198.9 43.9,195.4 39.5,194.1" fill="#e6e6e6" stroke="#9c9c9c" stroke-width=".3"/>
<polygon points="43.9,198.9 48.1,197.6 48.1,194.2 43.9,195.4" fill="#cacaca" stroke="#9c9c9c" stroke-width=".3"/>
<polygon points="43.9,195.4 48.1,194.2 43.7,192.9 39.5,194.1" fill="#fbfbfb" stroke="#9c9c9c" stroke-width=".4"/>
<polygon points="205.9,198.9 209.8,197.8 213.3,198.7 209.4,199.9" fill="#b4b4b4" opacity="0.4"/>
<polygon points="202.4,197.9 205.9,198.9 205.9,195.7 202.4,194.7" fill="#dedede" stroke="#9c9c9c" stroke-width=".3"/>
<polygon points="205.9,198.9 209.8,197.8 209.8,194.5 205.9,195.7" fill="#c2c2c2" stroke="#9c9c9c" stroke-width=".3"/>
<polygon points="205.9,195.7 209.8,194.5 206.3,193.5 202.4,194.7" fill="#fbfbfb" stroke="#9c9c9c" stroke-width=".4"/>
<polygon points="69.8,199.4 74.1,198.1 78.7,199.3 74.5,200.6" fill="#b4b4b4" opacity="0.4"/>
<polygon points="67.2,198.6 69.8,199.4 69.8,195.2 67.2,194.4" fill="#e6e6e6" stroke="#9c9c9c" stroke-width=".3"/>
<polygon points="69.8,199.4 74.1,198.1 74.1,193.9 69.8,195.2" fill="#cacaca" stroke="#9c9c9c" stroke-width=".3"/>
<polygon points="69.8,195.2 74.1,193.9 71.5,193.1 67.2,194.4" fill="#fbfbfb" stroke="#9c9c9c" stroke-width=".4"/>
<polygon points="141.6,199.4 145.0,198.4 148.4,199.3 145.0,200.3" fill="#b4b4b4" opacity="0.4"/>
<polygon points="139.0,198.6 141.6,199.4 141.6,196.4 139.0,195.6" fill="#d4d4d4" stroke="#9c9c9c" stroke-width=".3"/>
<polygon points="141.6,199.4 145.0,198.4 145.0,195.3 141.6,196.4" fill="#b8b8b8" stroke="#9c9c9c" stroke-width=".3"/>
<polygon points="141.6,196.4 145.0,195.3 142.4,194.5 139.0,195.6" fill="#fbfbfb" stroke="#9c9c9c" stroke-width=".4"/>
<polygon points="247.2,199.5 250.5,198.5 253.3,199.3 250.0,200.2" fill="#b4b4b4" opacity="0.4"/>
<polygon points="243.4,198.3 247.2,199.5 247.2,196.9 243.4,195.8" fill="#e6e6e6" stroke="#9c9c9c" stroke-width=".3"/>
<polygon points="247.2,199.5 250.5,198.5 250.5,195.9 247.2,196.9" fill="#cacaca" stroke="#9c9c9c" stroke-width=".3"/>
<polygon points="247.2,196.9 250.5,195.9 246.7,194.8 243.4,195.8" fill="#fbfbfb" stroke="#9c9c9c" stroke-width=".4"/>
<polygon points="75.6,199.5 80.2,198.1 83.4,199.0 78.7,200.3" fill="#b4b4b4" opacity="0.6"/>
<polygon points="72.0,198.4 75.6,199.5 75.6,196.6 72.0,195.5" fill="#dcdcdc" stroke="#777" stroke-width=".3"/>
<polygon points="75.6,199.5 80.2,198.1 80.2,195.2 75.6,196.6" fill="#b8b8b8" stroke="#777" stroke-width=".3"/>
<polygon points="75.6,196.6 80.2,195.2 76.6,194.1 72.0,195.5" fill="#fbfbfb" stroke="#777" stroke-width=".4"/>
<polygon points="155.1,199.5 160.6,197.9 164.6,199.0 159.2,200.6" fill="#b4b4b4" opacity="0.6"/>
<polygon points="151.8,198.5 155.1,199.5 155.1,195.9 151.8,194.9" fill="#d4d4d4" stroke="#777" stroke-width=".3"/>
<polygon points="155.1,199.5 160.6,197.9 160.6,194.2 155.1,195.9" fill="#b0b0b0" stroke="#777" stroke-width=".3"/>
<polygon points="155.1,195.9 160.6,194.2 157.3,193.2 151.8,194.9" fill="#fbfbfb" stroke="#777" stroke-width=".4"/>
<polygon points="166.9,199.7 170.4,198.6 175.1,199.9 171.6,200.9" fill="#b4b4b4" opacity="0.4"/>
<polygon points="163.9,198.8 166.9,199.7 166.9,195.4 163.9,194.5" fill="#dedede" stroke="#9c9c9c" stroke-width=".3"/>
<polygon points="166.9,199.7 170.4,198.6 170.4,194.4 166.9,195.4" fill="#c2c2c2" stroke="#9c9c9c" stroke-width=".3"/>
<polygon points="166.9,195.4 170.4,194.4 167.4,193.5 163.9,194.5" fill="#fbfbfb" stroke="#9c9c9c" stroke-width=".4"/>
<polygon points="227.5,199.8 232.7,198.2 237.6,199.6 232.4,201.1" fill="#b4b4b4" opacity="0.6"/>
<polygon points="224.8,199.0 227.5,199.8 227.5,195.3 224.8,194.5" fill="#dcdcdc" stroke="#777" stroke-width=".3"/>
<polygon points="227.5,199.8 232.7,198.2 232.7,193.8 227.5,195.3" fill="#b8b8b8" stroke="#777" stroke-width=".3"/>
<polygon points="227.5,195.3 232.7,193.8 230.0,193.0 224.8,194.5" fill="#fbfbfb" stroke="#777" stroke-width=".4"/>
<polygon points="56.7,199.8 62.1,198.2 67.3,199.6 61.9,201.2" fill="#b4b4b4" opacity="0.6"/>
<polygon points="52.8,198.6 56.7,199.8 56.7,195.1 52.8,193.9" fill="#dcdcdc" stroke="#777" stroke-width=".3"/>
<polygon points="56.7,199.8 62.1,198.2 62.1,193.5 56.7,195.1" fill="#b8b8b8" stroke="#777" stroke-width=".3"/>
<polygon points="56.7,195.1 62.1,193.5 58.1,192.3 52.8,193.9" fill="#fbfbfb" stroke="#777" stroke-width=".4"/>
<polygon points="241.4,199.9 245.5,198.6 250.2,199.9 246.0,201.1" fill="#b4b4b4" opacity="0.4"/>
<polygon points="237.9,198.8 241.4,199.9 241.4,195.6 237.9,194.6" fill="#d4d4d4" stroke="#9c9c9c" stroke-width=".3"/>
<polygon points="241.4,199.9 245.5,198.6 245.5,194.4 241.4,195.6" fill="#b8b8b8" stroke="#9c9c9c" stroke-width=".3"/>
<polygon points="241.4,195.6 245.5,194.4 242.1,193.3 237.9,194.6" fill="#fbfbfb" stroke="#9c9c9c" stroke-width=".4"/>
<polygon points="81.8,200.0 84.7,199.1 88.3,200.1 85.4,201.0" fill="#b4b4b4" opacity="0.4"/>
<polygon points="78.9,199.1 81.8,200.0 81.8,196.7 78.9,195.8" fill="#d4d4d4" stroke="#9c9c9c" stroke-width=".3"/>
<polygon points="81.8,200.0 84.7,199.1 84.7,195.8 81.8,196.7" fill="#b8b8b8" stroke="#9c9c9c" stroke-width=".3"/>
<polygon points="81.8,196.7 84.7,195.8 81.8,195.0 78.9,195.8" fill="#fbfbfb" stroke="#9c9c9c" stroke-width=".4"/>
<polygon points="87.7,200.0 92.8,198.5 95.4,199.2 90.4,200.7" fill="#b4b4b4" opacity="0.6"/>
<polygon points="84.1,198.9 87.7,200.0 87.7,197.6 84.1,196.5" fill="#dcdcdc" stroke="#777" stroke-width=".3"/>
<polygon points="87.7,200.0 92.8,198.5 92.8,196.1 87.7,197.6" fill="#b8b8b8" stroke="#777" stroke-width=".3"/>
<polygon points="87.7,197.6 92.8,196.1 89.2,195.0 84.1,196.5" fill="#fbfbfb" stroke="#777" stroke-width=".4"/>
<polygon points="254.4,200.1 259.4,198.5 263.0,199.5 258.0,201.0" fill="#b4b4b4" opacity="0.6"/>
<polygon points="250.3,198.8 254.4,200.1 254.4,196.8 250.3,195.6" fill="#cacaca" stroke="#777" stroke-width=".3"/>
<polygon points="254.4,200.1 259.4,198.5 259.4,195.3 254.4,196.8" fill="#a6a6a6" stroke="#777" stroke-width=".3"/>
<polygon points="254.4,196.8 259.4,195.3 255.4,194.1 250.3,195.6" fill="#fbfbfb" stroke="#777" stroke-width=".4"/>
<polygon points="149.5,200.1 153.8,198.8 157.1,199.7 152.8,201.0" fill="#b4b4b4" opacity="0.4"/>
<polygon points="145.3,198.8 149.5,200.1 149.5,197.0 145.3,195.8" fill="#e6e6e6" stroke="#9c9c9c" stroke-width=".3"/>
<polygon points="149.5,200.1 153.8,198.8 153.8,195.7 149.5,197.0" fill="#cacaca" stroke="#9c9c9c" stroke-width=".3"/>
<polygon points="149.5,197.0 153.8,195.7 149.6,194.5 145.3,195.8" fill="#fbfbfb" stroke="#9c9c9c" stroke-width=".4"/>
<polygon points="101.8,200.1 106.7,198.7 109.8,199.5 104.9,201.0" fill="#b4b4b4" opacity="0.6"/>
<polygon points="98.5,199.1 101.8,200.1 101.8,197.3 98.5,196.3" fill="#cacaca" stroke="#777" stroke-width=".3"/>
<polygon points="101.8,200.1 106.7,198.7 106.7,195.8 101.8,197.3" fill="#a6a6a6" stroke="#777" stroke-width=".3"/>
<polygon points="101.8,197.3 106.7,195.8 103.4,194.9 98.5,196.3" fill="#fbfbfb" stroke="#777" stroke-width=".4"/>
<polygon points="260.8,200.3 265.0,199.1 268.2,200.0 264.0,201.2" fill="#b4b4b4" opacity="0.4"/>
<polygon points="256.1,198.9 260.8,200.3 260.8,197.4 256.1,196.0" fill="#e6e6e6" stroke="#9c9c9c" stroke-width=".3"/>
<polygon points="260.8,200.3 265.0,199.1 265.0,196.2 260.8,197.4" fill="#cacaca" stroke="#9c9c9c" stroke-width=".3"/>
<polygon points="260.8,197.4 265.0,196.2 260.2,194.7 256.1,196.0" fill="#fbfbfb" stroke="#9c9c9c" stroke-width=".4"/>
<polygon points="161.2,200.5 164.2,199.6 166.7,200.3 163.8,201.2" fill="#b4b4b4" opacity="0.4"/>
<polygon points="158.4,199.6 161.2,200.5 161.2,198.1 158.4,197.3" fill="#dedede" stroke="#9c9c9c" stroke-width=".3"/>
<polygon points="161.2,200.5 164.2,199.6 164.2,197.2 161.2,198.1" fill="#c2c2c2" stroke="#9c9c9c" stroke-width=".3"/>
<polygon points="161.2,198.1 164.2,197.2 161.3,196.4 158.4,197.3" fill="#fbfbfb" stroke="#9c9c9c" stroke-width=".4"/>
<polygon points="128.2,200.5 132.7,199.2 135.2,199.9 130.7,201.2" fill="#b4b4b4" opacity="0.4"/>
<polygon points="125.3,199.7 128.2,200.5 128.2,198.3 125.3,197.4" fill="#d4d4d4" stroke="#9c9c9c" stroke-width=".3"/>
<polygon points="128.2,200.5 132.7,199.2 132.7,197.0 128.2,198.3" fill="#b8b8b8" stroke="#9c9c9c" stroke-width=".3"/>
<polygon points="128.2,198.3 132.7,197.0 129.8,196.1 125.3,197.4" fill="#fbfbfb" stroke="#9c9c9c" stroke-width=".4"/>
<polygon points="173.5,200.6 178.2,199.2 183.4,200.7 178.7,202.1" fill="#b4b4b4" opacity="0.6"/>
<polygon points="170.9,199.9 173.5,200.6 173.5,195.9 170.9,195.1" fill="#d4d4d4" stroke="#777" stroke-width=".3"/>
<polygon points="173.5,200.6 178.2,199.2 178.2,194.5 173.5,195.9" fill="#b0b0b0" stroke="#777" stroke-width=".3"/>
<polygon points="173.5,195.9 178.2,194.5 175.6,193.7 170.9,195.1" fill="#fbfbfb" stroke="#777" stroke-width=".4"/>
<polygon points="213.7,200.6 218.8,199.1 222.1,200.0 217.0,201.5" fill="#b4b4b4" opacity="0.6"/>
<polygon points="209.0,199.2 213.7,200.6 213.7,197.6 209.0,196.2" fill="#dcdcdc" stroke="#777" stroke-width=".3"/>
<polygon points="213.7,200.6 218.8,199.1 218.8,196.1 213.7,197.6" fill="#b8b8b8" stroke="#777" stroke-width=".3"/>
<polygon points="213.7,197.6 218.8,196.1 214.1,194.7 209.0,196.2" fill="#fbfbfb" stroke="#777" stroke-width=".4"/>
<polygon points="220.9,200.7 225.7,199.3 228.2,200.0 223.5,201.4" fill="#b4b4b4" opacity="0.6"/>
<polygon points="217.0,199.5 220.9,200.7 220.9,198.4 217.0,197.2" fill="#dcdcdc" stroke="#777" stroke-width=".3"/>
<polygon points="220.9,200.7 225.7,199.3 225.7,197.0 220.9,198.4" fill="#b8b8b8" stroke="#777" stroke-width=".3"/>
<polygon points="220.9,198.4 225.7,197.0 221.7,195.8 217.0,197.2" fill="#fbfbfb" stroke="#777" stroke-width=".4"/>
<polygon points="63.4,200.8 67.2,199.6 72.0,200.9 68.1,202.1" fill="#b4b4b4" opacity="0.4"/>
<polygon points="60.1,199.8 63.4,200.8 63.4,196.4 60.1,195.4" fill="#e6e6e6" stroke="#9c9c9c" stroke-width=".3"/>
<polygon points="63.4,200.8 67.2,199.6 67.2,195.3 63.4,196.4" fill="#cacaca" stroke="#9c9c9c" stroke-width=".3"/>
<polygon points="63.4,196.4 67.2,195.3 63.9,194.3 60.1,195.4" fill="#fbfbfb" stroke="#9c9c9c" stroke-width=".4"/>
<polygon points="114.0,200.8 118.3,199.5 121.8,200.5 117.5,201.7" fill="#b4b4b4" opacity="0.4"/>
<polygon points="110.0,199.6 114.0,200.8 114.0,197.6 110.0,196.4" fill="#e6e6e6" stroke="#9c9c9c" stroke-width=".3"/>
<polygon points="114.0,200.8 118.3,199.5 118.3,196.3 114.0,197.6" fill="#cacaca" stroke="#9c9c9c" stroke-width=".3"/>
<polygon points="114.0,197.6 118.3,196.3 114.3,195.1 110.0,196.4" fill="#fbfbfb" stroke="#9c9c9c" stroke-width=".4"/>
<polygon points="121.1,200.8 126.6,199.2 130.3,200.2 124.9,201.8" fill="#b4b4b4" opacity="0.6"/>
<polygon points="117.4,199.7 121.1,200.8 121.1,197.4 117.4,196.3" fill="#cacaca" stroke="#777" stroke-width=".3"/>
<polygon points="121.1,200.8 126.6,199.2 126.6,195.8 121.1,197.4" fill="#a6a6a6" stroke="#777" stroke-width=".3"/>
<polygon points="121.1,197.4 126.6,195.8 122.8,194.6 117.4,196.3" fill="#fbfbfb" stroke="#777" stroke-width=".4"/>
<polygon points="22.9,201.0 27.4,199.7 32.6,201.1 28.1,202.4" fill="#b4b4b4" opacity="0.4"/>
<polygon points="18.2,199.6 22.9,201.0 22.9,196.3 18.2,194.9" fill="#d4d4d4" stroke="#9c9c9c" stroke-width=".3"/>
<polygon points="22.9,201.0 27.4,199.7 27.4,194.9 22.9,196.3" fill="#b8b8b8" stroke="#9c9c9c" stroke-width=".3"/>
<polygon points="22.9,196.3 27.4,194.9 22.7,193.5 18.2,194.9" fill="#fbfbfb" stroke="#9c9c9c" stroke-width=".4"/>
<polygon points="179.2,201.0 182.4,200.1 185.5,200.9 182.2,201.9" fill="#b4b4b4" opacity="0.4"/>
<polygon points="176.1,200.1 179.2,201.0 179.2,198.3 176.1,197.3" fill="#d4d4d4" stroke="#9c9c9c" stroke-width=".3"/>
<polygon points="179.2,201.0 182.4,200.1 182.4,197.3 179.2,198.3" fill="#b8b8b8" stroke="#9c9c9c" stroke-width=".3"/>
<polygon points="179.2,198.3 182.4,197.3 179.3,196.4 176.1,197.3" fill="#fbfbfb" stroke="#9c9c9c" stroke-width=".4"/>
<polygon points="29.5,201.0 33.8,199.7 36.2,200.4 31.9,201.7" fill="#b4b4b4" opacity="0.4"/>
<polygon points="26.9,200.2 29.5,201.0 29.5,198.9 26.9,198.1" fill="#d4d4d4" stroke="#9c9c9c" stroke-width=".3"/>
<polygon points="29.5,201.0 33.8,199.7 33.8,197.6 29.5,198.9" fill="#b8b8b8" stroke="#9c9c9c" stroke-width=".3"/>
<polygon points="29.5,198.9 33.8,197.6 31.2,196.8 26.9,198.1" fill="#fbfbfb" stroke="#9c9c9c" stroke-width=".4"/>
<polygon points="257.4,202.5 263.2,200.7 266.1,201.5 260.3,203.3" fill="#b4b4b4" opacity="0.6"/>
<polygon points="253.8,201.4 257.4,202.5 257.4,199.9 253.8,198.8" fill="#dcdcdc" stroke="#777" stroke-width=".3"/>
<polygon points="257.4,202.5 263.2,200.7 263.2,198.1 257.4,199.9" fill="#b8b8b8" stroke="#777" stroke-width=".3"/>
<polygon points="257.4,199.9 263.2,198.1 259.6,197.0 253.8,198.8" fill="#fbfbfb" stroke="#777" stroke-width=".4"/>
<polygon points="236.1,202.6 241.8,200.9 245.4,201.9 239.7,203.6" fill="#b4b4b4" opacity="0.6"/>
<polygon points="231.0,201.1 236.1,202.6 236.1,199.4 231.0,197.8" fill="#dcdcdc" stroke="#777" stroke-width=".3"/>
<polygon points="236.1,202.6 241.8,200.9 241.8,197.7 236.1,199.4" fill="#b8b8b8" stroke="#777" stroke-width=".3"/>
<polygon points="236.1,199.4 241.8,197.7 236.7,196.1 231.0,197.8" fill="#fbfbfb" stroke="#777" stroke-width=".4"/>
<polygon points="43.9,202.7 48.6,201.3 52.0,202.2 47.3,203.6" fill="#b4b4b4" opacity="0.6"/>
<polygon points="39.9,201.5 43.9,202.7 43.9,199.6 39.9,198.4" fill="#d4d4d4" stroke="#777" stroke-width=".3"/>
<polygon points="43.9,202.7 48.6,201.3 48.6,198.2 43.9,199.6" fill="#b0b0b0" stroke="#777" stroke-width=".3"/>
<polygon points="43.9,199.6 48.6,198.2 44.6,197.0 39.9,198.4" fill="#fbfbfb" stroke="#777" stroke-width=".4"/>
<polygon points="77.6,202.7 80.7,201.8 86.1,203.3 83.1,204.2" fill="#b4b4b4" opacity="0.4"/>
<polygon points="73.1,201.3 77.6,202.7 77.6,197.7 73.1,196.4" fill="#d4d4d4" stroke="#9c9c9c" stroke-width=".3"/>
<polygon points="77.6,202.7 80.7,201.8 80.7,196.8 77.6,197.7" fill="#b8b8b8" stroke="#9c9c9c" stroke-width=".3"/>
<polygon points="77.6,197.7 80.7,196.8 76.1,195.5 73.1,196.4" fill="#fbfbfb" stroke="#9c9c9c" stroke-width=".4"/>
<polygon points="71.0,202.9 75.6,201.6 78.9,202.5 74.3,203.8" fill="#b4b4b4" opacity="0.4"/>
<polygon points="67.8,202.0 71.0,202.9 71.0,199.9 67.8,199.0" fill="#e6e6e6" stroke="#9c9c9c" stroke-width=".3"/>
<polygon points="71.0,202.9 75.6,201.6 75.6,198.6 71.0,199.9" fill="#cacaca" stroke="#9c9c9c" stroke-width=".3"/>
<polygon points="71.0,199.9 75.6,198.6 72.4,197.6 67.8,199.0" fill="#fbfbfb" stroke="#9c9c9c" stroke-width=".4"/>
<polygon points="202.4,202.9 208.0,201.2 210.9,202.0 205.3,203.7" fill="#b4b4b4" opacity="0.6"/>
<polygon points="199.4,202.0 202.4,202.9 202.4,200.4 199.4,199.5" fill="#cacaca" stroke="#777" stroke-width=".3"/>
<polygon points="202.4,202.9 208.0,201.2 208.0,198.7 202.4,200.4" fill="#a6a6a6" stroke="#777" stroke-width=".3"/>
<polygon points="202.4,200.4 208.0,198.7 205.0,197.8 199.4,199.5" fill="#fbfbfb" stroke="#777" stroke-width=".4"/>
<polygon points="23.1,202.9 26.2,202.0 31.2,203.4 28.1,204.3" fill="#b4b4b4" opacity="0.4"/>
<polygon points="18.2,201.5 23.1,202.9 23.1,198.4 18.2,196.9" fill="#e6e6e6" stroke="#9c9c9c" stroke-width=".3"/>
<polygon points="23.1,202.9 26.2,202.0 26.2,197.5 23.1,198.4" fill="#cacaca" stroke="#9c9c9c" stroke-width=".3"/>
<polygon points="23.1,198.4 26.2,197.5 21.3,196.0 18.2,196.9" fill="#fbfbfb" stroke="#9c9c9c" stroke-width=".4"/>
<polygon points="180.5,203.3 185.9,201.7 191.0,203.1 185.6,204.7" fill="#b4b4b4" opacity="0.6"/>
<polygon points="175.5,201.8 180.5,203.3 180.5,198.7 175.5,197.2" fill="#d4d4d4" stroke="#777" stroke-width=".3"/>
<polygon points="180.5,203.3 185.9,201.7 185.9,197.1 180.5,198.7" fill="#b0b0b0" stroke="#777" stroke-width=".3"/>
<polygon points="180.5,198.7 185.9,197.1 180.8,195.6 175.5,197.2" fill="#fbfbfb" stroke="#777" stroke-width=".4"/>
<polygon points="229.2,203.3 234.4,201.7 237.5,202.6 232.2,204.2" fill="#b4b4b4" opacity="0.6"/>
<polygon points="226.0,202.4 229.2,203.3 229.2,200.5 226.0,199.6" fill="#dcdcdc" stroke="#777" stroke-width=".3"/>
<polygon points="229.2,203.3 234.4,201.7 234.4,199.0 229.2,200.5" fill="#b8b8b8" stroke="#777" stroke-width=".3"/>
<polygon points="229.2,200.5 234.4,199.0 231.2,198.0 226.0,199.6" fill="#fbfbfb" stroke="#777" stroke-width=".4"/>
<polygon points="90.7,203.5 96.1,201.9 100.2,203.0 94.9,204.6" fill="#b4b4b4" opacity="0.6"/>
<polygon points="86.5,202.2 90.7,203.5 90.7,199.7 86.5,198.5" fill="#d4d4d4" stroke="#777" stroke-width=".3"/>
<polygon points="90.7,203.5 96.1,201.9 96.1,198.1 90.7,199.7" fill="#b0b0b0" stroke="#777" stroke-width=".3"/>
<polygon points="90.7,199.7 96.1,198.1 91.8,196.9 86.5,198.5" fill="#fbfbfb" stroke="#777" stroke-width=".4"/>
<polygon points="37.8,203.5 41.4,202.5 45.9,203.7 42.4,204.8" fill="#b4b4b4" opacity="0.4"/>
<polygon points="33.7,202.3 37.8,203.5 37.8,199.4 33.7,198.1" fill="#e6e6e6" stroke="#9c9c9c" stroke-width=".3"/>
<polygon points="37.8,203.5 41.4,202.5 41.4,198.3 37.8,199.4" fill="#cacaca" stroke="#9c9c9c" stroke-width=".3"/>
<polygon points="37.8,199.4 41.4,198.3 37.2,197.1 33.7,198.1" fill="#fbfbfb" stroke="#9c9c9c" stroke-width=".4"/>
<polygon points="195.3,203.6 198.4,202.6 203.1,203.9 200.0,204.9" fill="#b4b4b4" opacity="0.4"/>
<polygon points="191.8,202.5 195.3,203.6 195.3,199.3 191.8,198.2" fill="#dedede" stroke="#9c9c9c" stroke-width=".3"/>
<polygon points="195.3,203.6 198.4,202.6 198.4,198.4 195.3,199.3" fill="#c2c2c2" stroke="#9c9c9c" stroke-width=".3"/>
<polygon points="195.3,199.3 198.4,198.4 194.9,197.3 191.8,198.2" fill="#fbfbfb" stroke="#9c9c9c" stroke-width=".4"/>
<polygon points="51.9,203.6 57.2,202.0 60.2,202.8 54.9,204.4" fill="#b4b4b4" opacity="0.6"/>
<polygon points="48.8,202.7 51.9,203.6 51.9,200.9 48.8,200.0" fill="#d4d4d4" stroke="#777" stroke-width=".3"/>
<polygon points="51.9,203.6 57.2,202.0 57.2,199.3 51.9,200.9" fill="#b0b0b0" stroke="#777" stroke-width=".3"/>
<polygon points="51.9,200.9 57.2,199.3 54.1,198.4 48.8,200.0" fill="#fbfbfb" stroke="#777" stroke-width=".4"/>
<polygon points="215.4,203.7 220.2,202.3 224.4,203.4 219.6,204.9" fill="#b4b4b4" opacity="0.6"/>
<polygon points="211.3,202.5 215.4,203.7 215.4,199.9 211.3,198.6" fill="#dcdcdc" stroke="#777" stroke-width=".3"/>
<polygon points="215.4,203.7 220.2,202.3 220.2,198.4 215.4,199.9" fill="#b8b8b8" stroke="#777" stroke-width=".3"/>
<polygon points="215.4,199.9 220.2,198.4 216.1,197.2 211.3,198.6" fill="#fbfbfb" stroke="#777" stroke-width=".4"/>
<polygon points="161.4,203.8 166.1,202.4 170.5,203.6 165.7,205.0" fill="#b4b4b4" opacity="0.6"/>
<polygon points="157.1,202.5 161.4,203.8 161.4,199.8 157.1,198.5" fill="#dcdcdc" stroke="#777" stroke-width=".3"/>
<polygon points="161.4,203.8 166.1,202.4 166.1,198.4 161.4,199.8" fill="#b8b8b8" stroke="#777" stroke-width=".3"/>
<polygon points="161.4,199.8 166.1,198.4 161.8,197.1 157.1,198.5" fill="#fbfbfb" stroke="#777" stroke-width=".4"/>
<polygon points="120.8,203.9 124.8,202.7 130.3,204.2 126.2,205.4" fill="#b4b4b4" opacity="0.4"/>
<polygon points="117.9,203.0 120.8,203.9 120.8,199.0 117.9,198.1" fill="#e6e6e6" stroke="#9c9c9c" stroke-width=".3"/>
<polygon points="120.8,203.9 124.8,202.7 124.8,197.8 120.8,199.0" fill="#cacaca" stroke="#9c9c9c" stroke-width=".3"/>
<polygon points="120.8,199.0 124.8,197.8 121.9,196.9 117.9,198.1" fill="#fbfbfb" stroke="#9c9c9c" stroke-width=".4"/>
<polygon points="221.8,203.9 225.7,202.8 230.4,204.1 226.5,205.2" fill="#b4b4b4" opacity="0.4"/>
<polygon points="218.4,202.9 221.8,203.9 221.8,199.6 218.4,198.6" fill="#e6e6e6" stroke="#9c9c9c" stroke-width=".3"/>
<polygon points="221.8,203.9 225.7,202.8 225.7,198.5 221.8,199.6" fill="#cacaca" stroke="#9c9c9c" stroke-width=".3"/>
<polygon points="221.8,199.6 225.7,198.5 222.3,197.5 218.4,198.6" fill="#fbfbfb" stroke="#9c9c9c" stroke-width=".4"/>
<polygon points="58.2,204.0 62.9,202.6 68.3,204.0 63.5,205.4" fill="#b4b4b4" opacity="0.6"/>
<polygon points="53.3,202.5 58.2,204.0 58.2,199.1 53.3,197.6" fill="#d4d4d4" stroke="#777" stroke-width=".3"/>
<polygon points="58.2,204.0 62.9,202.6 62.9,197.7 58.2,199.1" fill="#b0b0b0" stroke="#777" stroke-width=".3"/>
<polygon points="58.2,199.1 62.9,197.7 58.0,196.2 53.3,197.6" fill="#fbfbfb" stroke="#777" stroke-width=".4"/>
<polygon points="84.0,204.1 89.5,202.4 93.7,203.6 88.1,205.2" fill="#b4b4b4" opacity="0.6"/>
<polygon points="79.9,202.9 84.0,204.1 84.0,200.3 79.9,199.1" fill="#d4d4d4" stroke="#777" stroke-width=".3"/>
<polygon points="84.0,204.1 89.5,202.4 89.5,198.7 84.0,200.3" fill="#b0b0b0" stroke="#777" stroke-width=".3"/>
<polygon points="84.0,200.3 89.5,198.7 85.4,197.4 79.9,199.1" fill="#fbfbfb" stroke="#777" stroke-width=".4"/>
<polygon points="242.9,204.1 247.0,202.9 251.3,204.0 247.2,205.3" fill="#b4b4b4" opacity="0.4"/>
<polygon points="239.6,203.1 242.9,204.1 242.9,200.2 239.6,199.2" fill="#d4d4d4" stroke="#9c9c9c" stroke-width=".3"/>
<polygon points="242.9,204.1 247.0,202.9 247.0,199.0 242.9,200.2" fill="#b8b8b8" stroke="#9c9c9c" stroke-width=".3"/>
<polygon points="242.9,200.2 247.0,199.0 243.7,198.0 239.6,199.2" fill="#fbfbfb" stroke="#9c9c9c" stroke-width=".4"/>
<polygon points="174.6,204.2 178.1,203.1 183.2,204.5 179.7,205.6" fill="#b4b4b4" opacity="0.4"/>
<polygon points="170.5,202.9 174.6,204.2 174.6,199.5 170.5,198.3" fill="#e6e6e6" stroke="#9c9c9c" stroke-width=".3"/>
<polygon points="174.6,204.2 178.1,203.1 178.1,198.5 174.6,199.5" fill="#cacaca" stroke="#9c9c9c" stroke-width=".3"/>
<polygon points="174.6,199.5 178.1,198.5 174.0,197.2 170.5,198.3" fill="#fbfbfb" stroke="#9c9c9c" stroke-width=".4"/>
<polygon points="126.8,204.2 132.7,202.4 137.9,203.8 132.0,205.6" fill="#b4b4b4" opacity="0.6"/>
<polygon points="122.5,202.9 126.8,204.2 126.8,199.5 122.5,198.2" fill="#dcdcdc" stroke="#777" stroke-width=".3"/>
<polygon points="126.8,204.2 132.7,202.4 132.7,197.8 126.8,199.5" fill="#b8b8b8" stroke="#777" stroke-width=".3"/>
<polygon points="126.8,199.5 132.7,197.8 128.4,196.5 122.5,198.2" fill="#fbfbfb" stroke="#777" stroke-width=".4"/>
<polygon points="167.6,204.4 173.4,202.7 176.1,203.4 170.3,205.1" fill="#b4b4b4" opacity="0.6"/>
<polygon points="164.9,203.6 167.6,204.4 167.6,201.9 164.9,201.2" fill="#dcdcdc" stroke="#777" stroke-width=".3"/>
<polygon points="167.6,204.4 173.4,202.7 173.4,200.2 167.6,201.9" fill="#b8b8b8" stroke="#777" stroke-width=".3"/>
<polygon points="167.6,201.9 173.4,200.2 170.8,199.4 164.9,201.2" fill="#fbfbfb" stroke="#777" stroke-width=".4"/>
<polygon points="97.6,204.4 102.5,203.0 107.2,204.3 102.3,205.7" fill="#b4b4b4" opacity="0.6"/>
<polygon points="94.3,203.5 97.6,204.4 97.6,200.2 94.3,199.2" fill="#dcdcdc" stroke="#777" stroke-width=".3"/>
<polygon points="97.6,204.4 102.5,203.0 102.5,198.7 97.6,200.2" fill="#b8b8b8" stroke="#777" stroke-width=".3"/>
<polygon points="97.6,200.2 102.5,198.7 99.2,197.7 94.3,199.2" fill="#fbfbfb" stroke="#777" stroke-width=".4"/>
<polygon points="106.0,204.5 111.8,202.8 114.3,203.5 108.6,205.2" fill="#b4b4b4" opacity="0.6"/>
<polygon points="101.7,203.2 106.0,204.5 106.0,202.1 101.7,200.9" fill="#dcdcdc" stroke="#777" stroke-width=".3"/>
<polygon points="106.0,204.5 111.8,202.8 111.8,200.4 106.0,202.1" fill="#b8b8b8" stroke="#777" stroke-width=".3"/>
<polygon points="106.0,202.1 111.8,200.4 107.5,199.1 101.7,200.9" fill="#fbfbfb" stroke="#777" stroke-width=".4"/>
<polygon points="30.9,204.5 35.7,203.1 41.3,204.6 36.4,206.0" fill="#b4b4b4" opacity="0.6"/>
<polygon points="26.9,203.3 30.9,204.5 30.9,199.5 26.9,198.3" fill="#cacaca" stroke="#777" stroke-width=".3"/>
<polygon points="30.9,204.5 35.7,203.1 35.7,198.0 30.9,199.5" fill="#a6a6a6" stroke="#777" stroke-width=".3"/>
<polygon points="30.9,199.5 35.7,198.0 31.7,196.8 26.9,198.3" fill="#fbfbfb" stroke="#777" stroke-width=".4"/>
<polygon points="133.9,204.5 137.1,203.6 141.5,204.8 138.2,205.7" fill="#b4b4b4" opacity="0.4"/>
<polygon points="129.6,203.2 133.9,204.5 133.9,200.6 129.6,199.3" fill="#e6e6e6" stroke="#9c9c9c" stroke-width=".3"/>
<polygon points="133.9,204.5 137.1,203.6 137.1,199.6 133.9,200.6" fill="#cacaca" stroke="#9c9c9c" stroke-width=".3"/>
<polygon points="133.9,200.6 137.1,199.6 132.8,198.3 129.6,199.3" fill="#fbfbfb" stroke="#9c9c9c" stroke-width=".4"/>
<polygon points="140.9,204.7 144.1,203.7 148.3,204.8 145.1,205.8" fill="#b4b4b4" opacity="0.4"/>
<polygon points="137.1,203.5 140.9,204.7 140.9,200.9 137.1,199.7" fill="#e6e6e6" stroke="#9c9c9c" stroke-width=".3"/>
<polygon points="140.9,204.7 144.1,203.7 144.1,199.9 140.9,200.9" fill="#cacaca" stroke="#9c9c9c" stroke-width=".3"/>
<polygon points="140.9,200.9 144.1,199.9 140.3,198.8 137.1,199.7" fill="#fbfbfb" stroke="#9c9c9c" stroke-width=".4"/>
<polygon points="147.2,204.7 151.2,203.5 156.6,204.9 152.6,206.1" fill="#b4b4b4" opacity="0.4"/>
<polygon points="142.9,203.4 147.2,204.7 147.2,199.7 142.9,198.4" fill="#e6e6e6" stroke="#9c9c9c" stroke-width=".3"/>
<polygon points="147.2,204.7 151.2,203.5 151.2,198.5 147.2,199.7" fill="#cacaca" stroke="#9c9c9c" stroke-width=".3"/>
<polygon points="147.2,199.7 151.2,198.5 146.8,197.2 142.9,198.4" fill="#fbfbfb" stroke="#9c9c9c" stroke-width=".4"/>
<polygon points="64.4,204.7 69.8,203.1 74.9,204.4 69.5,206.1" fill="#b4b4b4" opacity="0.6"/>
<polygon points="60.3,203.4 64.4,204.7 64.4,200.1 60.3,198.8" fill="#dcdcdc" stroke="#777" stroke-width=".3"/>
<polygon points="64.4,204.7 69.8,203.1 69.8,198.5 64.4,200.1" fill="#b8b8b8" stroke="#777" stroke-width=".3"/>
<polygon points="64.4,200.1 69.8,198.5 65.7,197.2 60.3,198.8" fill="#fbfbfb" stroke="#777" stroke-width=".4"/>
<polygon points="98.1,206.0 105.3,203.8 110.5,205.3 103.4,207.4" fill="#b4b4b4" opacity="0.6"/>
<polygon points="91.4,204.0 98.1,206.0 98.1,201.2 91.4,199.2" fill="url(#hl)" stroke="#777" stroke-width=".3"/>
<polygon points="98.1,206.0 105.3,203.8 105.3,199.1 98.1,201.2" fill="url(#hr)" stroke="#777" stroke-width=".3"/>
<polygon points="98.1,201.2 105.3,199.1 98.5,197.0 91.4,199.2" fill="#fbfbfb" stroke="#777" stroke-width=".4"/>
<polygon points="193.3,206.0 201.1,203.7 207.8,205.5 200.0,207.8" fill="#b4b4b4" opacity="0.6"/>
<polygon points="186.8,204.0 193.3,206.0 193.3,199.9 186.8,198.0" fill="url(#hl)" stroke="#777" stroke-width=".3"/>
<polygon points="193.3,206.0 201.1,203.7 201.1,197.6 193.3,199.9" fill="url(#hr)" stroke="#777" stroke-width=".3"/>
<polygon points="193.3,199.9 201.1,197.6 194.6,195.6 186.8,198.0" fill="#fbfbfb" stroke="#777" stroke-width=".4"/>
<polygon points="109.7,206.6 115.9,204.7 121.5,206.2 115.3,208.1" fill="#b4b4b4" opacity="0.6"/>
<polygon points="103.0,204.6 109.7,206.6 109.7,201.5 103.0,199.5" fill="#cacaca" stroke="#777" stroke-width=".3"/>
<polygon points="109.7,206.6 115.9,204.7 115.9,199.6 109.7,201.5" fill="#a6a6a6" stroke="#777" stroke-width=".3"/>
<polygon points="109.7,201.5 115.9,199.6 109.2,197.6 103.0,199.5" fill="#fbfbfb" stroke="#777" stroke-width=".4"/>
<polygon points="150.6,206.6 155.3,205.2 161.0,206.8 156.3,208.2" fill="#b4b4b4" opacity="0.6"/>
<polygon points="146.2,205.3 150.6,206.6 150.6,201.4 146.2,200.1" fill="#cacaca" stroke="#777" stroke-width=".3"/>
<polygon points="150.6,206.6 155.3,205.2 155.3,200.0 150.6,201.4" fill="#a6a6a6" stroke="#777" stroke-width=".3"/>
<polygon points="150.6,201.4 155.3,200.0 150.9,198.7 146.2,200.1" fill="#fbfbfb" stroke="#777" stroke-width=".4"/>
<ellipse cx="67.7" cy="207.2" rx="2.4" ry="0.7" fill="#bdbdbd" opacity=".6"/>
<path d="M65.5 206.6 v-1.7" stroke="#6f6f6f" stroke-width=".45" fill="none"/>
<ellipse cx="65.5" cy="203.3" rx="1.3" ry="2.1" fill="#f6f6f6" stroke="#7a7a7a" stroke-width=".5"/>
<ellipse cx="217.9" cy="207.4" rx="2.4" ry="0.7" fill="#bdbdbd" opacity=".6"/>
<path d="M215.6 206.8 v-1.7" stroke="#6f6f6f" stroke-width=".45" fill="none"/>
<ellipse cx="215.6" cy="203.5" rx="1.3" ry="2.1" fill="#f6f6f6" stroke="#7a7a7a" stroke-width=".5"/>
<polygon points="170.3,207.3 176.8,205.3 181.8,206.7 175.3,208.6" fill="#b4b4b4" opacity="0.6"/>
<polygon points="164.7,205.6 170.3,207.3 170.3,202.8 164.7,201.1" fill="url(#hl)" stroke="#777" stroke-width=".3"/>
<polygon points="170.3,207.3 176.8,205.3 176.8,200.8 170.3,202.8" fill="url(#hr)" stroke="#777" stroke-width=".3"/>
<polygon points="170.3,202.8 176.8,200.8 171.2,199.1 164.7,201.1" fill="#fbfbfb" stroke="#777" stroke-width=".4"/>
<ellipse cx="143.8" cy="207.9" rx="2.4" ry="0.7" fill="#bdbdbd" opacity=".6"/>
<path d="M141.6 207.3 v-1.7" stroke="#6f6f6f" stroke-width=".45" fill="none"/>
<ellipse cx="141.6" cy="204.0" rx="1.3" ry="2.1" fill="#f6f6f6" stroke="#7a7a7a" stroke-width=".5"/>
<ellipse cx="26.0" cy="208.0" rx="2.4" ry="0.7" fill="#bdbdbd" opacity=".6"/>
<path d="M23.7 207.4 v-1.7" stroke="#6f6f6f" stroke-width=".45" fill="none"/>
<ellipse cx="23.7" cy="204.1" rx="1.3" ry="2.1" fill="#f6f6f6" stroke="#7a7a7a" stroke-width=".5"/>
<polygon points="88.8,207.5 96.1,205.3 99.8,206.3 92.5,208.5" fill="#b4b4b4" opacity="0.6"/>
<polygon points="84.4,206.1 88.8,207.5 88.8,204.1 84.4,202.8" fill="url(#hl)" stroke="#777" stroke-width=".3"/>
<polygon points="88.8,207.5 96.1,205.3 96.1,201.9 88.8,204.1" fill="url(#hr)" stroke="#777" stroke-width=".3"/>
<polygon points="88.8,204.1 96.1,201.9 91.7,200.6 84.4,202.8" fill="#fbfbfb" stroke="#777" stroke-width=".4"/>
<polygon points="120.5,207.8 128.3,205.4 131.7,206.4 123.9,208.7" fill="#b4b4b4" opacity="0.6"/>
<polygon points="113.6,205.7 120.5,207.8 120.5,204.7 113.6,202.6" fill="url(#hl)" stroke="#777" stroke-width=".3"/>
<polygon points="120.5,207.8 128.3,205.4 128.3,202.4 120.5,204.7" fill="url(#hr)" stroke="#777" stroke-width=".3"/>
<polygon points="120.5,204.7 128.3,202.4 121.4,200.3 113.6,202.6" fill="#fbfbfb" stroke="#777" stroke-width=".4"/>
<ellipse cx="147.0" cy="208.5" rx="2.4" ry="0.7" fill="#bdbdbd" opacity=".6"/>
<path d="M144.8 207.9 v-1.7" stroke="#6f6f6f" stroke-width=".45" fill="none"/>
<ellipse cx="144.8" cy="204.6" rx="1.3" ry="2.1" fill="#f6f6f6" stroke="#7a7a7a" stroke-width=".5"/>
<ellipse cx="70.9" cy="208.6" rx="2.4" ry="0.7" fill="#bdbdbd" opacity=".6"/>
<path d="M68.7 208.0 v-1.7" stroke="#6f6f6f" stroke-width=".45" fill="none"/>
<ellipse cx="68.7" cy="204.7" rx="1.3" ry="2.1" fill="#f6f6f6" stroke="#7a7a7a" stroke-width=".5"/>
<polygon points="33.5,208.3 40.4,206.3 46.5,207.9 39.6,210.0" fill="#b4b4b4" opacity="0.6"/>
<polygon points="26.9,206.4 33.5,208.3 33.5,202.8 26.9,200.8" fill="url(#hl)" stroke="#777" stroke-width=".3"/>
<polygon points="33.5,208.3 40.4,206.3 40.4,200.7 33.5,202.8" fill="url(#hr)" stroke="#777" stroke-width=".3"/>
<polygon points="33.5,202.8 40.4,200.7 33.8,198.8 26.9,200.8" fill="#fbfbfb" stroke="#777" stroke-width=".4"/>
<polygon points="131.7,208.4 136.4,207.0 142.8,208.7 138.2,210.1" fill="#b4b4b4" opacity="0.6"/>
<polygon points="126.8,206.9 131.7,208.4 131.7,202.5 126.8,201.0" fill="#dcdcdc" stroke="#777" stroke-width=".3"/>
<polygon points="131.7,208.4 136.4,207.0 136.4,201.1 131.7,202.5" fill="#b8b8b8" stroke="#777" stroke-width=".3"/>
<polygon points="131.7,202.5 136.4,201.1 131.5,199.6 126.8,201.0" fill="#fbfbfb" stroke="#777" stroke-width=".4"/>
<polygon points="252.2,211.8 258.7,209.8 265.2,211.6 258.7,213.5" fill="#b4b4b4" opacity="0.6"/>
<polygon points="246.6,210.1 252.2,211.8 252.2,205.9 246.6,204.2" fill="url(#hl)" stroke="#777" stroke-width=".3"/>
<polygon points="252.2,211.8 258.7,209.8 258.7,204.0 252.2,205.9" fill="url(#hr)" stroke="#777" stroke-width=".3"/>
<polygon points="252.2,205.9 258.7,204.0 253.2,202.3 246.6,204.2" fill="#fbfbfb" stroke="#777" stroke-width=".4"/>
<polygon points="46.7,212.1 52.8,210.3 56.6,211.3 50.5,213.2" fill="#b4b4b4" opacity="0.6"/>
<polygon points="40.5,210.3 46.7,212.1 46.7,208.6 40.5,206.8" fill="#dcdcdc" stroke="#777" stroke-width=".3"/>
<polygon points="46.7,212.1 52.8,210.3 52.8,206.8 46.7,208.6" fill="#b8b8b8" stroke="#777" stroke-width=".3"/>
<polygon points="46.7,208.6 52.8,206.8 46.6,205.0 40.5,206.8" fill="#fbfbfb" stroke="#777" stroke-width=".4"/>
<polygon points="232.0,212.4 237.9,210.6 245.3,212.6 239.5,214.4" fill="#b4b4b4" opacity="0.6"/>
<polygon points="226.4,210.7 232.0,212.4 232.0,205.6 226.4,203.9" fill="#d4d4d4" stroke="#777" stroke-width=".3"/>
<polygon points="232.0,212.4 237.9,210.6 237.9,203.9 232.0,205.6" fill="#b0b0b0" stroke="#777" stroke-width=".3"/>
<polygon points="232.0,205.6 237.9,203.9 232.2,202.2 226.4,203.9" fill="#fbfbfb" stroke="#777" stroke-width=".4"/>
<ellipse cx="82.8" cy="213.4" rx="2.6" ry="0.7" fill="#bdbdbd" opacity=".6"/>
<path d="M80.4 212.8 v-1.8" stroke="#6f6f6f" stroke-width=".45" fill="none"/>
<ellipse cx="80.4" cy="209.3" rx="1.4" ry="2.2" fill="#f6f6f6" stroke="#7a7a7a" stroke-width=".5"/>
<ellipse cx="36.9" cy="213.6" rx="2.6" ry="0.7" fill="#bdbdbd" opacity=".6"/>
<path d="M34.5 213.0 v-1.8" stroke="#6f6f6f" stroke-width=".45" fill="none"/>
<ellipse cx="34.5" cy="209.5" rx="1.4" ry="2.2" fill="#f6f6f6" stroke="#7a7a7a" stroke-width=".5"/>
<ellipse cx="70.9" cy="213.7" rx="2.6" ry="0.7" fill="#bdbdbd" opacity=".6"/>
<path d="M68.5 213.1 v-1.8" stroke="#6f6f6f" stroke-width=".45" fill="none"/>
<ellipse cx="68.5" cy="209.5" rx="1.4" ry="2.2" fill="#f6f6f6" stroke="#7a7a7a" stroke-width=".5"/>
<ellipse cx="221.4" cy="213.7" rx="2.6" ry="0.7" fill="#bdbdbd" opacity=".6"/>
<path d="M219.0 213.1 v-1.8" stroke="#6f6f6f" stroke-width=".45" fill="none"/>
<ellipse cx="219.0" cy="209.6" rx="1.4" ry="2.2" fill="#f6f6f6" stroke="#7a7a7a" stroke-width=".5"/>
<polygon points="143.3,213.5 150.1,211.5 157.0,213.4 150.2,215.4" fill="#b4b4b4" opacity="0.6"/>
<polygon points="138.2,212.0 143.3,213.5 143.3,207.3 138.2,205.7" fill="url(#hl)" stroke="#777" stroke-width=".3"/>
<polygon points="143.3,213.5 150.1,211.5 150.1,205.2 143.3,207.3" fill="url(#hr)" stroke="#777" stroke-width=".3"/>
<polygon points="143.3,207.3 150.1,205.2 145.0,203.7 138.2,205.7" fill="#fbfbfb" stroke="#777" stroke-width=".4"/>
<ellipse cx="208.4" cy="214.3" rx="2.6" ry="0.7" fill="#bdbdbd" opacity=".6"/>
<path d="M206.0 213.6 v-1.8" stroke="#6f6f6f" stroke-width=".45" fill="none"/>
<ellipse cx="206.0" cy="210.1" rx="1.4" ry="2.2" fill="#f6f6f6" stroke="#7a7a7a" stroke-width=".5"/>
<ellipse cx="132.0" cy="214.5" rx="2.6" ry="0.7" fill="#bdbdbd" opacity=".6"/>
<path d="M129.6 213.8 v-1.8" stroke="#6f6f6f" stroke-width=".45" fill="none"/>
<ellipse cx="129.6" cy="210.3" rx="1.4" ry="2.2" fill="#f6f6f6" stroke="#7a7a7a" stroke-width=".5"/>
<ellipse cx="267.3" cy="214.7" rx="2.6" ry="0.7" fill="#bdbdbd" opacity=".6"/>
<path d="M264.9 214.1 v-1.8" stroke="#6f6f6f" stroke-width=".45" fill="none"/>
<ellipse cx="264.9" cy="210.5" rx="1.4" ry="2.2" fill="#f6f6f6" stroke="#7a7a7a" stroke-width=".5"/>
<ellipse cx="244.3" cy="214.8" rx="2.6" ry="0.7" fill="#bdbdbd" opacity=".6"/>
<path d="M241.9 214.2 v-1.8" stroke="#6f6f6f" stroke-width=".45" fill="none"/>
<ellipse cx="241.9" cy="210.6" rx="1.4" ry="2.2" fill="#f6f6f6" stroke="#7a7a7a" stroke-width=".5"/>
<polygon points="57.7,214.2 62.9,212.6 67.4,213.9 62.2,215.4" fill="#b4b4b4" opacity="0.6"/>
<polygon points="50.8,212.1 57.7,214.2 57.7,210.0 50.8,208.0" fill="#dcdcdc" stroke="#777" stroke-width=".3"/>
<polygon points="57.7,214.2 62.9,212.6 62.9,208.5 57.7,210.0" fill="#b8b8b8" stroke="#777" stroke-width=".3"/>
<polygon points="57.7,210.0 62.9,208.5 56.0,206.4 50.8,208.0" fill="#fbfbfb" stroke="#777" stroke-width=".4"/>
<ellipse cx="135.2" cy="214.8" rx="2.6" ry="0.7" fill="#bdbdbd" opacity=".6"/>
<path d="M132.8 214.2 v-1.8" stroke="#6f6f6f" stroke-width=".45" fill="none"/>
<ellipse cx="132.8" cy="210.7" rx="1.4" ry="2.2" fill="#f6f6f6" stroke="#7a7a7a" stroke-width=".5"/>
<polygon points="169.6,214.3 177.0,212.1 184.7,214.2 177.3,216.4" fill="#b4b4b4" opacity="0.6"/>
<polygon points="165.4,213.1 169.6,214.3 169.6,207.3 165.4,206.1" fill="url(#hl)" stroke="#777" stroke-width=".3"/>
<polygon points="169.6,214.3 177.0,212.1 177.0,205.1 169.6,207.3" fill="url(#hr)" stroke="#777" stroke-width=".3"/>
<polygon points="169.6,207.3 177.0,205.1 172.8,203.9 165.4,206.1" fill="#fbfbfb" stroke="#777" stroke-width=".4"/>
<ellipse cx="224.6" cy="215.1" rx="2.6" ry="0.7" fill="#bdbdbd" opacity=".6"/>
<path d="M222.2 214.5 v-1.8" stroke="#6f6f6f" stroke-width=".45" fill="none"/>
<ellipse cx="222.2" cy="211.0" rx="1.4" ry="2.2" fill="#f6f6f6" stroke="#7a7a7a" stroke-width=".5"/>
<polygon points="103.6,214.6 109.3,212.9 116.2,214.8 110.5,216.5" fill="#b4b4b4" opacity="0.6"/>
<polygon points="96.6,212.5 103.6,214.6 103.6,208.3 96.6,206.2" fill="#dcdcdc" stroke="#777" stroke-width=".3"/>
<polygon points="103.6,214.6 109.3,212.9 109.3,206.6 103.6,208.3" fill="#b8b8b8" stroke="#777" stroke-width=".3"/>
<polygon points="103.6,208.3 109.3,206.6 102.3,204.5 96.6,206.2" fill="#fbfbfb" stroke="#777" stroke-width=".4"/>
<ellipse cx="247.5" cy="215.6" rx="2.6" ry="0.7" fill="#bdbdbd" opacity=".6"/>
<path d="M245.1 214.9 v-1.8" stroke="#6f6f6f" stroke-width=".45" fill="none"/>
<ellipse cx="245.1" cy="211.4" rx="1.4" ry="2.2" fill="#f6f6f6" stroke="#7a7a7a" stroke-width=".5"/>
<ellipse cx="40.1" cy="216.0" rx="2.6" ry="0.7" fill="#bdbdbd" opacity=".6"/>
<path d="M37.7 215.4 v-1.8" stroke="#6f6f6f" stroke-width=".45" fill="none"/>
<ellipse cx="37.7" cy="211.9" rx="1.4" ry="2.2" fill="#f6f6f6" stroke="#7a7a7a" stroke-width=".5"/>
<ellipse cx="74.1" cy="216.2" rx="2.6" ry="0.7" fill="#bdbdbd" opacity=".6"/>
<path d="M71.7 215.6 v-1.8" stroke="#6f6f6f" stroke-width=".45" fill="none"/>
<ellipse cx="71.7" cy="212.1" rx="1.4" ry="2.2" fill="#f6f6f6" stroke="#7a7a7a" stroke-width=".5"/>
<polygon points="143.7,218.5 152.8,215.8 160.3,217.8 151.2,220.6" fill="#b4b4b4" opacity="0.6"/>
<polygon points="138.5,217.0 143.7,218.5 143.7,211.7 138.5,210.2" fill="url(#hl)" stroke="#777" stroke-width=".3"/>
<polygon points="143.7,218.5 152.8,215.8 152.8,209.0 143.7,211.7" fill="url(#hr)" stroke="#777" stroke-width=".3"/>
<polygon points="143.7,211.7 152.8,209.0 147.6,207.4 138.5,210.2" fill="#fbfbfb" stroke="#777" stroke-width=".4"/>
<polygon points="51.0,218.6 57.3,216.7 61.5,217.8 55.2,219.7" fill="#b4b4b4" opacity="0.6"/>
<polygon points="45.5,216.9 51.0,218.6 51.0,214.8 45.5,213.1" fill="#d4d4d4" stroke="#777" stroke-width=".3"/>
<polygon points="51.0,218.6 57.3,216.7 57.3,212.9 51.0,214.8" fill="#b0b0b0" stroke="#777" stroke-width=".3"/>
<polygon points="51.0,214.8 57.3,212.9 51.8,211.2 45.5,213.1" fill="#fbfbfb" stroke="#777" stroke-width=".4"/>
<polygon points="129.4,219.0 135.5,217.2 142.1,219.0 136.1,220.8" fill="#b4b4b4" opacity="0.6"/>
<polygon points="121.3,216.5 129.4,219.0 129.4,212.9 121.3,210.5" fill="#d4d4d4" stroke="#777" stroke-width=".3"/>
<polygon points="129.4,219.0 135.5,217.2 135.5,211.1 129.4,212.9" fill="#b0b0b0" stroke="#777" stroke-width=".3"/>
<polygon points="129.4,212.9 135.5,211.1 127.3,208.7 121.3,210.5" fill="#fbfbfb" stroke="#777" stroke-width=".4"/>
<ellipse cx="212.4" cy="219.7" rx="2.7" ry="0.8" fill="#bdbdbd" opacity=".6"/>
<path d="M209.8 219.0 v-1.9" stroke="#6f6f6f" stroke-width=".45" fill="none"/>
<ellipse cx="209.8" cy="215.3" rx="1.5" ry="2.4" fill="#f6f6f6" stroke="#7a7a7a" stroke-width=".5"/>
<polygon points="264.2,219.0 269.6,217.4 274.7,218.8 269.2,220.4" fill="#b4b4b4" opacity="0.6"/>
<polygon points="259.7,217.7 264.2,219.0 264.2,214.4 259.7,213.1" fill="#cacaca" stroke="#777" stroke-width=".3"/>
<polygon points="264.2,219.0 269.6,217.4 269.6,212.8 264.2,214.4" fill="#a6a6a6" stroke="#777" stroke-width=".3"/>
<polygon points="264.2,214.4 269.6,212.8 265.1,211.4 259.7,213.1" fill="#fbfbfb" stroke="#777" stroke-width=".4"/>
<polygon points="199.0,219.1 207.5,216.6 215.1,218.6 206.6,221.2" fill="#b4b4b4" opacity="0.6"/>
<polygon points="193.9,217.6 199.0,219.1 199.0,212.3 193.9,210.7" fill="url(#hl)" stroke="#777" stroke-width=".3"/>
<polygon points="199.0,219.1 207.5,216.6 207.5,209.7 199.0,212.3" fill="url(#hr)" stroke="#777" stroke-width=".3"/>
<polygon points="199.0,212.3 207.5,209.7 202.4,208.2 193.9,210.7" fill="#fbfbfb" stroke="#777" stroke-width=".4"/>
<polygon points="28.6,219.3 37.9,216.5 43.2,218.0 34.0,220.7" fill="#b4b4b4" opacity="0.6"/>
<polygon points="21.3,217.1 28.6,219.3 28.6,214.4 21.3,212.2" fill="url(#hl)" stroke="#777" stroke-width=".3"/>
<polygon points="28.6,219.3 37.9,216.5 37.9,211.6 28.6,214.4" fill="url(#hr)" stroke="#777" stroke-width=".3"/>
<polygon points="28.6,214.4 37.9,211.6 30.6,209.4 21.3,212.2" fill="#fbfbfb" stroke="#777" stroke-width=".4"/>
<polygon points="183.8,219.7 189.4,218.1 196.4,220.0 190.8,221.6" fill="#b4b4b4" opacity="0.6"/>
<polygon points="178.6,218.2 183.8,219.7 183.8,213.4 178.6,211.8" fill="#dcdcdc" stroke="#777" stroke-width=".3"/>
<polygon points="183.8,219.7 189.4,218.1 189.4,211.7 183.8,213.4" fill="#b8b8b8" stroke="#777" stroke-width=".3"/>
<polygon points="183.8,213.4 189.4,211.7 184.1,210.1 178.6,211.8" fill="#fbfbfb" stroke="#777" stroke-width=".4"/>
<ellipse cx="93.5" cy="220.5" rx="2.7" ry="0.8" fill="#bdbdbd" opacity=".6"/>
<path d="M90.9 219.8 v-1.9" stroke="#6f6f6f" stroke-width=".45" fill="none"/>
<ellipse cx="90.9" cy="216.0" rx="1.5" ry="2.4" fill="#f6f6f6" stroke="#7a7a7a" stroke-width=".5"/>
<ellipse cx="171.6" cy="220.6" rx="2.7" ry="0.8" fill="#bdbdbd" opacity=".6"/>
<path d="M169.0 219.9 v-1.9" stroke="#6f6f6f" stroke-width=".45" fill="none"/>
<ellipse cx="169.0" cy="216.1" rx="1.5" ry="2.4" fill="#f6f6f6" stroke="#7a7a7a" stroke-width=".5"/>
<polygon points="39.5,220.0 47.7,217.5 55.0,219.5 46.8,222.0" fill="#b4b4b4" opacity="0.6"/>
<polygon points="35.2,218.7 39.5,220.0 39.5,213.4 35.2,212.1" fill="url(#hl)" stroke="#777" stroke-width=".3"/>
<polygon points="39.5,220.0 47.7,217.5 47.7,210.9 39.5,213.4" fill="url(#hr)" stroke="#777" stroke-width=".3"/>
<polygon points="39.5,213.4 47.7,210.9 43.4,209.6 35.2,212.1" fill="#fbfbfb" stroke="#777" stroke-width=".4"/>
<polygon points="249.5,220.2 254.9,218.5 262.0,220.5 256.6,222.1" fill="#b4b4b4" opacity="0.6"/>
<polygon points="242.0,217.9 249.5,220.2 249.5,213.7 242.0,211.4" fill="#cacaca" stroke="#777" stroke-width=".3"/>
<polygon points="249.5,220.2 254.9,218.5 254.9,212.0 249.5,213.7" fill="#a6a6a6" stroke="#777" stroke-width=".3"/>
<polygon points="249.5,213.7 254.9,212.0 247.3,209.8 242.0,211.4" fill="#fbfbfb" stroke="#777" stroke-width=".4"/>
<ellipse cx="215.6" cy="221.1" rx="2.7" ry="0.8" fill="#bdbdbd" opacity=".6"/>
<path d="M213.0 220.5 v-1.9" stroke="#6f6f6f" stroke-width=".45" fill="none"/>
<ellipse cx="213.0" cy="216.7" rx="1.5" ry="2.4" fill="#f6f6f6" stroke="#7a7a7a" stroke-width=".5"/>
<ellipse cx="78.6" cy="221.4" rx="2.7" ry="0.8" fill="#bdbdbd" opacity=".6"/>
<path d="M76.0 220.8 v-1.9" stroke="#6f6f6f" stroke-width=".45" fill="none"/>
<ellipse cx="76.0" cy="217.0" rx="1.5" ry="2.4" fill="#f6f6f6" stroke="#7a7a7a" stroke-width=".5"/>
<ellipse cx="121.4" cy="221.5" rx="2.7" ry="0.8" fill="#bdbdbd" opacity=".6"/>
<path d="M118.8 220.8 v-1.9" stroke="#6f6f6f" stroke-width=".45" fill="none"/>
<ellipse cx="118.8" cy="217.1" rx="1.5" ry="2.4" fill="#f6f6f6" stroke="#7a7a7a" stroke-width=".5"/>
<polygon points="220.7,221.0 227.9,218.8 236.1,221.0 228.9,223.2" fill="#b4b4b4" opacity="0.6"/>
<polygon points="216.2,219.6 220.7,221.0 220.7,213.5 216.2,212.2" fill="url(#hl)" stroke="#777" stroke-width=".3"/>
<polygon points="220.7,221.0 227.9,218.8 227.9,211.4 220.7,213.5" fill="url(#hr)" stroke="#777" stroke-width=".3"/>
<polygon points="220.7,213.5 227.9,211.4 223.4,210.0 216.2,212.2" fill="#fbfbfb" stroke="#777" stroke-width=".4"/>
<ellipse cx="96.7" cy="221.9" rx="2.7" ry="0.8" fill="#bdbdbd" opacity=".6"/>
<path d="M94.1 221.3 v-1.9" stroke="#6f6f6f" stroke-width=".45" fill="none"/>
<ellipse cx="94.1" cy="217.5" rx="1.5" ry="2.4" fill="#f6f6f6" stroke="#7a7a7a" stroke-width=".5"/>
<ellipse cx="124.6" cy="221.9" rx="2.7" ry="0.8" fill="#bdbdbd" opacity=".6"/>
<path d="M122.0 221.3 v-1.9" stroke="#6f6f6f" stroke-width=".45" fill="none"/>
<ellipse cx="122.0" cy="217.5" rx="1.5" ry="2.4" fill="#f6f6f6" stroke="#7a7a7a" stroke-width=".5"/>
<ellipse cx="130.6" cy="222.7" rx="2.7" ry="0.8" fill="#bdbdbd" opacity=".6"/>
<path d="M128.0 222.0 v-1.9" stroke="#6f6f6f" stroke-width=".45" fill="none"/>
<ellipse cx="128.0" cy="218.3" rx="1.4" ry="2.4" fill="#f6f6f6" stroke="#7a7a7a" stroke-width=".5"/>
<ellipse cx="95.7" cy="224.7" rx="2.9" ry="0.8" fill="#bdbdbd" opacity=".6"/>
<path d="M93.0 224.0 v-2.0" stroke="#6f6f6f" stroke-width=".45" fill="none"/>
<ellipse cx="93.0" cy="220.0" rx="1.5" ry="2.5" fill="#f6f6f6" stroke="#7a7a7a" stroke-width=".5"/>
<ellipse cx="134.6" cy="226.7" rx="2.7" ry="0.8" fill="#bdbdbd" opacity=".6"/>
<path d="M132.0 226.0 v-1.9" stroke="#6f6f6f" stroke-width=".45" fill="none"/>
<ellipse cx="132.0" cy="222.3" rx="1.4" ry="2.4" fill="#f6f6f6" stroke="#7a7a7a" stroke-width=".5"/>
<ellipse cx="110.9" cy="227.4" rx="2.9" ry="0.8" fill="#bdbdbd" opacity=".6"/>
<path d="M108.2 226.6 v-2.0" stroke="#6f6f6f" stroke-width=".45" fill="none"/>
<ellipse cx="108.2" cy="222.6" rx="1.6" ry="2.6" fill="#f6f6f6" stroke="#7a7a7a" stroke-width=".5"/>
<ellipse cx="96.4" cy="227.4" rx="2.9" ry="0.8" fill="#bdbdbd" opacity=".6"/>
<path d="M93.7 226.7 v-2.0" stroke="#6f6f6f" stroke-width=".45" fill="none"/>
<ellipse cx="93.7" cy="222.6" rx="1.6" ry="2.6" fill="#f6f6f6" stroke="#7a7a7a" stroke-width=".5"/>
<polygon points="257.3,226.8 266.1,224.2 274.4,226.5 265.5,229.1" fill="#b4b4b4" opacity="0.6"/>
<polygon points="249.8,224.6 257.3,226.8 257.3,219.3 249.8,217.1" fill="url(#hl)" stroke="#777" stroke-width=".3"/>
<polygon points="257.3,226.8 266.1,224.2 266.1,216.7 257.3,219.3" fill="url(#hr)" stroke="#777" stroke-width=".3"/>
<polygon points="257.3,219.3 266.1,216.7 258.6,214.4 249.8,217.1" fill="#fbfbfb" stroke="#777" stroke-width=".4"/>
<polygon points="245.4,227.0 253.1,224.7 258.8,226.2 251.1,228.5" fill="#b4b4b4" opacity="0.6"/>
<polygon points="240.9,225.6 245.4,227.0 245.4,221.9 240.9,220.5" fill="url(#hl)" stroke="#777" stroke-width=".3"/>
<polygon points="245.4,227.0 253.1,224.7 253.1,219.6 245.4,221.9" fill="url(#hr)" stroke="#777" stroke-width=".3"/>
<polygon points="245.4,221.9 253.1,219.6 248.6,218.2 240.9,220.5" fill="#fbfbfb" stroke="#777" stroke-width=".4"/>
<polygon points="191.8,227.3 198.6,225.3 205.6,227.2 198.7,229.2" fill="#b4b4b4" opacity="0.6"/>
<polygon points="184.2,225.1 191.8,227.3 191.8,221.0 184.2,218.7" fill="url(#hl)" stroke="#777" stroke-width=".3"/>
<polygon points="191.8,227.3 198.6,225.3 198.6,219.0 191.8,221.0" fill="url(#hr)" stroke="#777" stroke-width=".3"/>
<polygon points="191.8,221.0 198.6,219.0 191.0,216.7 184.2,218.7" fill="#fbfbfb" stroke="#777" stroke-width=".4"/>
<polygon points="176.5,227.5 185.9,224.7 192.0,226.3 182.6,229.1" fill="#b4b4b4" opacity="0.6"/>
<polygon points="168.3,225.0 176.5,227.5 176.5,221.9 168.3,219.5" fill="url(#hl)" stroke="#777" stroke-width=".3"/>
<polygon points="176.5,227.5 185.9,224.7 185.9,219.1 176.5,221.9" fill="url(#hr)" stroke="#777" stroke-width=".3"/>
<polygon points="176.5,221.9 185.9,219.1 177.7,216.6 168.3,219.5" fill="#fbfbfb" stroke="#777" stroke-width=".4"/>
<polygon points="231.6,227.5 240.9,224.7 245.9,226.1 236.5,228.9" fill="#b4b4b4" opacity="0.6"/>
<polygon points="225.3,225.6 231.6,227.5 231.6,223.1 225.3,221.2" fill="url(#hl)" stroke="#777" stroke-width=".3"/>
<polygon points="231.6,227.5 240.9,224.7 240.9,220.3 231.6,223.1" fill="url(#hr)" stroke="#777" stroke-width=".3"/>
<polygon points="231.6,223.1 240.9,220.3 234.6,218.4 225.3,221.2" fill="#fbfbfb" stroke="#777" stroke-width=".4"/>
<ellipse cx="80.2" cy="228.3" rx="2.9" ry="0.8" fill="#bdbdbd" opacity=".6"/>
<path d="M77.5 227.6 v-2.0" stroke="#6f6f6f" stroke-width=".45" fill="none"/>
<ellipse cx="77.5" cy="223.5" rx="1.6" ry="2.6" fill="#f6f6f6" stroke="#7a7a7a" stroke-width=".5"/>
<polygon points="216.8,227.6 224.9,225.2 229.9,226.5 221.8,228.9" fill="#b4b4b4" opacity="0.6"/>
<polygon points="210.1,225.6 216.8,227.6 216.8,223.0 210.1,221.0" fill="url(#hl)" stroke="#777" stroke-width=".3"/>
<polygon points="216.8,227.6 224.9,225.2 224.9,220.6 216.8,223.0" fill="url(#hr)" stroke="#777" stroke-width=".3"/>
<polygon points="216.8,223.0 224.9,220.6 218.2,218.6 210.1,221.0" fill="#fbfbfb" stroke="#777" stroke-width=".4"/>
<ellipse cx="206.7" cy="228.4" rx="2.9" ry="0.8" fill="#bdbdbd" opacity=".6"/>
<path d="M203.9 227.7 v-2.0" stroke="#6f6f6f" stroke-width=".45" fill="none"/>
<ellipse cx="203.9" cy="223.6" rx="1.6" ry="2.6" fill="#f6f6f6" stroke="#7a7a7a" stroke-width=".5"/>
<ellipse cx="122.8" cy="228.4" rx="2.9" ry="0.8" fill="#bdbdbd" opacity=".6"/>
<path d="M120.1 227.7 v-2.0" stroke="#6f6f6f" stroke-width=".45" fill="none"/>
<ellipse cx="120.1" cy="223.6" rx="1.6" ry="2.6" fill="#f6f6f6" stroke="#7a7a7a" stroke-width=".5"/>
<ellipse cx="66.0" cy="228.4" rx="2.9" ry="0.8" fill="#bdbdbd" opacity=".6"/>
<path d="M63.2 227.7 v-2.0" stroke="#6f6f6f" stroke-width=".45" fill="none"/>
<ellipse cx="63.2" cy="223.7" rx="1.6" ry="2.6" fill="#f6f6f6" stroke="#7a7a7a" stroke-width=".5"/>
<ellipse cx="241.0" cy="228.8" rx="3.2" ry="0.9" fill="#bdbdbd" opacity=".6"/>
<path d="M238.0 228.0 v-2.2" stroke="#6f6f6f" stroke-width=".45" fill="none"/>
<ellipse cx="238.0" cy="223.6" rx="1.7" ry="2.8" fill="#f6f6f6" stroke="#7a7a7a" stroke-width=".5"/>
<ellipse cx="162.7" cy="228.7" rx="2.9" ry="0.8" fill="#bdbdbd" opacity=".6"/>
<path d="M160.0 228.0 v-2.0" stroke="#6f6f6f" stroke-width=".45" fill="none"/>
<ellipse cx="160.0" cy="224.0" rx="1.5" ry="2.5" fill="#f6f6f6" stroke="#7a7a7a" stroke-width=".5"/>
<ellipse cx="99.7" cy="228.7" rx="2.9" ry="0.8" fill="#bdbdbd" opacity=".6"/>
<path d="M97.0 228.0 v-2.0" stroke="#6f6f6f" stroke-width=".45" fill="none"/>
<ellipse cx="97.0" cy="224.0" rx="1.5" ry="2.5" fill="#f6f6f6" stroke="#7a7a7a" stroke-width=".5"/>
<ellipse cx="115.7" cy="228.7" rx="2.9" ry="0.8" fill="#bdbdbd" opacity=".6"/>
<path d="M113.0 228.0 v-2.0" stroke="#6f6f6f" stroke-width=".45" fill="none"/>
<ellipse cx="113.0" cy="224.0" rx="1.5" ry="2.5" fill="#f6f6f6" stroke="#7a7a7a" stroke-width=".5"/>
<ellipse cx="126.5" cy="228.7" rx="2.7" ry="0.8" fill="#bdbdbd" opacity=".6"/>
<path d="M124.0 228.0 v-1.9" stroke="#6f6f6f" stroke-width=".45" fill="none"/>
<ellipse cx="124.0" cy="224.3" rx="1.4" ry="2.4" fill="#f6f6f6" stroke="#7a7a7a" stroke-width=".5"/>
<polygon points="135.8,228.3 143.4,226.0 149.5,227.7 141.9,229.9" fill="#b4b4b4" opacity="0.6"/>
<polygon points="130.9,226.8 135.8,228.3 135.8,222.8 130.9,221.3" fill="url(#hl)" stroke="#777" stroke-width=".3"/>
<polygon points="135.8,228.3 143.4,226.0 143.4,220.5 135.8,222.8" fill="url(#hr)" stroke="#777" stroke-width=".3"/>
<polygon points="135.8,222.8 143.4,220.5 138.6,219.0 130.9,221.3" fill="#fbfbfb" stroke="#777" stroke-width=".4"/>
<ellipse cx="126.0" cy="229.2" rx="2.9" ry="0.8" fill="#bdbdbd" opacity=".6"/>
<path d="M123.3 228.5 v-2.0" stroke="#6f6f6f" stroke-width=".45" fill="none"/>
<ellipse cx="123.3" cy="224.5" rx="1.6" ry="2.6" fill="#f6f6f6" stroke="#7a7a7a" stroke-width=".5"/>
<ellipse cx="114.1" cy="229.6" rx="2.9" ry="0.8" fill="#bdbdbd" opacity=".6"/>
<path d="M111.4 228.9 v-2.0" stroke="#6f6f6f" stroke-width=".45" fill="none"/>
<ellipse cx="111.4" cy="224.9" rx="1.6" ry="2.6" fill="#f6f6f6" stroke="#7a7a7a" stroke-width=".5"/>
<ellipse cx="99.6" cy="229.6" rx="2.9" ry="0.8" fill="#bdbdbd" opacity=".6"/>
<path d="M96.9 228.9 v-2.0" stroke="#6f6f6f" stroke-width=".45" fill="none"/>
<ellipse cx="96.9" cy="224.9" rx="1.6" ry="2.6" fill="#f6f6f6" stroke="#7a7a7a" stroke-width=".5"/>
<ellipse cx="83.4" cy="230.0" rx="2.9" ry="0.8" fill="#bdbdbd" opacity=".6"/>
<path d="M80.7 229.3 v-2.0" stroke="#6f6f6f" stroke-width=".45" fill="none"/>
<ellipse cx="80.7" cy="225.3" rx="1.6" ry="2.6" fill="#f6f6f6" stroke="#7a7a7a" stroke-width=".5"/>
<ellipse cx="255.0" cy="232.8" rx="3.2" ry="0.9" fill="#bdbdbd" opacity=".6"/>
<path d="M252.0 232.0 v-2.2" stroke="#6f6f6f" stroke-width=".45" fill="none"/>
<ellipse cx="252.0" cy="227.6" rx="1.7" ry="2.8" fill="#f6f6f6" stroke="#7a7a7a" stroke-width=".5"/>
<ellipse cx="103.8" cy="232.8" rx="3.0" ry="0.9" fill="#bdbdbd" opacity=".6"/>
<path d="M101.0 232.0 v-2.1" stroke="#6f6f6f" stroke-width=".45" fill="none"/>
<ellipse cx="101.0" cy="227.8" rx="1.6" ry="2.7" fill="#f6f6f6" stroke="#7a7a7a" stroke-width=".5"/>
<ellipse cx="111.7" cy="232.7" rx="2.9" ry="0.8" fill="#bdbdbd" opacity=".6"/>
<path d="M109.0 232.0 v-2.0" stroke="#6f6f6f" stroke-width=".45" fill="none"/>
<ellipse cx="109.0" cy="228.0" rx="1.5" ry="2.5" fill="#f6f6f6" stroke="#7a7a7a" stroke-width=".5"/>
<ellipse cx="91.7" cy="232.7" rx="2.9" ry="0.8" fill="#bdbdbd" opacity=".6"/>
<path d="M89.0 232.0 v-2.0" stroke="#6f6f6f" stroke-width=".45" fill="none"/>
<ellipse cx="89.0" cy="228.0" rx="1.5" ry="2.5" fill="#f6f6f6" stroke="#7a7a7a" stroke-width=".5"/>
<ellipse cx="202.7" cy="232.7" rx="2.9" ry="0.8" fill="#bdbdbd" opacity=".6"/>
<path d="M200.0 232.0 v-2.0" stroke="#6f6f6f" stroke-width=".45" fill="none"/>
<ellipse cx="200.0" cy="228.0" rx="1.5" ry="2.5" fill="#f6f6f6" stroke="#7a7a7a" stroke-width=".5"/>
<ellipse cx="214.7" cy="232.7" rx="2.9" ry="0.8" fill="#bdbdbd" opacity=".6"/>
<path d="M212.0 232.0 v-2.0" stroke="#6f6f6f" stroke-width=".45" fill="none"/>
<ellipse cx="212.0" cy="228.0" rx="1.5" ry="2.5" fill="#f6f6f6" stroke="#7a7a7a" stroke-width=".5"/>
<polygon points="143.3,233.7 151.3,231.3 159.6,233.6 151.7,236.0" fill="#b4b4b4" opacity="0.6"/>
<polygon points="137.4,232.0 143.3,233.7 143.3,226.1 137.4,224.3" fill="url(#hl)" stroke="#777" stroke-width=".3"/>
<polygon points="143.3,233.7 151.3,231.3 151.3,223.7 143.3,226.1" fill="url(#hr)" stroke="#777" stroke-width=".3"/>
<polygon points="143.3,226.1 151.3,223.7 145.3,222.0 137.4,224.3" fill="#fbfbfb" stroke="#777" stroke-width=".4"/>
<polygon points="39.2,234.2 49.8,231.0 54.5,232.3 43.9,235.4" fill="#b4b4b4" opacity="0.6"/>
<polygon points="31.3,231.8 39.2,234.2 39.2,229.9 31.3,227.5" fill="url(#hl)" stroke="#777" stroke-width=".3"/>
<polygon points="39.2,234.2 49.8,231.0 49.8,226.7 39.2,229.9" fill="url(#hr)" stroke="#777" stroke-width=".3"/>
<polygon points="39.2,229.9 49.8,226.7 41.9,224.3 31.3,227.5" fill="#fbfbfb" stroke="#777" stroke-width=".4"/>
<polygon points="206.5,234.3 216.5,231.4 221.2,232.6 211.2,235.6" fill="#b4b4b4" opacity="0.6"/>
<polygon points="200.6,232.6 206.5,234.3 206.5,230.1 200.6,228.3" fill="url(#hl)" stroke="#777" stroke-width=".3"/>
<polygon points="206.5,234.3 216.5,231.4 216.5,227.1 206.5,230.1" fill="url(#hr)" stroke="#777" stroke-width=".3"/>
<polygon points="206.5,230.1 216.5,227.1 210.6,225.3 200.6,228.3" fill="#fbfbfb" stroke="#777" stroke-width=".4"/>
<polygon points="95.2,234.6 104.4,231.9 114.0,234.5 104.8,237.3" fill="#b4b4b4" opacity="0.6"/>
<polygon points="89.6,233.0 95.2,234.6 95.2,225.8 89.6,224.2" fill="url(#hl)" stroke="#777" stroke-width=".3"/>
<polygon points="95.2,234.6 104.4,231.9 104.4,223.1 95.2,225.8" fill="url(#hr)" stroke="#777" stroke-width=".3"/>
<polygon points="95.2,225.8 104.4,223.1 98.8,221.4 89.6,224.2" fill="#fbfbfb" stroke="#777" stroke-width=".4"/>
<ellipse cx="70.8" cy="235.6" rx="3.1" ry="0.9" fill="#bdbdbd" opacity=".6"/>
<path d="M67.9 234.8 v-2.2" stroke="#6f6f6f" stroke-width=".45" fill="none"/>
<ellipse cx="67.9" cy="230.5" rx="1.7" ry="2.7" fill="#f6f6f6" stroke="#7a7a7a" stroke-width=".5"/>
<polygon points="263.9,235.0 272.0,232.5 276.8,233.8 268.7,236.3" fill="#b4b4b4" opacity="0.6"/>
<polygon points="256.0,232.6 263.9,235.0 263.9,230.6 256.0,228.2" fill="url(#hl)" stroke="#777" stroke-width=".3"/>
<polygon points="263.9,235.0 272.0,232.5 272.0,228.2 263.9,230.6" fill="url(#hr)" stroke="#777" stroke-width=".3"/>
<polygon points="263.9,230.6 272.0,228.2 264.1,225.8 256.0,228.2" fill="#fbfbfb" stroke="#777" stroke-width=".4"/>
<polygon points="249.9,235.0 258.1,232.5 265.4,234.5 257.2,237.0" fill="#b4b4b4" opacity="0.6"/>
<polygon points="243.2,233.0 249.9,235.0 249.9,228.4 243.2,226.4" fill="url(#hl)" stroke="#777" stroke-width=".3"/>
<polygon points="249.9,235.0 258.1,232.5 258.1,226.0 249.9,228.4" fill="url(#hr)" stroke="#777" stroke-width=".3"/>
<polygon points="249.9,228.4 258.1,226.0 251.4,224.0 243.2,226.4" fill="#fbfbfb" stroke="#777" stroke-width=".4"/>
<polygon points="112.5,235.0 119.6,232.9 128.2,235.2 121.1,237.4" fill="#b4b4b4" opacity="0.6"/>
<polygon points="104.8,232.7 112.5,235.0 112.5,227.2 104.8,224.9" fill="url(#hl)" stroke="#777" stroke-width=".3"/>
<polygon points="112.5,235.0 119.6,232.9 119.6,225.1 112.5,227.2" fill="url(#hr)" stroke="#777" stroke-width=".3"/>
<polygon points="112.5,227.2 119.6,225.1 111.9,222.8 104.8,224.9" fill="#fbfbfb" stroke="#777" stroke-width=".4"/>
<ellipse cx="178.6" cy="235.9" rx="3.1" ry="0.9" fill="#bdbdbd" opacity=".6"/>
<path d="M175.6 235.2 v-2.2" stroke="#6f6f6f" stroke-width=".45" fill="none"/>
<ellipse cx="175.6" cy="230.9" rx="1.7" ry="2.7" fill="#f6f6f6" stroke="#7a7a7a" stroke-width=".5"/>
<ellipse cx="193.3" cy="236.0" rx="3.1" ry="0.9" fill="#bdbdbd" opacity=".6"/>
<path d="M190.4 235.2 v-2.2" stroke="#6f6f6f" stroke-width=".45" fill="none"/>
<ellipse cx="190.4" cy="230.9" rx="1.7" ry="2.7" fill="#f6f6f6" stroke="#7a7a7a" stroke-width=".5"/>
<polygon points="233.7,235.2 240.4,233.2 245.9,234.7 239.3,236.7" fill="#b4b4b4" opacity="0.6"/>
<polygon points="225.6,232.8 233.7,235.2 233.7,230.2 225.6,227.7" fill="url(#hl)" stroke="#777" stroke-width=".3"/>
<polygon points="233.7,235.2 240.4,233.2 240.4,228.2 233.7,230.2" fill="url(#hr)" stroke="#777" stroke-width=".3"/>
<polygon points="233.7,230.2 240.4,228.2 232.3,225.7 225.6,227.7" fill="#fbfbfb" stroke="#777" stroke-width=".4"/>
<polygon points="81.5,235.3 89.2,233.0 98.1,235.4 90.4,237.7" fill="#b4b4b4" opacity="0.6"/>
<polygon points="74.5,233.2 81.5,235.3 81.5,227.2 74.5,225.2" fill="url(#hl)" stroke="#777" stroke-width=".3"/>
<polygon points="81.5,235.3 89.2,233.0 89.2,224.9 81.5,227.2" fill="url(#hr)" stroke="#777" stroke-width=".3"/>
<polygon points="81.5,227.2 89.2,224.9 82.3,222.8 74.5,225.2" fill="#fbfbfb" stroke="#777" stroke-width=".4"/>
<polygon points="220.3,235.4 227.8,233.1 234.0,234.8 226.5,237.1" fill="#b4b4b4" opacity="0.6"/>
<polygon points="215.4,233.9 220.3,235.4 220.3,229.7 215.4,228.3" fill="url(#hl)" stroke="#777" stroke-width=".3"/>
<polygon points="220.3,235.4 227.8,233.1 227.8,227.5 220.3,229.7" fill="url(#hr)" stroke="#777" stroke-width=".3"/>
<polygon points="220.3,229.7 227.8,227.5 222.9,226.0 215.4,228.3" fill="#fbfbfb" stroke="#777" stroke-width=".4"/>
<ellipse cx="57.2" cy="236.5" rx="3.1" ry="0.9" fill="#bdbdbd" opacity=".6"/>
<path d="M54.3 235.7 v-2.2" stroke="#6f6f6f" stroke-width=".45" fill="none"/>
<ellipse cx="54.3" cy="231.4" rx="1.7" ry="2.7" fill="#f6f6f6" stroke="#7a7a7a" stroke-width=".5"/>
<ellipse cx="196.5" cy="236.7" rx="3.1" ry="0.9" fill="#bdbdbd" opacity=".6"/>
<path d="M193.6 235.9 v-2.2" stroke="#6f6f6f" stroke-width=".45" fill="none"/>
<ellipse cx="193.6" cy="231.6" rx="1.7" ry="2.7" fill="#f6f6f6" stroke="#7a7a7a" stroke-width=".5"/>
<polygon points="25.6,236.0 34.4,233.3 41.1,235.1 32.3,237.8" fill="#b4b4b4" opacity="0.6"/>
<polygon points="18.9,233.9 25.6,236.0 25.6,229.9 18.9,227.8" fill="url(#hl)" stroke="#777" stroke-width=".3"/>
<polygon points="25.6,236.0 34.4,233.3 34.4,227.2 25.6,229.9" fill="url(#hr)" stroke="#777" stroke-width=".3"/>
<polygon points="25.6,229.9 34.4,227.2 27.7,225.2 18.9,227.8" fill="#fbfbfb" stroke="#777" stroke-width=".4"/>
<ellipse cx="162.9" cy="236.8" rx="3.1" ry="0.9" fill="#bdbdbd" opacity=".6"/>
<path d="M160.0 236.0 v-2.2" stroke="#6f6f6f" stroke-width=".45" fill="none"/>
<ellipse cx="160.0" cy="231.7" rx="1.7" ry="2.7" fill="#f6f6f6" stroke="#7a7a7a" stroke-width=".5"/>
<ellipse cx="247.0" cy="236.8" rx="3.2" ry="0.9" fill="#bdbdbd" opacity=".6"/>
<path d="M244.0 236.0 v-2.2" stroke="#6f6f6f" stroke-width=".45" fill="none"/>
<ellipse cx="244.0" cy="231.6" rx="1.7" ry="2.8" fill="#f6f6f6" stroke="#7a7a7a" stroke-width=".5"/>
<ellipse cx="152.7" cy="236.7" rx="2.9" ry="0.8" fill="#bdbdbd" opacity=".6"/>
<path d="M150.0 236.0 v-2.0" stroke="#6f6f6f" stroke-width=".45" fill="none"/>
<ellipse cx="150.0" cy="232.0" rx="1.5" ry="2.5" fill="#f6f6f6" stroke="#7a7a7a" stroke-width=".5"/>
<ellipse cx="107.8" cy="236.8" rx="3.0" ry="0.9" fill="#bdbdbd" opacity=".6"/>
<path d="M105.0 236.0 v-2.1" stroke="#6f6f6f" stroke-width=".45" fill="none"/>
<ellipse cx="105.0" cy="231.8" rx="1.6" ry="2.7" fill="#f6f6f6" stroke="#7a7a7a" stroke-width=".5"/>
<ellipse cx="123.7" cy="236.7" rx="2.9" ry="0.8" fill="#bdbdbd" opacity=".6"/>
<path d="M121.0 236.0 v-2.0" stroke="#6f6f6f" stroke-width=".45" fill="none"/>
<ellipse cx="121.0" cy="232.0" rx="1.5" ry="2.5" fill="#f6f6f6" stroke="#7a7a7a" stroke-width=".5"/>
<ellipse cx="208.7" cy="236.7" rx="2.9" ry="0.8" fill="#bdbdbd" opacity=".6"/>
<path d="M206.0 236.0 v-2.0" stroke="#6f6f6f" stroke-width=".45" fill="none"/>
<ellipse cx="206.0" cy="232.0" rx="1.5" ry="2.5" fill="#f6f6f6" stroke="#7a7a7a" stroke-width=".5"/>
<ellipse cx="166.1" cy="237.0" rx="3.1" ry="0.9" fill="#bdbdbd" opacity=".6"/>
<path d="M163.2 236.2 v-2.2" stroke="#6f6f6f" stroke-width=".45" fill="none"/>
<ellipse cx="163.2" cy="231.9" rx="1.7" ry="2.7" fill="#f6f6f6" stroke="#7a7a7a" stroke-width=".5"/>
<ellipse cx="181.8" cy="238.0" rx="3.1" ry="0.9" fill="#bdbdbd" opacity=".6"/>
<path d="M178.8 237.2 v-2.2" stroke="#6f6f6f" stroke-width=".45" fill="none"/>
<ellipse cx="178.8" cy="232.9" rx="1.7" ry="2.7" fill="#f6f6f6" stroke="#7a7a7a" stroke-width=".5"/>
<ellipse cx="38.7" cy="238.7" rx="2.9" ry="0.8" fill="#bdbdbd" opacity=".6"/>
<path d="M36.0 238.0 v-2.0" stroke="#6f6f6f" stroke-width=".45" fill="none"/>
<ellipse cx="36.0" cy="234.0" rx="1.5" ry="2.5" fill="#f6f6f6" stroke="#7a7a7a" stroke-width=".5"/>
<ellipse cx="87.8" cy="238.8" rx="3.0" ry="0.9" fill="#bdbdbd" opacity=".6"/>
<path d="M85.0 238.0 v-2.1" stroke="#6f6f6f" stroke-width=".45" fill="none"/>
<ellipse cx="85.0" cy="233.8" rx="1.6" ry="2.7" fill="#f6f6f6" stroke="#7a7a7a" stroke-width=".5"/>
<ellipse cx="115.0" cy="240.8" rx="3.2" ry="0.9" fill="#bdbdbd" opacity=".6"/>
<path d="M112.0 240.0 v-2.2" stroke="#6f6f6f" stroke-width=".45" fill="none"/>
<ellipse cx="112.0" cy="235.6" rx="1.7" ry="2.8" fill="#f6f6f6" stroke="#7a7a7a" stroke-width=".5"/>
<ellipse cx="119.8" cy="240.8" rx="3.0" ry="0.9" fill="#bdbdbd" opacity=".6"/>
<path d="M117.0 240.0 v-2.1" stroke="#6f6f6f" stroke-width=".45" fill="none"/>
<ellipse cx="117.0" cy="235.8" rx="1.6" ry="2.7" fill="#f6f6f6" stroke="#7a7a7a" stroke-width=".5"/>
<ellipse cx="228.8" cy="240.8" rx="3.0" ry="0.9" fill="#bdbdbd" opacity=".6"/>
<path d="M226.0 240.0 v-2.1" stroke="#6f6f6f" stroke-width=".45" fill="none"/>
<ellipse cx="226.0" cy="235.8" rx="1.6" ry="2.7" fill="#f6f6f6" stroke="#7a7a7a" stroke-width=".5"/>
<polygon points="28.4,242.4 37.5,239.7 47.9,242.5 38.8,245.2" fill="#b4b4b4" opacity="0.6"/>
<polygon points="21.2,240.3 28.4,242.4 28.4,233.0 21.2,230.8" fill="url(#hl)" stroke="#777" stroke-width=".3"/>
<polygon points="28.4,242.4 37.5,239.7 37.5,230.2 28.4,233.0" fill="url(#hr)" stroke="#777" stroke-width=".3"/>
<polygon points="28.4,233.0 37.5,230.2 30.4,228.1 21.2,230.8" fill="#fbfbfb" stroke="#777" stroke-width=".4"/>
<polygon points="79.2,242.5 87.8,239.9 95.8,242.1 87.2,244.7" fill="#b4b4b4" opacity="0.6"/>
<polygon points="69.0,239.4 79.2,242.5 79.2,235.2 69.0,232.1" fill="url(#hl)" stroke="#777" stroke-width=".3"/>
<polygon points="79.2,242.5 87.8,239.9 87.8,232.6 79.2,235.2" fill="url(#hr)" stroke="#777" stroke-width=".3"/>
<polygon points="79.2,235.2 87.8,232.6 77.6,229.6 69.0,232.1" fill="#fbfbfb" stroke="#777" stroke-width=".4"/>
<polygon points="246.2,242.8 253.1,240.7 258.8,242.2 251.9,244.3" fill="#b4b4b4" opacity="0.6"/>
<polygon points="236.8,239.9 246.2,242.8 246.2,237.5 236.8,234.7" fill="url(#hl)" stroke="#777" stroke-width=".3"/>
<polygon points="246.2,242.8 253.1,240.7 253.1,235.5 246.2,237.5" fill="url(#hr)" stroke="#777" stroke-width=".3"/>
<polygon points="246.2,237.5 253.1,235.5 243.7,232.6 236.8,234.7" fill="#fbfbfb" stroke="#777" stroke-width=".4"/>
<ellipse cx="216.3" cy="243.7" rx="3.4" ry="0.9" fill="#bdbdbd" opacity=".6"/>
<path d="M213.1 242.9 v-2.3" stroke="#6f6f6f" stroke-width=".45" fill="none"/>
<ellipse cx="213.1" cy="238.2" rx="1.8" ry="2.9" fill="#f6f6f6" stroke="#7a7a7a" stroke-width=".5"/>
<polygon points="197.7,242.9 208.2,239.7 216.6,242.0 206.1,245.2" fill="#b4b4b4" opacity="0.6"/>
<polygon points="187.6,239.9 197.7,242.9 197.7,235.2 187.6,232.2" fill="url(#hl)" stroke="#777" stroke-width=".3"/>
<polygon points="197.7,242.9 208.2,239.7 208.2,232.1 197.7,235.2" fill="url(#hr)" stroke="#777" stroke-width=".3"/>
<polygon points="197.7,235.2 208.2,232.1 198.1,229.1 187.6,232.2" fill="#fbfbfb" stroke="#777" stroke-width=".4"/>
<polygon points="176.0,243.0 185.0,240.3 192.7,242.4 183.7,245.1" fill="#b4b4b4" opacity="0.6"/>
<polygon points="168.0,240.6 176.0,243.0 176.0,236.0 168.0,233.6" fill="url(#hl)" stroke="#777" stroke-width=".3"/>
<polygon points="176.0,243.0 185.0,240.3 185.0,233.3 176.0,236.0" fill="url(#hr)" stroke="#777" stroke-width=".3"/>
<polygon points="176.0,236.0 185.0,233.3 177.0,230.9 168.0,233.6" fill="#fbfbfb" stroke="#777" stroke-width=".4"/>
<ellipse cx="63.0" cy="243.8" rx="3.2" ry="0.9" fill="#bdbdbd" opacity=".6"/>
<path d="M60.0 243.0 v-2.2" stroke="#6f6f6f" stroke-width=".45" fill="none"/>
<ellipse cx="60.0" cy="238.6" rx="1.7" ry="2.8" fill="#f6f6f6" stroke="#7a7a7a" stroke-width=".5"/>
<polygon points="65.6,243.7 73.6,241.3 81.6,243.5 73.6,245.9" fill="#b4b4b4" opacity="0.6"/>
<polygon points="55.2,240.6 65.6,243.7 65.6,236.4 55.2,233.3" fill="url(#hl)" stroke="#777" stroke-width=".3"/>
<polygon points="65.6,243.7 73.6,241.3 73.6,234.0 65.6,236.4" fill="url(#hr)" stroke="#777" stroke-width=".3"/>
<polygon points="65.6,236.4 73.6,234.0 63.3,230.9 55.2,233.3" fill="#fbfbfb" stroke="#777" stroke-width=".4"/>
<ellipse cx="150.5" cy="244.9" rx="3.4" ry="0.9" fill="#bdbdbd" opacity=".6"/>
<path d="M147.3 244.1 v-2.3" stroke="#6f6f6f" stroke-width=".45" fill="none"/>
<ellipse cx="147.3" cy="239.5" rx="1.8" ry="2.9" fill="#f6f6f6" stroke="#7a7a7a" stroke-width=".5"/>
<ellipse cx="165.4" cy="245.4" rx="3.4" ry="0.9" fill="#bdbdbd" opacity=".6"/>
<path d="M162.2 244.5 v-2.3" stroke="#6f6f6f" stroke-width=".45" fill="none"/>
<ellipse cx="162.2" cy="239.9" rx="1.8" ry="2.9" fill="#f6f6f6" stroke="#7a7a7a" stroke-width=".5"/>
<ellipse cx="267.2" cy="245.5" rx="3.4" ry="0.9" fill="#bdbdbd" opacity=".6"/>
<path d="M264.1 244.6 v-2.3" stroke="#6f6f6f" stroke-width=".45" fill="none"/>
<ellipse cx="264.1" cy="240.0" rx="1.8" ry="2.9" fill="#f6f6f6" stroke="#7a7a7a" stroke-width=".5"/>
<ellipse cx="153.7" cy="246.5" rx="3.4" ry="0.9" fill="#bdbdbd" opacity=".6"/>
<path d="M150.5 245.6 v-2.3" stroke="#6f6f6f" stroke-width=".45" fill="none"/>
<ellipse cx="150.5" cy="241.0" rx="1.8" ry="2.9" fill="#f6f6f6" stroke="#7a7a7a" stroke-width=".5"/>
<polygon points="205.0,246.0 214.0,243.3 220.6,245.1 211.6,247.8" fill="#b4b4b4" opacity="0.6"/>
<polygon points="197.0,243.6 205.0,246.0 205.0,240.0 197.0,237.6" fill="url(#hl)" stroke="#777" stroke-width=".3"/>
<polygon points="205.0,246.0 214.0,243.3 214.0,237.3 205.0,240.0" fill="url(#hr)" stroke="#777" stroke-width=".3"/>
<polygon points="205.0,240.0 214.0,237.3 206.0,234.9 197.0,237.6" fill="#fbfbfb" stroke="#777" stroke-width=".4"/>
<polygon points="236.0,246.0 245.0,243.3 251.6,245.1 242.6,247.8" fill="#b4b4b4" opacity="0.6"/>
<polygon points="228.0,243.6 236.0,246.0 236.0,240.0 228.0,237.6" fill="url(#hl)" stroke="#777" stroke-width=".3"/>
<polygon points="236.0,246.0 245.0,243.3 245.0,237.3 236.0,240.0" fill="url(#hr)" stroke="#777" stroke-width=".3"/>
<polygon points="236.0,240.0 245.0,237.3 237.0,234.9 228.0,237.6" fill="#fbfbfb" stroke="#777" stroke-width=".4"/>
<polygon points="28.0,246.0 36.0,243.6 42.6,245.4 34.6,247.8" fill="#b4b4b4" opacity="0.6"/>
<polygon points="21.0,243.9 28.0,246.0 28.0,240.0 21.0,237.9" fill="url(#hl)" stroke="#777" stroke-width=".3"/>
<polygon points="28.0,246.0 36.0,243.6 36.0,237.6 28.0,240.0" fill="url(#hr)" stroke="#777" stroke-width=".3"/>
<polygon points="28.0,240.0 36.0,237.6 29.0,235.5 21.0,237.9" fill="#fbfbfb" stroke="#777" stroke-width=".4"/>
<ellipse cx="73.0" cy="246.8" rx="3.2" ry="0.9" fill="#bdbdbd" opacity=".6"/>
<path d="M70.0 246.0 v-2.2" stroke="#6f6f6f" stroke-width=".45" fill="none"/>
<ellipse cx="70.0" cy="241.6" rx="1.7" ry="2.8" fill="#f6f6f6" stroke="#7a7a7a" stroke-width=".5"/>
<ellipse cx="107.0" cy="247.8" rx="3.2" ry="0.9" fill="#bdbdbd" opacity=".6"/>
<path d="M104.0 247.0 v-2.2" stroke="#6f6f6f" stroke-width=".45" fill="none"/>
<ellipse cx="104.0" cy="242.6" rx="1.7" ry="2.8" fill="#f6f6f6" stroke="#7a7a7a" stroke-width=".5"/>
<polygon points="82.0,248.0 91.0,245.3 97.6,247.1 88.6,249.8" fill="#b4b4b4" opacity="0.6"/>
<polygon points="74.0,245.6 82.0,248.0 82.0,242.0 74.0,239.6" fill="url(#hl)" stroke="#777" stroke-width=".3"/>
<polygon points="82.0,248.0 91.0,245.3 91.0,239.3 82.0,242.0" fill="url(#hr)" stroke="#777" stroke-width=".3"/>
<polygon points="82.0,242.0 91.0,239.3 83.0,236.9 74.0,239.6" fill="#fbfbfb" stroke="#777" stroke-width=".4"/>
<ellipse cx="121.0" cy="248.8" rx="3.2" ry="0.9" fill="#bdbdbd" opacity=".6"/>
<path d="M118.0 248.0 v-2.2" stroke="#6f6f6f" stroke-width=".45" fill="none"/>
<ellipse cx="118.0" cy="243.6" rx="1.7" ry="2.8" fill="#f6f6f6" stroke="#7a7a7a" stroke-width=".5"/>
<polygon points="52.0,249.0 64.0,245.4 76.1,248.7 64.1,252.3" fill="#b4b4b4" opacity="0.6"/>
<polygon points="42.0,246.0 52.0,249.0 52.0,238.0 42.0,235.0" fill="url(#hl)" stroke="#777" stroke-width=".3"/>
<polygon points="52.0,249.0 64.0,245.4 64.0,234.4 52.0,238.0" fill="url(#hr)" stroke="#777" stroke-width=".3"/>
<polygon points="52.0,238.0 64.0,234.4 54.0,231.4 42.0,235.0" fill="#fbfbfb" stroke="#777" stroke-width=".4"/>
<ellipse cx="171.0" cy="250.8" rx="3.2" ry="0.9" fill="#bdbdbd" opacity=".6"/>
<path d="M168.0 250.0 v-2.2" stroke="#6f6f6f" stroke-width=".45" fill="none"/>
<ellipse cx="168.0" cy="245.6" rx="1.7" ry="2.8" fill="#f6f6f6" stroke="#7a7a7a" stroke-width=".5"/>
<ellipse cx="69.0" cy="252.8" rx="3.2" ry="0.9" fill="#bdbdbd" opacity=".6"/>
<path d="M66.0 252.0 v-2.2" stroke="#6f6f6f" stroke-width=".45" fill="none"/>
<ellipse cx="66.0" cy="247.6" rx="1.7" ry="2.8" fill="#f6f6f6" stroke="#7a7a7a" stroke-width=".5"/>
<polygon points="126.0,253.0 140.0,248.8 152.1,252.1 138.1,256.3" fill="#b4b4b4" opacity="0.6"/>
<polygon points="114.0,249.4 126.0,253.0 126.0,242.0 114.0,238.4" fill="url(#hl)" stroke="#777" stroke-width=".3"/>
<polygon points="126.0,253.0 140.0,248.8 140.0,237.8 126.0,242.0" fill="url(#hr)" stroke="#777" stroke-width=".3"/>
<polygon points="126.0,242.0 140.0,237.8 128.0,234.2 114.0,238.4" fill="#fbfbfb" stroke="#777" stroke-width=".4"/>
<ellipse cx="81.0" cy="254.8" rx="3.2" ry="0.9" fill="#bdbdbd" opacity=".6"/>
<path d="M78.0 254.0 v-2.2" stroke="#6f6f6f" stroke-width=".45" fill="none"/>
<ellipse cx="78.0" cy="249.6" rx="1.7" ry="2.8" fill="#f6f6f6" stroke="#7a7a7a" stroke-width=".5"/>
<ellipse cx="177.0" cy="254.8" rx="3.2" ry="0.9" fill="#bdbdbd" opacity=".6"/>
<path d="M174.0 254.0 v-2.2" stroke="#6f6f6f" stroke-width=".45" fill="none"/>
<ellipse cx="174.0" cy="249.6" rx="1.7" ry="2.8" fill="#f6f6f6" stroke="#7a7a7a" stroke-width=".5"/>
<polygon points="247.0,255.0 257.0,252.0 264.7,254.1 254.7,257.1" fill="#b4b4b4" opacity="0.6"/>
<polygon points="238.0,252.3 247.0,255.0 247.0,248.0 238.0,245.3" fill="url(#hl)" stroke="#777" stroke-width=".3"/>
<polygon points="247.0,255.0 257.0,252.0 257.0,245.0 247.0,248.0" fill="url(#hr)" stroke="#777" stroke-width=".3"/>
<polygon points="247.0,248.0 257.0,245.0 248.0,242.3 238.0,245.3" fill="#fbfbfb" stroke="#777" stroke-width=".4"/>
<ellipse cx="73.0" cy="256.8" rx="3.2" ry="0.9" fill="#bdbdbd" opacity=".6"/>
<path d="M70.0 256.0 v-2.2" stroke="#6f6f6f" stroke-width=".45" fill="none"/>
<ellipse cx="70.0" cy="251.6" rx="1.7" ry="2.8" fill="#f6f6f6" stroke="#7a7a7a" stroke-width=".5"/>
<ellipse cx="65.0" cy="256.8" rx="3.2" ry="0.9" fill="#bdbdbd" opacity=".6"/>
<path d="M62.0 256.0 v-2.2" stroke="#6f6f6f" stroke-width=".45" fill="none"/>
<ellipse cx="62.0" cy="251.6" rx="1.7" ry="2.8" fill="#f6f6f6" stroke="#7a7a7a" stroke-width=".5"/>
<polygon points="190.0,257.0 200.0,254.0 206.6,255.8 196.6,258.8" fill="#b4b4b4" opacity="0.6"/>
<polygon points="181.0,254.3 190.0,257.0 190.0,251.0 181.0,248.3" fill="url(#hl)" stroke="#777" stroke-width=".3"/>
<polygon points="190.0,257.0 200.0,254.0 200.0,248.0 190.0,251.0" fill="url(#hr)" stroke="#777" stroke-width=".3"/>
<polygon points="190.0,251.0 200.0,248.0 191.0,245.3 181.0,248.3" fill="#fbfbfb" stroke="#777" stroke-width=".4"/>
<polygon points="221.0,257.0 232.0,253.7 238.6,255.5 227.6,258.8" fill="#b4b4b4" opacity="0.6"/>
<polygon points="211.0,254.0 221.0,257.0 221.0,251.0 211.0,248.0" fill="url(#hl)" stroke="#777" stroke-width=".3"/>
<polygon points="221.0,257.0 232.0,253.7 232.0,247.7 221.0,251.0" fill="url(#hr)" stroke="#777" stroke-width=".3"/>
<polygon points="221.0,251.0 232.0,247.7 222.0,244.7 211.0,248.0" fill="#fbfbfb" stroke="#777" stroke-width=".4"/>
<ellipse cx="35.6" cy="259.0" rx="3.8" ry="1.1" fill="#bdbdbd" opacity=".6"/>
<path d="M32.0 258.0 v-2.6" stroke="#6f6f6f" stroke-width=".45" fill="none"/>
<ellipse cx="32.0" cy="252.7" rx="2.0" ry="3.4" fill="#f6f6f6" stroke="#7a7a7a" stroke-width=".5"/>
<ellipse cx="95.3" cy="259.9" rx="3.5" ry="1.0" fill="#bdbdbd" opacity=".6"/>
<path d="M92.0 259.0 v-2.4" stroke="#6f6f6f" stroke-width=".45" fill="none"/>
<ellipse cx="92.0" cy="254.2" rx="1.9" ry="3.1" fill="#f6f6f6" stroke="#7a7a7a" stroke-width=".5"/>
<ellipse cx="47.6" cy="261.0" rx="3.8" ry="1.1" fill="#bdbdbd" opacity=".6"/>
<path d="M44.0 260.0 v-2.6" stroke="#6f6f6f" stroke-width=".45" fill="none"/>
<ellipse cx="44.0" cy="254.7" rx="2.0" ry="3.4" fill="#f6f6f6" stroke="#7a7a7a" stroke-width=".5"/>
<ellipse cx="77.2" cy="260.8" rx="3.4" ry="0.9" fill="#bdbdbd" opacity=".6"/>
<path d="M74.0 260.0 v-2.3" stroke="#6f6f6f" stroke-width=".45" fill="none"/>
<ellipse cx="74.0" cy="255.4" rx="1.8" ry="2.9" fill="#f6f6f6" stroke="#7a7a7a" stroke-width=".5"/>
<ellipse cx="59.6" cy="263.0" rx="3.8" ry="1.1" fill="#bdbdbd" opacity=".6"/>
<path d="M56.0 262.0 v-2.6" stroke="#6f6f6f" stroke-width=".45" fill="none"/>
<ellipse cx="56.0" cy="256.7" rx="2.0" ry="3.4" fill="#f6f6f6" stroke="#7a7a7a" stroke-width=".5"/>
<ellipse cx="83.3" cy="262.9" rx="3.5" ry="1.0" fill="#bdbdbd" opacity=".6"/>
<path d="M80.0 262.0 v-2.4" stroke="#6f6f6f" stroke-width=".45" fill="none"/>
<ellipse cx="80.0" cy="257.2" rx="1.9" ry="3.1" fill="#f6f6f6" stroke="#7a7a7a" stroke-width=".5"/>
<ellipse cx="71.6" cy="265.0" rx="3.8" ry="1.1" fill="#bdbdbd" opacity=".6"/>
<path d="M68.0 264.0 v-2.6" stroke="#6f6f6f" stroke-width=".45" fill="none"/>
<ellipse cx="68.0" cy="258.7" rx="2.0" ry="3.4" fill="#f6f6f6" stroke="#7a7a7a" stroke-width=".5"/>
<polygon points="99.0,266.0 110.0,262.7 118.8,265.1 107.8,268.4" fill="#b4b4b4" opacity="0.6"/>
<polygon points="89.0,263.0 99.0,266.0 99.0,258.0 89.0,255.0" fill="url(#hl)" stroke="#777" stroke-width=".3"/>
<polygon points="99.0,266.0 110.0,262.7 110.0,254.7 99.0,258.0" fill="url(#hr)" stroke="#777" stroke-width=".3"/>
<polygon points="99.0,258.0 110.0,254.7 100.0,251.7 89.0,255.0" fill="#fbfbfb" stroke="#777" stroke-width=".4"/>
<ellipse cx="189.6" cy="267.0" rx="3.8" ry="1.1" fill="#bdbdbd" opacity=".6"/>
<path d="M186.0 266.0 v-2.6" stroke="#6f6f6f" stroke-width=".45" fill="none"/>
<ellipse cx="186.0" cy="260.7" rx="2.0" ry="3.4" fill="#f6f6f6" stroke="#7a7a7a" stroke-width=".5"/>
<ellipse cx="179.8" cy="269.0" rx="4.0" ry="1.1" fill="#bdbdbd" opacity=".6"/>
<path d="M176.0 268.0 v-2.8" stroke="#6f6f6f" stroke-width=".45" fill="none"/>
<ellipse cx="176.0" cy="262.5" rx="2.1" ry="3.5" fill="#f6f6f6" stroke="#7a7a7a" stroke-width=".5"/>
<polygon points="30.0,270.0 39.0,267.3 46.7,269.4 37.7,272.1" fill="#b4b4b4" opacity="0.6"/>
<polygon points="22.0,267.6 30.0,270.0 30.0,263.0 22.0,260.6" fill="url(#hl)" stroke="#777" stroke-width=".3"/>
<polygon points="30.0,270.0 39.0,267.3 39.0,260.3 30.0,263.0" fill="url(#hr)" stroke="#777" stroke-width=".3"/>
<polygon points="30.0,263.0 39.0,260.3 31.0,257.9 22.0,260.6" fill="#fbfbfb" stroke="#777" stroke-width=".4"/>
<ellipse cx="73.3" cy="270.9" rx="3.5" ry="1.0" fill="#bdbdbd" opacity=".6"/>
<path d="M70.0 270.0 v-2.4" stroke="#6f6f6f" stroke-width=".45" fill="none"/>
<ellipse cx="70.0" cy="265.2" rx="1.9" ry="3.1" fill="#f6f6f6" stroke="#7a7a7a" stroke-width=".5"/>
<ellipse cx="85.3" cy="270.9" rx="3.5" ry="1.0" fill="#bdbdbd" opacity=".6"/>
<path d="M82.0 270.0 v-2.4" stroke="#6f6f6f" stroke-width=".45" fill="none"/>
<ellipse cx="82.0" cy="265.2" rx="1.9" ry="3.1" fill="#f6f6f6" stroke="#7a7a7a" stroke-width=".5"/>
<ellipse cx="169.9" cy="275.0" rx="4.2" ry="1.2" fill="#bdbdbd" opacity=".6"/>
<path d="M166.0 274.0 v-2.9" stroke="#6f6f6f" stroke-width=".45" fill="none"/>
<ellipse cx="166.0" cy="268.3" rx="2.2" ry="3.6" fill="#f6f6f6" stroke="#7a7a7a" stroke-width=".5"/>
<polygon points="60.0,275.0 69.0,272.3 75.6,274.1 66.6,276.8" fill="#b4b4b4" opacity="0.6"/>
<polygon points="53.0,272.9 60.0,275.0 60.0,269.0 53.0,266.9" fill="url(#hl)" stroke="#777" stroke-width=".3"/>
<polygon points="60.0,275.0 69.0,272.3 69.0,266.3 60.0,269.0" fill="url(#hr)" stroke="#777" stroke-width=".3"/>
<polygon points="60.0,269.0 69.0,266.3 62.0,264.2 53.0,266.9" fill="#fbfbfb" stroke="#777" stroke-width=".4"/>
<ellipse cx="69.5" cy="278.9" rx="3.7" ry="1.0" fill="#bdbdbd" opacity=".6"/>
<path d="M66.0 278.0 v-2.5" stroke="#6f6f6f" stroke-width=".45" fill="none"/>
<ellipse cx="66.0" cy="272.9" rx="2.0" ry="3.2" fill="#f6f6f6" stroke="#7a7a7a" stroke-width=".5"/>
<ellipse cx="111.9" cy="280.0" rx="4.2" ry="1.2" fill="#bdbdbd" opacity=".6"/>
<path d="M108.0 279.0 v-2.9" stroke="#6f6f6f" stroke-width=".45" fill="none"/>
<ellipse cx="108.0" cy="273.3" rx="2.2" ry="3.6" fill="#f6f6f6" stroke="#7a7a7a" stroke-width=".5"/>
<ellipse cx="151.1" cy="281.1" rx="4.3" ry="1.2" fill="#bdbdbd" opacity=".6"/>
<path d="M147.0 280.0 v-3.0" stroke="#6f6f6f" stroke-width=".45" fill="none"/>
<ellipse cx="147.0" cy="274.1" rx="2.3" ry="3.8" fill="#f6f6f6" stroke="#7a7a7a" stroke-width=".5"/>
<ellipse cx="131.9" cy="282.0" rx="4.2" ry="1.2" fill="#bdbdbd" opacity=".6"/>
<path d="M128.0 281.0 v-2.9" stroke="#6f6f6f" stroke-width=".45" fill="none"/>
<ellipse cx="128.0" cy="275.3" rx="2.2" ry="3.6" fill="#f6f6f6" stroke="#7a7a7a" stroke-width=".5"/>
<ellipse cx="77.5" cy="281.9" rx="3.7" ry="1.0" fill="#bdbdbd" opacity=".6"/>
<path d="M74.0 281.0 v-2.5" stroke="#6f6f6f" stroke-width=".45" fill="none"/>
<ellipse cx="74.0" cy="275.9" rx="2.0" ry="3.2" fill="#f6f6f6" stroke="#7a7a7a" stroke-width=".5"/>
<ellipse cx="29.9" cy="285.0" rx="4.2" ry="1.2" fill="#bdbdbd" opacity=".6"/>
<path d="M26.0 284.0 v-2.9" stroke="#6f6f6f" stroke-width=".45" fill="none"/>
<ellipse cx="26.0" cy="278.3" rx="2.2" ry="3.6" fill="#f6f6f6" stroke="#7a7a7a" stroke-width=".5"/>
<polygon points="112.0,285.0 123.0,281.7 131.8,284.1 120.8,287.4" fill="#b4b4b4" opacity="0.6"/>
<polygon points="103.0,282.3 112.0,285.0 112.0,277.0 103.0,274.3" fill="url(#hl)" stroke="#777" stroke-width=".3"/>
<polygon points="112.0,285.0 123.0,281.7 123.0,273.7 112.0,277.0" fill="url(#hr)" stroke="#777" stroke-width=".3"/>
<polygon points="112.0,277.0 123.0,273.7 114.0,271.0 103.0,274.3" fill="#fbfbfb" stroke="#777" stroke-width=".4"/>
<polygon points="40.0,287.0 53.0,283.1 64.0,286.1 51.0,290.0" fill="#b4b4b4" opacity="0.6"/>
<polygon points="29.0,283.7 40.0,287.0 40.0,277.0 29.0,273.7" fill="url(#hl)" stroke="#777" stroke-width=".3"/>
<polygon points="40.0,287.0 53.0,283.1 53.0,273.1 40.0,277.0" fill="url(#hr)" stroke="#777" stroke-width=".3"/>
<polygon points="40.0,277.0 53.0,273.1 42.0,269.8 29.0,273.7" fill="#fbfbfb" stroke="#777" stroke-width=".4"/>
<polygon points="76.0,288.0 89.0,284.1 100.0,287.1 87.0,291.0" fill="#b4b4b4" opacity="0.6"/>
<polygon points="65.0,284.7 76.0,288.0 76.0,278.0 65.0,274.7" fill="url(#hl)" stroke="#777" stroke-width=".3"/>
<polygon points="76.0,288.0 89.0,284.1 89.0,274.1 76.0,278.0" fill="url(#hr)" stroke="#777" stroke-width=".3"/>
<polygon points="76.0,278.0 89.0,274.1 78.0,270.8 65.0,274.7" fill="#fbfbfb" stroke="#777" stroke-width=".4"/>
<ellipse cx="146.5" cy="261" rx="12" ry="4.6" fill="#fafafa" stroke="#9a9a9a" stroke-width=".45"/>
<ellipse cx="146.5" cy="261" rx="16" ry="6.4" fill="none" stroke="#bdbdbd" stroke-width=".4"/>
<ellipse cx="146.5" cy="259.6" rx="5.6" ry="2.2" fill="#e2e2e2" stroke="#858585" stroke-width=".45"/>
<path d="M176 271.0 Q222 267.0 261 256.0" fill="none" stroke="#d4d4d4" stroke-width=".45"/>
<path d="M176 275.5 Q222 271.5 261 260.5" fill="none" stroke="#d4d4d4" stroke-width=".45"/>
<path d="M176 280.0 Q222 276.0 261 265.0" fill="none" stroke="#d4d4d4" stroke-width=".45"/>
<path d="M176 284.5 Q222 280.5 261 269.5" fill="none" stroke="#d4d4d4" stroke-width=".45"/>
<path d="M176 289.0 Q222 285.0 261 274.0" fill="none" stroke="#d4d4d4" stroke-width=".45"/>
<path d="M176 293.5 Q222 289.5 261 278.5" fill="none" stroke="#d4d4d4" stroke-width=".45"/>
<path d="M150 255 Q160 232 178 212 T206 186" fill="none" stroke="#c9c9c9" stroke-width=".4"/>
<path d="M124 289 Q130 275 140 266" fill="none" stroke="#c9c9c9" stroke-width=".4"/>
<path d="M153 255 Q163 232 181 212 T208 186" fill="none" stroke="#c9c9c9" stroke-width=".4"/>
<path d="M129 289 Q134 275 143 266" fill="none" stroke="#c9c9c9" stroke-width=".4"/>
<path d="M156 255 Q166 232 184 212 T210 186" fill="none" stroke="#c9c9c9" stroke-width=".4"/>
<path d="M134 289 Q138 275 146 266" fill="none" stroke="#c9c9c9" stroke-width=".4"/>
<rect x="25" y="160" width="236" height="26" fill="url(#cityfade)"/>
</g></g>
<path d="M165.3 148 L123.4 223 L182.2 223 Z" fill="url(#beam)"/>
<use href="#phone" transform="translate(30.5 188.7) scale(0.6882 0.6710)"/>
<use href="#phone" transform="translate(70 180.5) scale(0.6989 0.6684)"/>
<use href="#phone" transform="translate(118.8 177.5) scale(0.6989 0.6606)"/>
<use href="#phone" transform="translate(123.8 219.2) scale(0.6720 0.6684)"/>
<use href="#phone" transform="translate(90.8 237.5) scale(0.6989 0.6503)"/>
<use href="#phone" transform="translate(198 190.4) scale(0.7151 0.6528)"/>
<use href="#phone" transform="translate(180 227) scale(0.6989 0.6736)"/>
<use href="#phone" transform="translate(186.7 342.1) scale(0.9677 0.9948)"/>
<rect x="55.65" y="151" width="1.9" height="91" fill="url(#ln)"/>
<circle cx="56.6" cy="242" r="4.6" fill="#ff0000"/>
<rect x="102.75" y="132.5" width="1.9" height="82.5" fill="url(#ln)"/>
<circle cx="103.7" cy="215" r="4.6" fill="#ff0000"/>
<rect x="221.55" y="153.5" width="1.9" height="94.5" fill="url(#ln)"/>
<circle cx="222.5" cy="248" r="4.6" fill="#ff0000"/>
<use href="#wifi" transform="translate(59.2 120.6) scale(1.0140)"/>
<use href="#wifi" transform="translate(106.7 112.4) scale(0.8131)"/>
<use href="#wifi" transform="translate(230.2 118.3) scale(1.0327)"/>
<use href="#wifi" transform="translate(41.9 375.0) scale(1.0093)"/>
<use href="#router" transform="translate(37.5 115) scale(1.0000 1.0000)"/>
<use href="#router" transform="translate(89.5 107.3) scale(0.7182 0.7093)"/>
<use href="#router" transform="translate(204 118.3) scale(0.9939 0.9840)"/>
<use href="#router" transform="translate(26.2 375.4) scale(0.9909 0.9733)"/>
<use href="#drone" transform="translate(140.8 124.5) scale(1.0000 1.0000)"/>
<use href="#drone" transform="translate(169.0 409.6) scale(0.9145 0.9179)"/>
<path d="M73.4 332.4 C68.6 334 67.2 339.5 67 348 L67 378 C67 384.5 64.5 387.5 60.2 389.3 C64.5 391 67 394 67 400.5 L67.2 436 C67.2 447 67.5 453 73.8 455" fill="none" stroke="#a04c10" stroke-width="1.8"/>
<g>
<path d="M73.2 337 L73.2 350.6 L76.2 354.6 L93.6 355.8 L98.6 351 L98.6 337 Z" fill="url(#metal)"/>
<path d="M73.2 346.4 L73.2 350.6 L76.2 354.6 L93.6 355.8 L98.6 351 L98.6 347 L86 345.4 Z" fill="#6a6a6a" opacity=".5"/>
<path d="M75.4 343.2 L79.6 344.6" stroke="#4a4a4a" stroke-width="1" fill="none"/>
<path d="M87.2 345.6 L100.6 351.2 L99 355.4 L86 350 Z" fill="#b9b9b9"/>
<path d="M87.6 346.6 L99.4 351.6" stroke="#f2f2f2" stroke-width=".9" fill="none"/>
<path d="M99.6 350.4 L104 352.8 L102.4 356.6 L98 354.4 Z" fill="#2c2a26"/>
<ellipse cx="86.3" cy="336" rx="11.9" ry="5.4" fill="#b4b4b4" stroke="#8a8a8a" stroke-width=".8"/>
<ellipse cx="86.3" cy="335.6" rx="9.4" ry="3.9" fill="#c6c6c6"/>
<circle cx="84.3" cy="335.6" r=".85" fill="#1c1c1c"/><circle cx="87.9" cy="335.6" r=".85" fill="#1c1c1c"/>
</g>
<g>
<path d="M74 371.5 Q74.6 361.4 88.2 360.4 Q101.8 361.4 102.8 371.5 Q95 379.4 88.2 379.4 Q81 379.4 74 371.5 Z" fill="#f7f1e3"/>
<path d="M74.4 370.8 Q88.2 383 102.4 370.8" fill="none" stroke="#0f0f0f" stroke-width="1.9"/>
<path d="M78 370.6 H98.6" stroke="#8a8576" stroke-width=".4" fill="none"/>
<path d="M88.2 363 V376.8" stroke="#1a1a1a" stroke-width=".9" fill="none"/>
<circle cx="88.2" cy="362.9" r="1.25" fill="#0f0f0f"/>
<path d="M86.9 370.4 h2.6 l-.4 3.8 h-1.8 Z" fill="#111"/>
</g>
<g>
<path d="M71.4 392.6 L75.2 387.4 L95.2 384.3 L97.6 386 L106.3 402.6 L104.4 405 L84.4 412.9 L82.4 411.6 Z" fill="#a3a3a3"/>
<path d="M73.2 391.8 L76.4 388.4 L94.6 385.6 L104 402 L101.6 404.4 L84.6 410.6 Z" fill="#0b0b0d"/>
<path d="M85.2 393.8 a2.9 2.9 0 1 1 5.4 1.7 l-1.3 -2.2 l-1.1 1.6 l-1.1 -1.8 Z" fill="#f4f4f4"/>
<text transform="translate(79.6 400.9) rotate(-11)" font-family="Liberation Sans, sans-serif" font-weight="700" font-size="3.6" fill="#f0f0f0" textLength="17.5" lengthAdjust="spacingAndGlyphs">MICROCHIP</text>
<text transform="translate(81 405.4) rotate(-11)" font-family="Liberation Sans, sans-serif" font-size="4" fill="#b4b4b4" textLength="18.5" lengthAdjust="spacingAndGlyphs">PIC18F1527</text>
</g>
<g>
<rect x="82" y="417" width="3.8" height="12.5" rx="0.8" fill="#141416"/>
<path d="M74.6 431 L75.4 441.4 L89.4 450.6 L104.4 447 L104.6 436 L92 428.4 Z" fill="#101012"/>
<path d="M74.6 430.6 L92.6 426.8 L102.2 433.8 L87.6 440.6 Z" fill="#4378e2"/>
<path d="M76.6 430.8 L92.2 427.6 L96.4 430.6 L80.6 434.2 Z" fill="#7aa6f5"/>
<path d="M89.4 442 L103 438.4 L103 445.2 L89.8 449 Z" fill="#4b4b4f"/>
<path d="M90.6 443.2 L101.8 440.2 L101.8 443.6 L90.8 446.6 Z" fill="#8a8a8d"/>
</g>
<path d="M10.5 9.8 H661 A9.5 9.5 0 0 1 670.5 19.3 V470.6 A9.5 9.5 0 0 1 661 480.1 H10.5 A9.5 9.5 0 0 1 1 470.6 V19.3 A9.5 9.5 0 0 1 10.5 9.8 Z" fill="none" stroke="#7f7f7f" stroke-width="1.05" stroke-dasharray="4.3 1.3"/>
<path d="M1 19.5 V470.5" fill="none" stroke="#7a7a7a" stroke-width="2.1" stroke-dasharray="3.6 2"/>
<path d="M15.3 51.7 H658.9 V270.5 H274 V466.4 H15.3 Z" fill="none" stroke="#00b0f0" stroke-width="1.5" stroke-dasharray="4.3 1.6"/>
<rect x="304.4" y="333.7" width="348.3" height="68.7" rx="10" ry="10" fill="none" stroke="#00b0f0" stroke-width="1.2" stroke-dasharray="4.3 1.5"/>
<rect x="289" y="101" width="194" height="23.599999999999994" fill="#fff" stroke="#242424" stroke-width="1.15"/>
<rect x="289" y="165.6" width="194" height="24.0" fill="#fff" stroke="#242424" stroke-width="1.15"/>
<rect x="288.5" y="229.4" width="194.5" height="23.599999999999994" fill="#fff" stroke="#242424" stroke-width="1.15"/>
<rect x="535.8" y="101" width="110.70000000000005" height="24" fill="#fff" stroke="#242424" stroke-width="1.15"/>
<rect x="535.8" y="165.6" width="110.70000000000005" height="24.0" fill="#fff" stroke="#242424" stroke-width="1.15"/>
<rect x="532.4" y="218.7" width="120.39999999999998" height="40.5" fill="#fff" stroke="#242424" stroke-width="1.15"/>
<path d="M493.6 110.80000000000001 H515 V107.9 L527 113.9 L515 119.9 V117.0 H493.6 Z" fill="#00b0f0"/>
<path d="M493.6 176.1 H515 V173.2 L527 179.2 L515 185.2 V182.29999999999998 H493.6 Z" fill="#00b0f0"/>
<path d="M492.5 239.1 H515 V236.2 L527 242.2 L515 248.2 V245.29999999999998 H492.5 Z" fill="#00b0f0"/>
<path d="M427.5 294.5 V313.5 H424.90000000000003 L430.6 324.5 L436.3 313.5 H433.70000000000005 V294.5 Z" fill="#00b0f0"/>
<path d="M521.6 324.5 V305.5 H519.0 L524.7 294.5 L530.4000000000001 305.5 H527.8000000000001 V324.5 Z" fill="#00b0f0"/>
<path d="M471.29999999999995 407.3 V426.0 H468.4 L474.4 437.6 L480.4 426.0 H477.5 V407.3 Z" fill="#00b0f0"/>
<ellipse cx="478" cy="308.1" rx="33.7" ry="16.3" fill="#fff" stroke="#2f4f8f" stroke-width="1"/>
</svg>
<div class="t" style="left:145.10px;top:22.99px;font-size:18.46px;letter-spacing:1.39px;color:#ff0000;-webkit-text-stroke:0.30px #ff0000;">城市大规模建筑群地震灾害风险智能感知系统</div>
<div class="t" style="left:101.50px;top:65.19px;font-size:18.32px;letter-spacing:1.38px;color:#0000ff;-webkit-text-stroke:0.30px #0000ff;">硬件装备</div>
<div class="t" style="left:394.60px;top:65.19px;font-size:18.32px;letter-spacing:1.38px;color:#0000ff;-webkit-text-stroke:0.30px #0000ff;">算法<span style="margin:0 .5px">+</span>模式库<span style="margin:0 .5px">+</span>平台</div>
<div class="t" style="left:386.70px;top:450.49px;font-size:18.46px;letter-spacing:1.39px;color:#0000ff;-webkit-text-stroke:0.30px #0000ff;">技术装备产业化应用</div>
<div class="t" style="left:303.67px;top:107.98px;font-size:12.79px;letter-spacing:0.96px;color:#000;-webkit-text-stroke:0.21px #000;">大数据与人工智能评估算法</div>
<div class="t" style="left:310.07px;top:172.68px;font-size:12.79px;letter-spacing:0.96px;color:#000;-webkit-text-stroke:0.21px #000;">建筑结构地震损伤模式库</div>
<div class="t" style="left:296.67px;top:235.78px;font-size:12.79px;letter-spacing:0.96px;color:#000;-webkit-text-stroke:0.21px #000;">专业设备与群智感知融合平台</div>
<div class="t" style="left:550.77px;top:108.08px;font-size:12.74px;letter-spacing:0.96px;color:#ff0000;-webkit-text-stroke:0.21px #ff0000;">震前风险评估</div>
<div class="t" style="left:550.77px;top:172.78px;font-size:12.74px;letter-spacing:0.96px;color:#ff0000;-webkit-text-stroke:0.21px #ff0000;">震后快速匹配</div>
<div class="t" style="left:544.67px;top:226.28px;font-size:12.79px;letter-spacing:0.96px;color:#ff0000;-webkit-text-stroke:0.21px #ff0000;">建筑群震害快速</div>
<div class="t" style="left:578.97px;top:241.68px;font-size:12.79px;letter-spacing:0.96px;color:#ff0000;-webkit-text-stroke:0.21px #ff0000;">评估</div>
<div class="t" style="left:367.47px;top:305.57px;font-size:12.56px;letter-spacing:0.94px;color:#000;-webkit-text-stroke:0.20px #000;">示范应用</div>
<div class="t" style="left:465.46px;top:302.36px;font-size:12.09px;letter-spacing:0.91px;color:#000;-webkit-text-stroke:0.20px #000;">地震</div>
<div class="t" style="left:536.27px;top:305.88px;font-size:12.83px;letter-spacing:0.97px;color:#000;-webkit-text-stroke:0.21px #000;">验证优化</div>
<div class="t" style="left:323.07px;top:343.28px;font-size:12.69px;letter-spacing:0.96px;color:#ff0000;-webkit-text-stroke:0.20px #ff0000;">川滇城市群</div>
<div class="t" style="left:432.47px;top:343.28px;font-size:12.74px;letter-spacing:0.96px;color:#ff0000;-webkit-text-stroke:0.21px #ff0000;">首都圈城市群</div>
<div class="t" style="left:552.27px;top:343.28px;font-size:12.74px;letter-spacing:0.96px;color:#ff0000;-webkit-text-stroke:0.21px #ff0000;">粤港澳大湾区</div>
<div class="t" style="left:326.07px;top:363.90px;font-size:13.25px;letter-spacing:1.00px;color:#4472c4;-webkit-text-stroke:0.21px #4472c4;word-spacing:1.3px;-webkit-text-stroke:.17px #4472c4">昆明 大理</div>
<div class="t" style="left:326.07px;top:380.30px;font-size:13.25px;letter-spacing:1.00px;color:#4472c4;-webkit-text-stroke:0.21px #4472c4;word-spacing:1.3px;-webkit-text-stroke:.17px #4472c4">西昌 康定</div>
<div class="t" style="left:426.47px;top:371.80px;font-size:13.25px;letter-spacing:1.00px;color:#4472c4;-webkit-text-stroke:0.21px #4472c4;word-spacing:1.3px;-webkit-text-stroke:.17px #4472c4">北京 天津 唐山</div>
<div class="t" style="left:561.77px;top:371.80px;font-size:13.25px;letter-spacing:1.00px;color:#4472c4;-webkit-text-stroke:0.21px #4472c4;word-spacing:1.3px;-webkit-text-stroke:.17px #4472c4">深圳 河源</div>
<div class="t" style="left:31.26px;top:306.51px;font-size:10.93px;letter-spacing:0.82px;color:#ff0000;-webkit-text-stroke:0.18px #ff0000;">多功能结构监测传感器</div>
<div class="t" style="left:159.66px;top:306.52px;font-size:11.07px;letter-spacing:0.83px;color:#ff0000;-webkit-text-stroke:0.18px #ff0000;">多尺度群智感知设备</div>
<div class="t" style="left:110.05px;top:335.46px;font-size:9.53px;letter-spacing:0.72px;color:#000;-webkit-text-stroke:0.28px #000;">加速度计</div>
<div class="t" style="left:112.05px;top:368.06px;font-size:9.53px;letter-spacing:0.72px;color:#000;-webkit-text-stroke:0.28px #000;">倾斜计</div>
<div class="t" style="left:113.05px;top:401.46px;font-size:9.58px;letter-spacing:0.72px;color:#000;-webkit-text-stroke:0.28px #000;">计算模块</div>
<div class="t" style="left:112.25px;top:435.46px;font-size:9.58px;letter-spacing:0.72px;color:#000;-webkit-text-stroke:0.28px #000;">通信模块</div>
<div class="t" style="left:216.25px;top:358.16px;font-size:9.53px;letter-spacing:0.72px;color:#000;-webkit-text-stroke:0.28px #000;">智能手机</div>
<div class="t" style="left:221.75px;top:415.26px;font-size:9.53px;letter-spacing:0.72px;color:#000;-webkit-text-stroke:0.28px #000;">无人机</div>
</body>
</html>
